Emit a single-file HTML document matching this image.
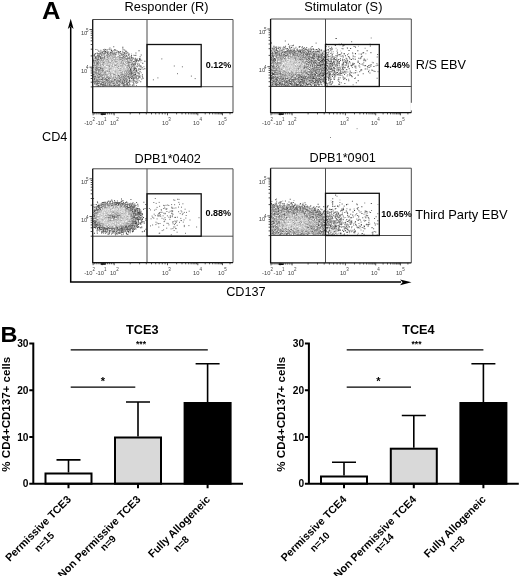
<!DOCTYPE html><html><head><meta charset="utf-8"><title>Figure</title><style>html,body{margin:0;padding:0;background:#fff}svg{display:block}text{font-family:"Liberation Sans",Arial,sans-serif;fill:#000}.b{font-weight:bold}.t{font-size:5.8px;fill:#444}.s{font-size:4.5px;fill:#444}</style></head><body>
<svg width="520" height="576" viewBox="0 0 520 576">
<rect width="520" height="576" fill="#fff"/>
<defs><filter id="bl" x="-5%" y="-5%" width="110%" height="110%"><feGaussianBlur stdDeviation="0.5"/></filter></defs>
<text class="b" font-size="23.2" transform="translate(42 19) scale(1.1 1)">A</text>
<path d="M70.7 27V282H401" stroke="#000" stroke-width="1.5" fill="none"/>
<path d="M70.7 18.8L73.6 29L70.7 26.6L67.8 29Z" fill="#000"/>
<path d="M411.5 282.3L400 279.4L402.6 282.3L400 285.2Z" fill="#000"/>
<text font-size="12.7" x="42" y="141.3">CD4</text>
<text font-size="12.7" x="226.2" y="296.3">CD137</text>
<text font-size="12.8" x="124.6" y="11.3">Responder (R)</text>
<text font-size="12.8" x="304.2" y="11.3">Stimulator (S)</text>
<text font-size="12.7" x="134.5" y="162.5">DPB1*0402</text>
<text font-size="12.7" x="309.5" y="162">DPB1*0901</text>
<text font-size="12.7" x="415.8" y="68.8">R/S EBV</text>
<text font-size="12.9" x="415.2" y="219">Third Party EBV</text>
<g filter="url(#bl)">
<path d="M122.3 47.3h1.05M108.6 49.3h1.05M104.8 49.5h1.05M110.9 50.4h1.05M114.3 49.6h1.05M105.0 51.5h1.05M111.4 51.0h1.05M119.8 51.4h1.05M125.3 51.1h1.05M138.5 50.8h1.05M103.5 51.6h1.05M105.5 52.3h1.05M110.2 52.5h1.05M116.2 52.2h1.05M118.6 52.3h1.05M99.5 53.4h1.05M110.1 53.1h1.05M111.1 52.9h1.05M113.8 53.3h1.05M123.9 52.6h1.05M93.9 54.4h1.05M95.0 53.8h1.05M108.1 54.3h1.05M120.4 53.6h1.05M123.9 53.7h1.05M126.2 53.8h1.05M94.0 54.8h1.05M97.2 55.3h1.05M99.0 54.9h1.05M111.3 55.0h1.05M113.6 55.2h1.05M121.2 55.1h1.05M93.5 55.8h1.05M97.7 56.3h1.05M100.0 56.4h1.05M134.5 55.5h1.05M99.7 57.2h1.05M103.9 56.9h1.05M117.6 56.7h1.05M130.7 56.8h1.05M95.1 57.6h1.05M100.3 57.5h1.05M102.3 58.2h1.05M103.9 57.6h1.05M124.2 57.8h1.05M128.5 58.1h1.05M130.7 57.9h1.05M131.5 57.8h1.05M95.5 58.8h1.05M96.7 58.9h1.05M97.6 59.5h1.05M106.4 59.2h1.05M126.3 58.7h1.05M127.3 58.7h1.05M136.6 58.9h1.05M134.5 59.9h1.05M135.8 60.1h1.05M139.1 59.6h1.05M95.3 60.6h1.05M133.0 61.4h1.05M136.0 61.3h1.05M137.8 61.0h1.05M138.4 60.8h1.05M144.3 61.2h1.05M134.2 61.7h1.05M96.5 63.1h1.05M128.2 62.6h1.05M142.2 63.3h1.05M133.9 63.8h1.05M115.6 64.8h1.05M133.5 65.7h1.05M140.3 65.9h1.05M131.4 66.8h1.05M136.6 66.8h1.05M95.2 67.7h1.05M96.2 68.1h1.05M133.8 68.5h1.05M96.9 69.0h1.05M100.0 68.8h1.05M129.7 68.6h1.05M130.5 69.3h1.05M133.8 69.4h1.05M144.3 68.8h1.05M96.1 70.3h1.05M129.8 69.6h1.05M130.2 70.4h1.05M136.1 70.2h1.05M97.7 70.8h1.05M101.7 70.6h1.05M130.5 70.6h1.05M132.8 70.7h1.05M135.8 71.3h1.05M136.3 71.3h1.05M105.2 72.3h1.05M126.2 72.3h1.05M129.5 71.5h1.05M130.6 72.2h1.05M137.4 72.4h1.05M131.0 73.1h1.05M98.7 74.3h1.05M129.6 74.1h1.05M135.1 74.4h1.05M93.0 74.8h1.05M133.3 75.1h1.05M134.3 74.8h1.05M96.8 75.7h1.05M131.1 76.2h1.05M131.9 76.1h1.05M133.3 75.9h1.05M137.3 75.7h1.05M94.1 76.6h1.05M99.1 76.9h1.05M129.5 77.2h1.05M94.4 78.2h1.05M118.7 78.5h1.05M124.1 78.0h1.05M131.0 78.5h1.05M133.4 78.2h1.05M134.6 77.9h1.05M138.0 78.0h1.05M142.5 78.3h1.05M93.8 79.5h1.05M93.9 78.9h1.05M128.6 78.7h1.05M133.2 79.3h1.05M97.2 80.1h1.05M101.6 79.8h1.05M126.6 80.1h1.05M128.9 80.3h1.05M133.4 80.5h1.05M94.5 81.4h1.05M97.4 81.4h1.05M107.8 80.8h1.05M111.4 81.2h1.05M115.9 81.1h1.05M120.4 80.7h1.05M128.8 81.2h1.05M135.3 81.2h1.05M93.2 82.0h1.05M97.8 81.8h1.05M98.8 81.9h1.05M120.2 82.1h1.05M123.8 81.8h1.05M125.5 81.9h1.05M126.1 81.7h1.05M128.1 82.4h1.05M130.4 81.8h1.05M132.6 82.3h1.05M136.3 82.0h1.05M96.3 83.2h1.05M100.6 83.4h1.05M101.6 82.5h1.05M102.7 82.7h1.05M105.1 83.1h1.05M112.5 83.1h1.05M121.0 83.3h1.05M126.8 82.9h1.05M97.2 83.8h1.05M97.9 83.5h1.05M102.2 84.5h1.05M102.9 84.2h1.05M110.2 83.7h1.05M112.8 83.7h1.05M126.3 83.6h1.05M127.0 84.4h1.05M98.0 85.4h1.05M105.1 85.2h1.05M109.4 85.0h1.05M113.9 85.4h1.05M131.8 85.3h1.05M97.1 86.3h1.05M102.4 86.4h1.05M107.4 85.7h1.05M109.4 85.6h1.05M123.1 85.9h1.05" stroke="#404040" stroke-width="1.05" stroke-opacity="1" fill="none"/>
<path d="M113.2 46.7h1.05M109.4 47.9h1.05M95.4 49.5h1.05M102.9 49.7h1.05M115.2 50.3h1.05M124.1 49.9h1.05M98.2 51.1h1.05M104.0 50.7h1.05M117.9 51.4h1.05M99.5 51.9h1.05M102.4 51.8h1.05M106.8 51.5h1.05M107.2 51.7h1.05M109.9 52.3h1.05M111.6 51.9h1.05M117.4 51.8h1.05M125.5 51.7h1.05M126.2 52.0h1.05M96.6 53.1h1.05M97.7 53.4h1.05M100.6 52.7h1.05M101.6 53.3h1.05M101.9 52.6h1.05M103.5 53.4h1.05M104.8 53.1h1.05M107.1 52.6h1.05M109.8 53.0h1.05M112.5 53.1h1.05M115.4 53.0h1.05M118.4 52.6h1.05M127.3 52.7h1.05M135.4 53.0h1.05M97.6 54.2h1.05M99.6 53.7h1.05M102.8 54.2h1.05M104.0 54.0h1.05M106.8 53.9h1.05M107.2 53.8h1.05M114.4 54.3h1.05M115.4 54.2h1.05M121.5 54.3h1.05M122.5 53.9h1.05M128.5 54.5h1.05M98.4 55.4h1.05M101.0 55.3h1.05M102.6 54.9h1.05M105.8 55.2h1.05M109.6 55.1h1.05M112.6 54.6h1.05M115.4 54.6h1.05M119.1 55.2h1.05M123.2 54.5h1.05M124.3 55.5h1.05M126.1 55.4h1.05M127.9 55.1h1.05M128.5 54.7h1.05M131.0 55.5h1.05M135.4 55.3h1.05M140.7 54.9h1.05M94.1 56.0h1.05M96.3 56.2h1.05M99.1 56.4h1.05M104.0 56.1h1.05M108.5 56.2h1.05M108.9 55.9h1.05M123.7 56.1h1.05M125.8 56.2h1.05M97.8 56.8h1.05M98.1 56.9h1.05M102.4 57.4h1.05M119.6 57.1h1.05M122.9 56.5h1.05M128.9 57.5h1.05M139.6 56.7h1.05M94.5 58.1h1.05M98.0 58.0h1.05M99.9 57.6h1.05M101.3 58.4h1.05M123.0 58.1h1.05M129.1 58.1h1.05M132.7 58.1h1.05M134.8 58.3h1.05M98.4 59.3h1.05M99.9 58.7h1.05M100.2 58.8h1.05M103.5 59.2h1.05M120.8 59.2h1.05M125.4 59.4h1.05M128.8 59.1h1.05M130.1 59.2h1.05M131.4 59.0h1.05M134.7 59.1h1.05M138.9 58.6h1.05M139.9 59.1h1.05M92.9 60.1h1.05M97.0 59.7h1.05M98.4 60.0h1.05M107.6 60.5h1.05M110.8 60.0h1.05M119.3 59.7h1.05M121.8 60.5h1.05M123.3 59.8h1.05M126.6 59.7h1.05M131.2 60.4h1.05M136.5 60.1h1.05M136.9 60.3h1.05M93.2 60.6h1.05M127.1 60.8h1.05M131.3 60.6h1.05M134.9 61.0h1.05M135.8 60.6h1.05M93.1 62.0h1.05M95.6 61.8h1.05M103.2 62.4h1.05M115.2 61.6h1.05M127.0 62.1h1.05M129.3 62.4h1.05M97.1 62.8h1.05M106.6 62.9h1.05M119.7 63.3h1.05M121.0 63.1h1.05M129.2 62.7h1.05M135.2 62.6h1.05M137.3 63.2h1.05M94.4 64.0h1.05M96.1 64.1h1.05M97.2 63.8h1.05M99.4 63.7h1.05M102.2 64.1h1.05M122.6 63.6h1.05M131.1 64.2h1.05M135.2 63.5h1.05M96.7 65.0h1.05M99.8 65.4h1.05M127.5 65.4h1.05M131.0 65.2h1.05M132.5 64.6h1.05M133.4 64.6h1.05M134.8 64.6h1.05M94.2 65.7h1.05M96.1 66.1h1.05M106.0 65.5h1.05M114.8 65.5h1.05M121.4 66.4h1.05M126.9 65.8h1.05M127.9 66.0h1.05M96.4 67.3h1.05M99.7 67.0h1.05M128.8 66.8h1.05M129.1 67.4h1.05M130.8 67.4h1.05M133.5 66.9h1.05M134.4 67.3h1.05M139.6 66.6h1.05M93.2 67.8h1.05M100.2 67.9h1.05M101.3 68.1h1.05M104.4 67.8h1.05M123.3 68.1h1.05M128.7 68.0h1.05M130.9 68.3h1.05M134.6 68.2h1.05M135.0 68.3h1.05M141.6 67.6h1.05M102.2 68.7h1.05M109.5 69.0h1.05M127.7 69.0h1.05M134.6 68.7h1.05M135.6 68.5h1.05M138.6 68.9h1.05M139.9 69.4h1.05M140.4 68.9h1.05M142.6 69.2h1.05M99.5 70.1h1.05M101.4 70.1h1.05M125.1 70.2h1.05M132.8 70.3h1.05M133.4 70.2h1.05M135.7 70.0h1.05M137.8 70.0h1.05M93.6 71.3h1.05M98.6 71.2h1.05M103.0 70.7h1.05M108.5 71.4h1.05M119.6 70.8h1.05M131.4 71.4h1.05M139.5 71.5h1.05M93.5 71.8h1.05M94.5 72.4h1.05M95.8 72.1h1.05M97.9 71.9h1.05M103.5 72.2h1.05M109.0 71.5h1.05M127.8 72.4h1.05M131.5 71.9h1.05M95.2 73.1h1.05M97.6 72.9h1.05M99.5 73.0h1.05M100.2 73.1h1.05M104.0 73.3h1.05M128.8 73.2h1.05M129.6 72.8h1.05M132.3 73.2h1.05M138.6 73.1h1.05M93.6 73.9h1.05M96.1 74.1h1.05M97.5 73.9h1.05M99.5 74.5h1.05M109.9 74.1h1.05M113.2 74.4h1.05M120.9 74.2h1.05M121.4 74.0h1.05M128.4 74.1h1.05M130.7 74.0h1.05M131.4 73.6h1.05M133.1 74.3h1.05M98.4 74.5h1.05M105.4 74.6h1.05M115.5 75.4h1.05M117.9 75.5h1.05M119.8 75.1h1.05M122.2 74.7h1.05M125.8 75.1h1.05M128.4 75.1h1.05M129.9 75.5h1.05M131.3 74.8h1.05M141.9 74.7h1.05M95.2 76.4h1.05M101.4 75.7h1.05M107.4 76.5h1.05M118.8 76.3h1.05M121.0 76.1h1.05M123.7 75.6h1.05M124.6 76.2h1.05M125.4 76.1h1.05M126.7 76.2h1.05M127.9 76.4h1.05M128.4 76.4h1.05M134.5 75.9h1.05M135.8 75.7h1.05M139.0 76.4h1.05M141.9 76.3h1.05M93.6 76.7h1.05M95.0 76.9h1.05M97.4 77.1h1.05M98.3 77.4h1.05M107.7 77.3h1.05M115.2 77.5h1.05M123.0 76.8h1.05M127.4 77.3h1.05M128.4 77.0h1.05M131.8 77.2h1.05M133.4 77.4h1.05M135.3 77.1h1.05M136.0 77.2h1.05M98.4 78.2h1.05M102.5 78.5h1.05M106.6 77.8h1.05M108.0 78.4h1.05M110.0 78.3h1.05M111.5 77.9h1.05M121.2 77.8h1.05M129.0 78.3h1.05M130.3 77.5h1.05M136.5 78.4h1.05M95.9 79.3h1.05M98.6 79.4h1.05M100.7 79.5h1.05M101.7 79.4h1.05M102.1 78.6h1.05M104.6 78.6h1.05M105.0 78.8h1.05M106.1 79.2h1.05M108.6 78.5h1.05M111.3 79.2h1.05M113.7 79.3h1.05M114.3 79.3h1.05M115.4 79.2h1.05M119.9 79.3h1.05M122.4 78.6h1.05M123.2 79.1h1.05M125.2 78.8h1.05M129.1 78.6h1.05M131.7 78.8h1.05M132.9 79.0h1.05M94.6 79.9h1.05M96.2 80.5h1.05M98.8 79.5h1.05M99.6 80.0h1.05M100.2 79.9h1.05M105.6 79.9h1.05M106.0 80.1h1.05M107.1 79.7h1.05M110.5 80.5h1.05M114.2 79.9h1.05M119.8 80.0h1.05M122.5 80.2h1.05M123.4 79.6h1.05M124.0 80.4h1.05M125.4 79.6h1.05M130.4 80.3h1.05M132.4 80.2h1.05M136.7 79.9h1.05M93.6 80.9h1.05M96.3 81.5h1.05M103.5 81.1h1.05M104.3 81.4h1.05M105.4 80.8h1.05M106.9 80.9h1.05M109.3 81.4h1.05M110.9 81.4h1.05M112.2 81.2h1.05M114.2 80.8h1.05M117.6 81.2h1.05M118.2 81.1h1.05M121.7 81.2h1.05M124.3 80.5h1.05M125.9 81.4h1.05M128.9 81.0h1.05M94.8 82.1h1.05M95.3 81.6h1.05M99.2 81.7h1.05M100.6 81.8h1.05M107.5 82.0h1.05M113.7 82.3h1.05M118.6 82.5h1.05M118.9 81.6h1.05M122.0 81.9h1.05M124.4 82.2h1.05M137.2 82.3h1.05M140.2 81.7h1.05M94.0 83.1h1.05M96.9 82.7h1.05M99.2 83.2h1.05M103.0 82.6h1.05M104.2 82.9h1.05M109.6 82.8h1.05M109.9 83.0h1.05M113.4 83.4h1.05M115.6 83.2h1.05M116.3 82.6h1.05M120.8 83.4h1.05M121.9 83.1h1.05M123.5 82.6h1.05M127.0 83.2h1.05M129.0 83.1h1.05M133.1 83.0h1.05M96.0 84.0h1.05M99.8 84.3h1.05M100.7 84.3h1.05M105.2 84.2h1.05M108.9 83.9h1.05M117.0 83.7h1.05M118.2 84.2h1.05M122.5 84.3h1.05M122.9 83.5h1.05M124.2 84.2h1.05M125.7 84.4h1.05M129.4 84.4h1.05M96.5 84.6h1.05M97.8 85.3h1.05M100.2 84.8h1.05M101.4 84.6h1.05M103.3 85.4h1.05M108.8 84.6h1.05M110.3 84.9h1.05M112.6 85.4h1.05M114.7 84.6h1.05M115.5 85.1h1.05M117.8 85.2h1.05M119.0 84.8h1.05M122.7 85.1h1.05M123.7 85.2h1.05M125.4 85.0h1.05M127.0 84.6h1.05M128.1 85.3h1.05M129.2 84.9h1.05M133.4 85.1h1.05M97.9 86.1h1.05M99.2 85.9h1.05M101.8 85.7h1.05M104.3 85.7h1.05M105.8 85.8h1.05M111.0 85.8h1.05M112.5 85.9h1.05M116.8 85.8h1.05M118.1 86.1h1.05M119.3 85.7h1.05M123.9 86.2h1.05M125.5 86.0h1.05M126.9 85.9h1.05M128.2 86.4h1.05" stroke="#626262" stroke-width="1.05" stroke-opacity="1" fill="none"/>
<path d="M104.2 49.3h1.05M106.6 49.5h1.05M110.8 49.2h1.05M122.3 48.8h1.05M97.1 49.9h1.05M100.3 50.3h1.05M105.6 50.3h1.05M109.5 49.8h1.05M122.6 49.5h1.05M100.6 51.2h1.05M102.6 51.3h1.05M107.0 51.1h1.05M113.2 50.7h1.05M114.2 50.7h1.05M116.5 50.5h1.05M122.4 50.9h1.05M104.2 52.2h1.05M108.1 52.3h1.05M112.0 51.5h1.05M114.3 52.4h1.05M119.5 52.4h1.05M121.8 51.9h1.05M122.7 52.4h1.05M124.3 52.4h1.05M98.9 53.4h1.05M105.1 53.2h1.05M106.2 52.5h1.05M114.5 52.7h1.05M117.8 53.3h1.05M119.3 52.9h1.05M124.4 53.4h1.05M128.4 53.4h1.05M100.3 54.3h1.05M101.2 54.3h1.05M103.8 54.1h1.05M111.6 53.5h1.05M112.1 53.7h1.05M113.2 53.8h1.05M125.0 54.0h1.05M100.6 54.9h1.05M106.5 55.0h1.05M107.0 54.9h1.05M109.9 54.5h1.05M114.9 55.0h1.05M120.1 55.4h1.05M133.3 55.2h1.05M98.5 56.4h1.05M102.4 55.8h1.05M106.7 56.0h1.05M107.1 56.4h1.05M110.5 55.9h1.05M112.3 56.2h1.05M119.1 55.6h1.05M122.3 55.6h1.05M129.1 56.2h1.05M94.9 56.5h1.05M96.3 57.0h1.05M101.2 57.3h1.05M104.3 56.7h1.05M106.4 57.2h1.05M108.6 56.8h1.05M113.9 57.1h1.05M118.8 57.2h1.05M120.3 57.4h1.05M121.7 57.5h1.05M122.3 57.2h1.05M124.8 56.9h1.05M125.0 56.5h1.05M126.8 56.7h1.05M127.4 57.2h1.05M96.2 57.8h1.05M97.7 57.6h1.05M104.1 57.6h1.05M106.9 57.6h1.05M107.9 58.3h1.05M110.0 57.8h1.05M112.2 58.0h1.05M113.0 57.8h1.05M115.7 57.7h1.05M116.2 57.7h1.05M118.8 58.1h1.05M120.6 57.6h1.05M121.8 58.5h1.05M122.0 57.9h1.05M125.3 58.4h1.05M126.7 58.3h1.05M94.4 58.9h1.05M104.3 58.6h1.05M107.3 59.4h1.05M109.6 58.6h1.05M111.4 58.9h1.05M114.7 59.4h1.05M119.8 59.4h1.05M124.1 59.1h1.05M129.2 58.7h1.05M133.1 58.7h1.05M94.0 60.4h1.05M96.2 59.8h1.05M99.5 60.0h1.05M100.9 60.1h1.05M101.0 59.6h1.05M103.0 60.1h1.05M105.2 59.9h1.05M116.7 59.6h1.05M120.1 59.8h1.05M122.6 59.7h1.05M132.0 59.8h1.05M141.2 60.2h1.05M96.8 60.5h1.05M97.3 61.0h1.05M98.0 61.4h1.05M99.6 61.0h1.05M101.7 60.8h1.05M102.4 61.0h1.05M105.5 61.2h1.05M111.3 60.6h1.05M112.2 60.5h1.05M116.1 61.2h1.05M118.5 60.7h1.05M121.3 61.3h1.05M123.4 61.1h1.05M128.8 60.9h1.05M129.8 60.6h1.05M130.6 61.0h1.05M140.1 60.8h1.05M94.4 62.0h1.05M96.7 62.2h1.05M97.8 61.8h1.05M98.1 62.4h1.05M100.3 62.3h1.05M102.1 62.2h1.05M104.1 62.1h1.05M107.9 61.6h1.05M110.2 62.4h1.05M121.2 62.0h1.05M125.0 62.1h1.05M128.2 61.6h1.05M131.5 61.9h1.05M133.2 61.8h1.05M93.8 63.2h1.05M94.0 62.8h1.05M95.8 62.8h1.05M102.8 63.0h1.05M105.4 63.2h1.05M122.9 62.7h1.05M126.5 63.1h1.05M130.2 62.6h1.05M131.7 63.4h1.05M132.2 63.2h1.05M93.7 63.8h1.05M97.9 63.8h1.05M100.0 63.6h1.05M107.3 64.1h1.05M109.3 64.2h1.05M116.7 63.8h1.05M117.5 63.9h1.05M123.6 63.9h1.05M124.1 64.3h1.05M127.8 63.8h1.05M128.5 64.2h1.05M130.4 64.4h1.05M132.7 63.8h1.05M138.8 64.0h1.05M94.7 64.6h1.05M98.1 64.7h1.05M100.1 65.0h1.05M101.3 64.7h1.05M102.7 64.8h1.05M108.9 65.5h1.05M125.4 65.5h1.05M128.2 64.7h1.05M137.0 64.5h1.05M138.7 65.1h1.05M93.0 65.8h1.05M95.1 65.5h1.05M97.4 66.3h1.05M102.9 65.7h1.05M107.7 65.9h1.05M110.6 65.7h1.05M112.2 66.4h1.05M116.3 65.6h1.05M118.1 66.1h1.05M122.1 65.7h1.05M128.7 65.6h1.05M132.7 65.6h1.05M136.7 66.3h1.05M137.6 65.8h1.05M139.6 65.8h1.05M93.0 67.5h1.05M94.5 67.0h1.05M98.3 67.5h1.05M109.0 66.6h1.05M117.0 67.3h1.05M118.0 66.7h1.05M126.1 67.1h1.05M127.0 67.2h1.05M132.1 66.5h1.05M140.2 66.6h1.05M143.4 66.7h1.05M97.5 67.6h1.05M98.4 67.8h1.05M99.2 67.7h1.05M102.6 68.2h1.05M108.6 68.1h1.05M118.2 68.4h1.05M132.8 68.0h1.05M138.4 68.4h1.05M94.6 68.7h1.05M95.3 68.8h1.05M96.2 69.3h1.05M98.1 69.2h1.05M99.1 69.4h1.05M101.7 69.0h1.05M110.5 68.6h1.05M120.0 68.6h1.05M132.6 68.9h1.05M136.0 69.2h1.05M94.6 69.6h1.05M95.0 69.6h1.05M97.5 69.9h1.05M98.3 69.9h1.05M102.1 70.0h1.05M106.6 70.4h1.05M108.8 69.7h1.05M109.1 70.0h1.05M118.7 70.3h1.05M120.6 70.1h1.05M126.4 70.2h1.05M127.5 69.8h1.05M131.0 70.2h1.05M134.7 70.5h1.05M139.3 69.7h1.05M95.0 71.1h1.05M99.5 70.7h1.05M102.0 71.1h1.05M104.6 71.2h1.05M115.4 70.8h1.05M120.8 70.5h1.05M122.0 71.4h1.05M123.7 71.1h1.05M125.5 71.5h1.05M126.8 71.0h1.05M127.7 71.3h1.05M128.7 70.5h1.05M129.7 71.1h1.05M134.3 71.0h1.05M95.9 71.8h1.05M101.9 71.6h1.05M104.5 72.2h1.05M106.9 71.5h1.05M108.3 71.7h1.05M114.6 72.0h1.05M115.5 72.0h1.05M116.8 72.2h1.05M120.3 72.2h1.05M121.3 72.3h1.05M125.4 71.7h1.05M128.4 72.1h1.05M132.4 72.2h1.05M133.9 72.4h1.05M134.8 72.1h1.05M96.6 73.1h1.05M98.2 73.1h1.05M110.1 72.8h1.05M119.4 73.3h1.05M121.7 72.9h1.05M123.9 72.8h1.05M124.2 73.3h1.05M126.7 73.2h1.05M129.9 73.4h1.05M133.2 72.9h1.05M134.8 73.4h1.05M135.4 72.8h1.05M137.6 73.4h1.05M140.6 72.7h1.05M94.2 74.3h1.05M95.5 73.9h1.05M101.3 74.3h1.05M102.8 74.5h1.05M104.6 74.1h1.05M111.3 73.8h1.05M114.1 74.5h1.05M122.5 74.5h1.05M125.1 73.7h1.05M126.2 74.0h1.05M127.0 73.9h1.05M137.6 73.8h1.05M138.6 73.6h1.05M94.6 75.4h1.05M99.6 75.2h1.05M100.7 74.9h1.05M101.9 75.2h1.05M102.7 74.9h1.05M103.7 74.5h1.05M106.2 75.1h1.05M107.1 74.9h1.05M110.3 75.4h1.05M113.0 74.9h1.05M114.7 74.8h1.05M117.0 75.0h1.05M121.0 74.6h1.05M123.7 74.7h1.05M124.4 74.9h1.05M126.1 75.3h1.05M127.7 74.6h1.05M130.4 75.3h1.05M132.9 75.1h1.05M93.0 76.3h1.05M94.1 76.2h1.05M97.3 75.9h1.05M98.3 76.2h1.05M99.1 76.2h1.05M100.2 76.2h1.05M102.3 75.8h1.05M110.4 76.1h1.05M117.3 76.4h1.05M118.9 76.3h1.05M130.4 76.1h1.05M136.4 76.1h1.05M138.8 76.0h1.05M140.2 76.0h1.05M100.4 76.8h1.05M101.3 76.7h1.05M102.3 77.4h1.05M103.9 77.0h1.05M105.9 77.1h1.05M105.9 77.5h1.05M109.3 76.9h1.05M112.9 77.4h1.05M114.6 76.6h1.05M117.0 76.6h1.05M118.5 77.3h1.05M119.2 76.8h1.05M120.9 76.8h1.05M121.8 76.7h1.05M122.0 76.9h1.05M124.0 77.5h1.05M125.6 77.4h1.05M130.4 76.9h1.05M132.4 77.4h1.05M138.1 76.6h1.05M139.1 77.5h1.05M142.0 77.1h1.05M93.2 77.8h1.05M95.5 78.1h1.05M96.2 77.8h1.05M97.2 78.0h1.05M101.5 77.8h1.05M103.5 77.5h1.05M107.5 77.8h1.05M109.1 77.5h1.05M113.0 77.9h1.05M114.6 77.6h1.05M117.3 77.7h1.05M119.7 77.5h1.05M120.3 77.9h1.05M123.2 77.5h1.05M125.2 78.3h1.05M126.0 78.5h1.05M128.0 77.9h1.05M139.7 77.7h1.05M97.3 79.5h1.05M99.1 79.4h1.05M103.5 79.4h1.05M107.4 79.5h1.05M108.9 79.4h1.05M112.2 78.9h1.05M116.1 78.5h1.05M120.7 78.7h1.05M124.5 79.3h1.05M126.4 79.3h1.05M126.9 79.4h1.05M135.5 78.8h1.05M136.2 79.0h1.05M138.0 78.7h1.05M141.2 79.1h1.05M95.9 79.6h1.05M102.3 79.9h1.05M103.9 79.5h1.05M104.8 79.5h1.05M116.8 79.8h1.05M117.9 80.4h1.05M95.2 80.9h1.05M98.4 80.6h1.05M100.0 81.2h1.05M101.5 81.4h1.05M102.3 80.6h1.05M108.7 80.9h1.05M112.9 81.3h1.05M116.9 80.6h1.05M119.1 80.5h1.05M122.3 81.0h1.05M126.0 80.5h1.05M127.3 81.1h1.05M132.7 81.4h1.05M134.1 81.1h1.05M138.6 80.6h1.05M96.3 81.8h1.05M102.8 81.9h1.05M103.1 81.9h1.05M105.5 82.0h1.05M106.1 82.1h1.05M108.5 82.4h1.05M109.3 82.4h1.05M110.7 81.9h1.05M111.0 81.9h1.05M112.3 81.8h1.05M114.1 82.4h1.05M115.7 81.6h1.05M115.9 82.1h1.05M117.4 82.1h1.05M95.2 82.8h1.05M107.3 82.8h1.05M108.3 83.0h1.05M111.2 82.5h1.05M116.9 83.0h1.05M119.1 83.2h1.05M124.1 83.0h1.05M135.0 82.7h1.05M136.2 83.5h1.05M94.3 84.1h1.05M95.5 83.6h1.05M101.4 83.9h1.05M104.2 84.0h1.05M106.8 83.6h1.05M107.4 83.9h1.05M111.6 83.9h1.05M113.2 83.9h1.05M114.1 83.6h1.05M119.5 84.4h1.05M133.3 83.6h1.05M95.6 84.9h1.05M99.9 85.0h1.05M102.8 85.5h1.05M104.0 84.9h1.05M106.6 85.3h1.05M107.2 85.0h1.05M111.0 85.4h1.05M118.0 85.2h1.05M132.6 84.8h1.05M135.9 85.5h1.05M96.5 86.2h1.05M99.9 86.4h1.05M103.0 86.4h1.05M108.7 85.9h1.05M110.8 86.1h1.05M113.0 85.9h1.05M114.7 86.3h1.05M115.8 85.7h1.05M130.0 86.2h1.05" stroke="#888888" stroke-width="1.05" stroke-opacity="1" fill="none"/>
<path d="M106.8 49.6h1.05M113.5 50.2h1.05M108.3 51.4h1.05M113.8 52.2h1.05M108.5 53.4h1.05M94.0 54.0h1.05M98.5 54.2h1.05M109.0 53.5h1.05M131.0 54.0h1.05M103.0 54.6h1.05M104.1 55.0h1.05M108.1 55.3h1.05M117.8 54.5h1.05M122.5 55.2h1.05M101.6 55.9h1.05M111.3 56.4h1.05M114.2 55.9h1.05M115.1 56.4h1.05M117.7 56.3h1.05M118.7 56.3h1.05M100.4 56.8h1.05M105.1 56.6h1.05M107.3 56.7h1.05M111.7 56.7h1.05M112.5 56.9h1.05M113.8 57.1h1.05M115.1 57.2h1.05M108.1 57.9h1.05M111.3 58.0h1.05M114.7 57.9h1.05M117.1 57.6h1.05M119.6 58.5h1.05M101.4 59.1h1.05M102.9 58.8h1.05M105.2 59.0h1.05M112.6 58.9h1.05M113.1 59.4h1.05M114.9 59.1h1.05M116.4 59.1h1.05M118.3 58.8h1.05M121.1 59.2h1.05M122.6 59.5h1.05M95.6 59.8h1.05M106.2 59.9h1.05M108.5 59.6h1.05M111.1 60.1h1.05M113.9 59.8h1.05M114.2 60.4h1.05M115.1 59.8h1.05M118.0 59.9h1.05M124.4 60.1h1.05M127.3 60.4h1.05M129.7 59.8h1.05M93.9 61.1h1.05M100.1 61.3h1.05M102.9 61.0h1.05M104.4 60.9h1.05M106.9 61.2h1.05M113.7 61.2h1.05M114.7 60.8h1.05M124.6 61.2h1.05M125.9 61.4h1.05M99.4 62.3h1.05M101.0 62.2h1.05M106.0 61.6h1.05M107.9 62.4h1.05M109.0 62.4h1.05M111.0 61.6h1.05M112.0 61.9h1.05M113.1 62.2h1.05M114.7 62.3h1.05M116.7 61.5h1.05M118.7 61.8h1.05M120.4 62.1h1.05M122.3 61.9h1.05M124.2 61.5h1.05M126.7 61.8h1.05M130.8 62.1h1.05M132.0 62.4h1.05M140.4 62.3h1.05M98.8 62.7h1.05M99.8 63.4h1.05M103.3 63.4h1.05M107.8 62.9h1.05M109.8 63.0h1.05M110.5 63.4h1.05M112.6 63.3h1.05M115.6 62.7h1.05M116.8 62.9h1.05M117.2 63.0h1.05M120.8 63.5h1.05M122.8 62.8h1.05M125.7 63.4h1.05M127.2 62.6h1.05M133.6 63.2h1.05M104.0 63.8h1.05M105.6 64.2h1.05M111.8 64.1h1.05M112.2 63.7h1.05M113.6 64.2h1.05M115.2 64.5h1.05M121.7 64.3h1.05M125.7 63.7h1.05M126.8 64.0h1.05M128.9 64.2h1.05M137.3 63.8h1.05M95.8 65.3h1.05M97.9 65.3h1.05M105.4 64.9h1.05M107.0 65.5h1.05M111.9 65.1h1.05M113.9 64.6h1.05M114.4 65.4h1.05M117.5 65.2h1.05M119.8 65.3h1.05M120.8 65.4h1.05M121.7 64.6h1.05M122.4 65.2h1.05M123.7 64.6h1.05M124.7 64.5h1.05M130.6 65.5h1.05M98.7 65.9h1.05M99.9 65.9h1.05M101.0 66.2h1.05M108.1 65.6h1.05M109.2 65.8h1.05M111.4 65.7h1.05M113.8 66.1h1.05M119.9 65.5h1.05M123.3 66.3h1.05M125.3 65.6h1.05M129.8 66.4h1.05M131.7 65.7h1.05M134.1 66.4h1.05M135.7 66.1h1.05M138.8 66.2h1.05M95.7 66.8h1.05M97.0 66.5h1.05M100.7 66.5h1.05M102.4 67.2h1.05M104.1 66.8h1.05M105.0 67.0h1.05M110.9 66.9h1.05M112.1 66.6h1.05M114.9 67.4h1.05M119.7 66.6h1.05M140.9 66.6h1.05M94.9 68.3h1.05M103.5 67.9h1.05M106.0 67.7h1.05M110.4 68.1h1.05M116.8 67.9h1.05M117.0 67.8h1.05M121.6 67.6h1.05M126.3 67.5h1.05M127.4 68.4h1.05M131.3 68.0h1.05M93.8 69.0h1.05M103.7 69.2h1.05M104.9 68.7h1.05M106.4 68.7h1.05M107.6 69.2h1.05M108.5 68.7h1.05M111.3 69.1h1.05M121.1 68.8h1.05M123.5 68.5h1.05M126.1 68.9h1.05M128.2 69.0h1.05M131.3 68.7h1.05M100.7 69.9h1.05M103.1 69.8h1.05M107.5 70.4h1.05M113.1 70.3h1.05M114.7 70.1h1.05M122.5 70.1h1.05M123.6 69.6h1.05M128.0 70.5h1.05M94.8 71.1h1.05M96.0 71.4h1.05M100.3 71.5h1.05M105.5 70.5h1.05M106.1 71.1h1.05M109.1 71.1h1.05M113.3 70.8h1.05M114.5 71.4h1.05M117.2 70.9h1.05M118.2 70.9h1.05M124.2 71.5h1.05M133.7 70.9h1.05M97.8 72.2h1.05M99.1 71.7h1.05M100.7 72.5h1.05M101.7 72.1h1.05M119.6 72.5h1.05M123.9 71.7h1.05M124.0 71.9h1.05M93.0 72.8h1.05M94.5 73.0h1.05M101.1 72.5h1.05M102.6 73.4h1.05M103.8 72.9h1.05M104.9 73.3h1.05M108.7 73.4h1.05M109.3 72.8h1.05M111.9 73.3h1.05M113.3 73.5h1.05M114.8 73.0h1.05M117.6 72.8h1.05M118.1 73.0h1.05M120.4 73.0h1.05M122.0 73.2h1.05M125.7 73.2h1.05M136.5 73.1h1.05M100.5 74.3h1.05M105.3 73.6h1.05M106.5 74.5h1.05M107.6 73.8h1.05M108.0 73.9h1.05M110.5 74.0h1.05M112.7 74.0h1.05M116.4 73.9h1.05M116.9 73.5h1.05M124.9 73.8h1.05M132.7 74.0h1.05M96.1 75.1h1.05M97.8 74.9h1.05M104.1 75.2h1.05M109.6 75.2h1.05M116.4 75.5h1.05M120.6 74.9h1.05M137.9 75.3h1.05M138.9 74.6h1.05M103.8 76.3h1.05M104.1 76.1h1.05M105.5 75.7h1.05M106.4 76.4h1.05M111.0 76.5h1.05M112.8 76.1h1.05M114.4 75.8h1.05M121.9 75.8h1.05M129.6 75.6h1.05M96.5 77.0h1.05M104.3 77.2h1.05M108.0 77.4h1.05M110.4 77.2h1.05M111.0 76.6h1.05M113.2 77.2h1.05M126.4 76.7h1.05M134.6 77.0h1.05M99.6 78.2h1.05M100.7 78.3h1.05M104.3 77.7h1.05M105.8 78.3h1.05M112.0 78.3h1.05M115.6 77.7h1.05M116.9 78.3h1.05M122.7 78.1h1.05M126.9 77.9h1.05M95.7 78.8h1.05M117.4 79.2h1.05M118.5 79.2h1.05M137.2 78.8h1.05M93.4 80.0h1.05M108.8 80.1h1.05M109.6 80.4h1.05M111.6 80.2h1.05M112.0 80.2h1.05M113.0 80.3h1.05M115.1 80.5h1.05M117.2 79.6h1.05M120.9 79.6h1.05M121.8 79.6h1.05M123.1 81.2h1.05M130.0 80.6h1.05M101.7 81.7h1.05M104.0 82.1h1.05M121.1 81.9h1.05M133.2 81.6h1.05M98.2 83.0h1.05M106.8 82.8h1.05M114.0 82.8h1.05M128.5 83.0h1.05M115.4 84.4h1.05M116.3 84.8h1.05M121.5 85.1h1.05M106.2 86.0h1.05" stroke="#acacac" stroke-width="1.05" stroke-opacity="1" fill="none"/>
<path d="M106.7 51.0h1.05M105.7 54.2h1.05M110.6 53.8h1.05M103.2 55.8h1.05M105.2 56.1h1.05M113.8 55.7h1.05M120.5 55.6h1.05M124.2 56.3h1.05M109.0 57.3h1.05M110.5 56.8h1.05M116.6 57.4h1.05M129.6 57.4h1.05M105.8 57.7h1.05M109.5 57.8h1.05M93.3 58.9h1.05M108.0 59.4h1.05M110.4 59.3h1.05M117.9 58.7h1.05M123.1 59.1h1.05M102.0 59.5h1.05M104.8 59.8h1.05M109.1 59.6h1.05M112.3 59.9h1.05M117.7 60.1h1.05M125.2 59.8h1.05M128.8 59.9h1.05M107.0 60.8h1.05M108.6 61.1h1.05M109.2 61.4h1.05M110.5 60.7h1.05M115.1 60.7h1.05M117.3 60.7h1.05M119.2 61.0h1.05M119.9 61.3h1.05M122.4 61.3h1.05M125.2 60.9h1.05M105.5 61.8h1.05M117.7 62.5h1.05M118.9 62.1h1.05M123.8 61.5h1.05M100.3 63.2h1.05M101.6 62.7h1.05M104.0 63.2h1.05M108.3 63.5h1.05M111.5 62.9h1.05M113.7 63.4h1.05M114.5 62.8h1.05M118.2 63.2h1.05M124.3 63.3h1.05M134.2 62.5h1.05M95.0 64.5h1.05M101.1 64.4h1.05M103.8 64.4h1.05M106.1 63.5h1.05M108.6 64.1h1.05M110.1 64.3h1.05M114.7 64.5h1.05M118.7 64.1h1.05M119.1 64.4h1.05M120.5 64.1h1.05M103.8 64.7h1.05M103.9 64.7h1.05M106.4 64.6h1.05M109.5 64.9h1.05M110.1 65.0h1.05M111.4 65.2h1.05M116.5 65.0h1.05M118.5 65.2h1.05M126.4 65.5h1.05M129.9 64.7h1.05M99.6 66.2h1.05M102.2 66.1h1.05M104.8 66.5h1.05M105.7 65.8h1.05M115.8 66.3h1.05M117.7 65.6h1.05M118.9 66.2h1.05M124.1 66.2h1.05M129.9 66.4h1.05M101.2 66.8h1.05M103.6 66.8h1.05M106.2 67.5h1.05M107.5 67.2h1.05M108.1 67.0h1.05M110.4 67.3h1.05M113.0 67.3h1.05M115.3 67.3h1.05M116.0 67.1h1.05M120.6 66.6h1.05M121.1 67.2h1.05M122.5 66.8h1.05M123.8 67.3h1.05M124.0 67.5h1.05M125.7 66.9h1.05M105.1 68.3h1.05M107.8 68.1h1.05M109.1 67.8h1.05M111.5 68.2h1.05M112.1 67.9h1.05M113.3 67.9h1.05M114.3 67.5h1.05M115.8 67.7h1.05M118.9 67.9h1.05M120.8 67.9h1.05M122.9 67.9h1.05M124.4 68.5h1.05M125.8 68.5h1.05M129.3 68.3h1.05M104.4 68.6h1.05M112.5 69.3h1.05M113.2 68.7h1.05M114.9 69.0h1.05M114.9 68.7h1.05M116.1 69.3h1.05M117.0 69.3h1.05M118.6 69.2h1.05M119.7 69.0h1.05M122.2 69.4h1.05M124.6 69.4h1.05M125.1 68.7h1.05M104.3 69.8h1.05M105.4 70.5h1.05M110.4 70.0h1.05M111.2 70.1h1.05M112.8 70.4h1.05M115.5 70.3h1.05M116.8 69.9h1.05M117.4 70.4h1.05M119.1 69.5h1.05M121.4 70.2h1.05M124.7 69.9h1.05M107.8 70.7h1.05M110.3 71.4h1.05M111.5 71.0h1.05M111.9 70.7h1.05M116.1 70.8h1.05M121.0 70.7h1.05M107.7 72.1h1.05M110.8 71.9h1.05M111.9 71.9h1.05M112.0 72.0h1.05M113.4 72.3h1.05M117.3 72.0h1.05M118.4 72.1h1.05M122.5 71.6h1.05M106.3 73.4h1.05M107.8 72.6h1.05M111.4 73.0h1.05M115.6 72.9h1.05M116.8 73.0h1.05M127.4 72.7h1.05M103.6 74.1h1.05M115.0 73.5h1.05M118.1 74.4h1.05M118.9 73.7h1.05M123.1 73.7h1.05M95.5 75.2h1.05M108.1 74.5h1.05M110.9 75.3h1.05M112.6 75.3h1.05M108.8 75.6h1.05M109.3 76.0h1.05M113.6 75.6h1.05M115.7 75.6h1.05M116.6 76.2h1.05M120.6 75.8h1.05M116.8 76.8h1.05M110.7 79.1h1.05M121.2 78.7h1.05M127.7 80.0h1.05M99.8 80.6h1.05M118.5 82.6h1.05M109.8 83.9h1.05M116.2 84.4h1.05M120.8 84.1h1.05M95.2 86.1h1.05" stroke="#cdcdcd" stroke-width="1.05" stroke-opacity="1" fill="none"/>
<path d="M157.4 77.9h1.0M190.9 76.1h1.0M177.0 73.7h1.0M152.9 79.8h1.0M161.3 58.9h1.0M181.9 66.8h1.0M194.7 78.6h1.0M173.8 66.0h1.0" stroke="#666" stroke-width="1.0" stroke-opacity="0.95" fill="none"/>
</g>
<path d="M92.7 19.5H233V112.7" stroke="#4a4a4a" stroke-width="1" fill="none"/>
<path d="M147 19.5V112.7M92.7 86.7H233" stroke="#4a4a4a" stroke-width="1" fill="none"/>
<path d="M92.7 19.5V112.7H233" stroke="#111" stroke-width="1.3" fill="none"/>
<rect x="147" y="44.5" width="54.19999999999999" height="42.2" stroke="#111" stroke-width="1.3" fill="none"/>
<path d="M90.7 55.9h2M90.7 49.2h2M90.7 44.5h2M90.7 40.8h2M90.7 37.9h2M90.7 35.3h2M90.7 33.2h2M90.7 31.2h2M90.7 86.9h2M90.7 82.2h2M90.7 78.5h2M90.7 75.6h2M90.7 73.0h2M90.7 70.9h2M90.7 68.9h2M89.5 29.5h3.2M89.5 67.2h3.2" stroke="#222" stroke-width="0.8" fill="none"/>
<text class="t" x="80.9" y="34.9">10</text><text class="s" x="86.1" y="31.6">5</text>
<text class="t" x="80.9" y="72.6">10</text><text class="s" x="86.1" y="69.3">4</text>
<path d="M93.1 112.7v2.6M102.2 112.7v2.6M114.2 112.7v2.6M167.5 112.7v2.6M197.8 112.7v2.6M222.5 112.7v2.6M130.2 112.7v1.7M139.6 112.7v1.7M146.3 112.7v1.7M151.5 112.7v1.7M155.7 112.7v1.7M159.2 112.7v1.7M162.3 112.7v1.7M165.1 112.7v1.7M176.6 112.7v1.7M182.0 112.7v1.7M185.7 112.7v1.7M188.7 112.7v1.7M191.1 112.7v1.7M193.1 112.7v1.7M194.9 112.7v1.7M196.4 112.7v1.7M205.2 112.7v1.7M209.6 112.7v1.7M212.7 112.7v1.7M215.1 112.7v1.7M217.0 112.7v1.7M218.7 112.7v1.7M220.1 112.7v1.7M221.4 112.7v1.7M230.0 112.7v1.7" stroke="#222" stroke-width="0.8" fill="none"/>
<path d="M93.7 113.8h20" stroke="#333" stroke-width="1" stroke-dasharray="1.2 0.7"/>
<path d="M100.7 114.10000000000001h5" stroke="#111" stroke-width="1.6"/>
<text class="t" x="84.2" y="124.7">-10</text><text class="s" x="92.5" y="121.1">2</text>
<text class="t" x="95.7" y="124.7">-10</text><text class="s" x="104.0" y="121.1">1</text>
<text class="t" x="109.9" y="124.7">10</text><text class="s" x="116.2" y="121.1">2</text>
<text class="t" x="162.0" y="124.7">10</text><text class="s" x="168.3" y="121.1">3</text>
<text class="t" x="193.1" y="124.7">10</text><text class="s" x="199.4" y="121.1">4</text>
<text class="t" x="218.0" y="124.7">10</text><text class="s" x="224.3" y="121.1">5</text>
<text class="b" font-size="9" x="205.7" y="67.5">0.12%</text>
<g filter="url(#bl)">
<path d="M271.0 42.9h1.05M287.9 44.2h1.05M369.5 44.3h1.05M292.9 45.3h1.05M334.8 45.5h1.05M339.5 44.7h1.05M273.4 46.3h1.05M291.6 45.7h1.05M299.4 46.4h1.05M311.6 46.4h1.05M342.4 45.9h1.05M369.8 46.0h1.05M284.2 47.2h1.05M288.8 46.8h1.05M291.1 47.5h1.05M298.7 47.1h1.05M286.8 48.4h1.05M306.1 47.7h1.05M279.9 48.7h1.05M302.8 48.5h1.05M309.7 49.0h1.05M312.8 49.0h1.05M315.9 49.4h1.05M318.2 48.7h1.05M330.5 48.7h1.05M342.4 48.8h1.05M350.1 48.5h1.05M272.6 50.1h1.05M276.0 49.8h1.05M278.7 50.0h1.05M286.7 50.2h1.05M310.9 49.8h1.05M327.5 50.0h1.05M328.1 50.0h1.05M274.2 51.1h1.05M275.7 50.6h1.05M286.7 51.3h1.05M289.3 50.8h1.05M290.4 50.7h1.05M300.2 51.1h1.05M318.7 50.9h1.05M348.5 50.5h1.05M357.3 50.8h1.05M366.6 50.8h1.05M272.2 52.4h1.05M275.5 52.4h1.05M286.2 51.7h1.05M289.1 51.9h1.05M291.7 51.7h1.05M294.1 52.1h1.05M295.3 51.7h1.05M298.2 51.7h1.05M299.3 51.7h1.05M300.0 52.2h1.05M307.8 51.7h1.05M309.9 51.6h1.05M311.5 52.3h1.05M316.4 51.6h1.05M317.4 51.7h1.05M318.0 51.8h1.05M274.7 52.7h1.05M276.7 53.0h1.05M281.0 53.0h1.05M282.2 52.6h1.05M287.3 53.3h1.05M289.6 53.1h1.05M293.6 53.1h1.05M297.6 53.0h1.05M319.4 52.9h1.05M325.6 53.2h1.05M341.1 52.9h1.05M271.6 53.6h1.05M275.1 54.0h1.05M278.7 54.2h1.05M283.6 54.2h1.05M284.0 54.3h1.05M287.2 54.4h1.05M296.2 53.7h1.05M301.2 53.7h1.05M302.8 54.5h1.05M302.9 53.9h1.05M304.5 53.8h1.05M305.3 54.2h1.05M306.9 53.5h1.05M311.2 54.0h1.05M313.9 54.1h1.05M314.8 53.9h1.05M321.2 54.3h1.05M323.4 54.1h1.05M343.9 53.7h1.05M354.9 53.6h1.05M360.7 54.1h1.05M273.7 55.3h1.05M276.8 54.9h1.05M280.2 55.3h1.05M305.5 55.0h1.05M306.6 55.1h1.05M320.8 55.3h1.05M324.7 55.5h1.05M326.7 54.6h1.05M337.1 55.2h1.05M272.1 55.7h1.05M285.2 55.5h1.05M296.6 55.5h1.05M308.8 56.1h1.05M309.4 56.2h1.05M312.8 55.6h1.05M318.3 56.1h1.05M319.4 56.1h1.05M344.9 55.8h1.05M272.4 56.8h1.05M275.3 56.7h1.05M276.3 57.1h1.05M300.1 57.4h1.05M302.6 56.9h1.05M311.4 57.2h1.05M312.1 57.3h1.05M313.6 56.7h1.05M313.9 56.8h1.05M317.7 56.8h1.05M321.0 56.9h1.05M323.7 57.2h1.05M327.7 56.5h1.05M342.7 57.0h1.05M360.9 56.8h1.05M271.4 58.1h1.05M273.9 58.4h1.05M304.3 57.8h1.05M311.1 58.0h1.05M312.8 58.3h1.05M320.7 58.3h1.05M323.0 58.1h1.05M324.4 57.5h1.05M330.8 58.0h1.05M333.6 57.8h1.05M360.2 58.1h1.05M273.3 58.8h1.05M273.9 59.2h1.05M306.7 59.4h1.05M308.6 58.8h1.05M312.3 58.8h1.05M316.7 59.0h1.05M317.3 59.1h1.05M322.3 59.3h1.05M324.5 59.3h1.05M325.6 59.2h1.05M326.7 59.4h1.05M329.6 58.9h1.05M333.4 58.6h1.05M336.3 59.1h1.05M338.2 59.4h1.05M342.1 59.3h1.05M354.7 59.2h1.05M271.0 59.8h1.05M272.2 60.1h1.05M310.6 60.4h1.05M310.9 60.3h1.05M317.7 59.9h1.05M319.5 59.8h1.05M320.8 60.3h1.05M321.1 60.3h1.05M322.1 60.2h1.05M323.0 59.5h1.05M327.8 60.1h1.05M351.0 59.5h1.05M272.8 60.8h1.05M273.9 61.0h1.05M308.2 60.6h1.05M312.3 60.9h1.05M313.7 61.1h1.05M314.9 60.7h1.05M316.9 61.4h1.05M318.5 60.6h1.05M320.0 61.5h1.05M321.4 61.2h1.05M322.2 61.3h1.05M322.9 61.1h1.05M324.6 61.0h1.05M327.6 60.6h1.05M329.2 61.3h1.05M332.9 61.3h1.05M365.1 60.7h1.05M310.6 61.8h1.05M313.7 62.3h1.05M314.9 62.4h1.05M320.7 62.3h1.05M324.5 61.7h1.05M325.1 62.1h1.05M329.6 61.7h1.05M332.5 62.4h1.05M337.2 61.6h1.05M346.3 62.3h1.05M357.5 62.1h1.05M309.2 62.9h1.05M310.6 62.8h1.05M312.8 62.6h1.05M313.5 63.5h1.05M320.5 62.8h1.05M326.1 63.1h1.05M328.5 63.2h1.05M332.1 63.4h1.05M333.9 63.1h1.05M336.4 62.9h1.05M338.8 63.3h1.05M342.7 63.2h1.05M344.7 62.5h1.05M346.0 63.3h1.05M352.3 63.2h1.05M372.6 62.7h1.05M311.5 64.2h1.05M316.5 64.5h1.05M321.3 64.4h1.05M321.9 64.5h1.05M323.1 63.8h1.05M329.9 63.6h1.05M341.7 64.2h1.05M353.6 63.7h1.05M362.3 64.0h1.05M273.3 65.5h1.05M306.0 64.9h1.05M309.7 64.8h1.05M312.1 65.1h1.05M316.7 65.1h1.05M323.4 64.6h1.05M325.1 65.3h1.05M333.4 64.7h1.05M342.4 65.0h1.05M345.8 64.9h1.05M350.5 65.3h1.05M351.3 65.4h1.05M352.4 64.6h1.05M370.6 64.7h1.05M377.3 65.2h1.05M275.8 66.4h1.05M309.7 66.3h1.05M314.0 65.8h1.05M314.9 65.7h1.05M317.2 65.7h1.05M318.3 65.6h1.05M319.6 66.0h1.05M320.0 65.5h1.05M324.4 65.5h1.05M324.8 65.8h1.05M326.1 65.8h1.05M327.0 66.3h1.05M330.1 66.3h1.05M334.7 66.0h1.05M335.1 66.0h1.05M364.5 65.6h1.05M368.3 65.6h1.05M373.4 66.5h1.05M271.7 67.0h1.05M272.8 66.6h1.05M311.9 66.5h1.05M316.1 66.6h1.05M318.2 67.4h1.05M323.7 67.4h1.05M324.0 66.9h1.05M328.2 67.1h1.05M328.9 66.9h1.05M330.7 66.8h1.05M336.6 67.3h1.05M344.3 67.5h1.05M354.6 66.9h1.05M317.2 67.7h1.05M321.8 67.7h1.05M323.5 67.7h1.05M324.6 68.4h1.05M333.2 67.6h1.05M275.5 68.6h1.05M309.0 69.5h1.05M314.3 68.7h1.05M315.6 69.2h1.05M317.8 69.0h1.05M321.0 68.9h1.05M333.7 68.8h1.05M348.7 68.8h1.05M316.1 70.0h1.05M317.2 69.8h1.05M319.1 69.6h1.05M322.2 70.1h1.05M324.5 69.6h1.05M328.5 69.7h1.05M330.7 69.6h1.05M333.5 70.2h1.05M336.3 69.9h1.05M338.4 69.6h1.05M342.7 69.6h1.05M271.7 70.5h1.05M279.4 70.8h1.05M312.4 71.3h1.05M314.4 70.8h1.05M321.6 70.6h1.05M324.1 70.8h1.05M328.3 71.2h1.05M333.3 70.7h1.05M334.1 71.1h1.05M339.7 70.7h1.05M275.3 72.3h1.05M307.3 71.5h1.05M311.1 72.0h1.05M315.2 71.9h1.05M317.6 72.0h1.05M320.4 72.3h1.05M323.6 72.4h1.05M328.5 71.9h1.05M336.9 72.4h1.05M340.1 72.0h1.05M272.8 73.5h1.05M305.5 73.0h1.05M306.6 73.2h1.05M310.5 72.9h1.05M312.1 72.8h1.05M317.2 73.4h1.05M319.6 73.4h1.05M322.0 73.1h1.05M322.8 73.5h1.05M324.4 73.3h1.05M335.7 72.8h1.05M340.9 73.4h1.05M351.2 72.8h1.05M271.7 73.5h1.05M272.8 74.4h1.05M273.4 74.1h1.05M277.1 74.1h1.05M289.1 73.5h1.05M294.8 74.4h1.05M308.2 74.2h1.05M309.7 74.2h1.05M314.9 74.4h1.05M319.3 74.4h1.05M320.6 73.7h1.05M327.1 73.7h1.05M271.0 75.4h1.05M272.1 74.6h1.05M276.5 74.6h1.05M299.1 75.2h1.05M307.8 74.8h1.05M310.6 75.1h1.05M311.9 74.8h1.05M318.8 74.8h1.05M321.9 75.2h1.05M323.4 74.6h1.05M328.9 74.6h1.05M329.8 74.7h1.05M334.1 74.6h1.05M350.0 74.9h1.05M357.6 75.1h1.05M282.7 76.0h1.05M303.8 75.9h1.05M309.5 76.1h1.05M314.8 75.9h1.05M317.2 76.1h1.05M317.9 76.0h1.05M319.1 75.9h1.05M320.8 75.7h1.05M322.2 75.6h1.05M323.1 75.6h1.05M329.2 76.0h1.05M331.9 76.4h1.05M351.0 75.7h1.05M270.8 77.2h1.05M271.9 77.3h1.05M274.2 77.3h1.05M276.4 77.3h1.05M281.4 77.1h1.05M285.2 77.0h1.05M290.9 76.8h1.05M302.9 76.9h1.05M305.7 76.7h1.05M310.3 76.9h1.05M312.5 76.5h1.05M313.4 76.9h1.05M319.4 76.5h1.05M329.3 76.8h1.05M342.6 76.9h1.05M276.4 78.1h1.05M277.6 77.5h1.05M279.9 78.3h1.05M284.7 78.4h1.05M297.9 77.7h1.05M302.5 78.0h1.05M304.3 78.3h1.05M312.2 77.7h1.05M313.0 77.9h1.05M313.9 78.5h1.05M315.7 78.1h1.05M317.9 77.9h1.05M323.5 77.9h1.05M325.0 78.4h1.05M327.8 77.6h1.05M344.5 78.3h1.05M275.7 79.1h1.05M276.7 79.0h1.05M278.4 78.6h1.05M280.6 79.1h1.05M282.9 78.6h1.05M285.1 79.0h1.05M289.4 79.2h1.05M289.9 78.6h1.05M294.1 79.1h1.05M301.6 79.3h1.05M302.8 78.7h1.05M306.4 78.5h1.05M309.3 78.7h1.05M311.8 78.8h1.05M312.8 78.7h1.05M315.2 79.0h1.05M317.1 78.9h1.05M318.9 78.6h1.05M321.6 79.1h1.05M323.3 79.1h1.05M324.8 79.0h1.05M333.4 78.9h1.05M334.0 79.2h1.05M272.3 80.2h1.05M274.5 79.8h1.05M275.8 80.3h1.05M276.9 80.1h1.05M282.3 79.7h1.05M292.3 80.2h1.05M298.6 80.3h1.05M301.0 79.6h1.05M302.4 80.0h1.05M309.0 80.4h1.05M316.3 80.1h1.05M318.4 80.1h1.05M318.8 79.9h1.05M320.0 79.7h1.05M323.2 80.1h1.05M338.2 79.6h1.05M273.4 81.2h1.05M273.8 81.0h1.05M280.2 81.0h1.05M284.6 81.1h1.05M287.1 81.2h1.05M288.7 80.5h1.05M297.6 81.5h1.05M298.4 80.8h1.05M299.7 81.4h1.05M301.7 81.3h1.05M302.4 80.9h1.05M304.2 81.3h1.05M315.4 80.7h1.05M316.4 80.6h1.05M316.9 80.8h1.05M318.7 80.6h1.05M357.7 80.8h1.05M271.5 82.4h1.05M273.0 81.8h1.05M280.3 82.4h1.05M281.9 81.8h1.05M286.2 82.5h1.05M291.0 82.0h1.05M294.2 82.4h1.05M298.6 82.5h1.05M300.6 82.0h1.05M314.0 82.4h1.05M315.2 81.5h1.05M318.0 81.8h1.05M320.6 82.3h1.05M324.3 81.8h1.05M332.1 82.2h1.05M272.4 83.2h1.05M278.7 82.8h1.05M279.0 83.5h1.05M280.4 83.4h1.05M283.9 82.9h1.05M287.0 83.2h1.05M288.9 83.0h1.05M289.9 83.5h1.05M293.9 83.2h1.05M295.4 83.3h1.05M295.8 83.2h1.05M298.6 82.9h1.05M299.5 82.8h1.05M302.9 83.1h1.05M306.0 83.3h1.05M311.1 82.7h1.05M315.4 82.6h1.05M317.1 83.0h1.05M318.1 83.0h1.05M323.8 82.7h1.05M326.2 83.4h1.05M328.7 82.7h1.05M274.4 84.2h1.05M275.6 83.8h1.05M279.4 84.3h1.05M284.0 84.3h1.05M286.7 84.2h1.05M289.7 83.7h1.05M290.6 84.0h1.05M292.2 83.9h1.05M296.0 84.4h1.05M297.2 84.4h1.05M299.2 83.7h1.05M300.7 83.9h1.05M303.6 83.9h1.05M305.6 83.7h1.05M306.1 84.2h1.05M307.4 84.5h1.05M308.4 84.1h1.05M309.2 83.8h1.05M310.1 84.4h1.05M312.4 83.6h1.05M313.3 83.5h1.05M339.1 84.2h1.05M274.7 84.8h1.05M275.7 85.1h1.05M277.3 84.5h1.05M278.5 85.3h1.05M281.3 84.5h1.05M283.4 84.7h1.05M288.0 84.8h1.05M290.6 84.6h1.05M294.2 85.4h1.05M296.2 85.0h1.05M298.0 84.7h1.05M299.7 85.0h1.05M303.6 84.6h1.05M306.8 84.8h1.05M313.9 84.7h1.05M315.9 85.2h1.05M318.8 84.7h1.05M321.2 84.7h1.05M275.6 86.3h1.05M276.8 86.0h1.05M279.3 86.0h1.05M281.1 85.7h1.05M287.3 85.6h1.05M291.0 86.3h1.05M296.1 86.1h1.05M300.0 85.5h1.05M301.3 85.7h1.05M310.5 85.8h1.05M311.0 85.9h1.05M313.3 86.2h1.05M314.2 85.7h1.05M314.9 86.0h1.05M336.2 86.4h1.05" stroke="#404040" stroke-width="1.05" stroke-opacity="1" fill="none"/>
<path d="M335.4 38.4h1.05M335.9 38.5h1.05M284.8 40.9h1.05M351.1 41.8h1.05M338.6 44.3h1.05M341.0 44.1h1.05M361.3 44.4h1.05M344.0 45.0h1.05M285.0 46.3h1.05M342.8 45.5h1.05M353.6 46.4h1.05M273.6 47.2h1.05M275.0 47.3h1.05M276.1 47.1h1.05M279.3 47.4h1.05M283.0 47.0h1.05M301.9 46.8h1.05M328.3 46.8h1.05M331.1 47.3h1.05M355.0 47.1h1.05M271.7 48.3h1.05M278.1 48.1h1.05M284.5 48.0h1.05M285.6 48.4h1.05M289.3 47.6h1.05M301.4 47.8h1.05M310.5 47.9h1.05M329.5 48.4h1.05M346.9 48.2h1.05M272.1 48.7h1.05M276.0 48.6h1.05M277.7 48.5h1.05M283.1 49.3h1.05M287.1 48.8h1.05M296.4 49.2h1.05M302.3 49.5h1.05M306.1 49.4h1.05M312.5 49.1h1.05M319.0 49.4h1.05M327.7 49.4h1.05M331.8 48.9h1.05M272.9 49.7h1.05M275.6 49.8h1.05M280.6 50.2h1.05M290.0 49.9h1.05M292.6 50.4h1.05M293.6 50.2h1.05M294.0 50.0h1.05M296.9 50.0h1.05M299.4 50.1h1.05M300.3 50.2h1.05M301.0 49.9h1.05M304.9 49.5h1.05M306.4 49.6h1.05M313.0 49.6h1.05M315.6 49.8h1.05M317.0 49.9h1.05M320.6 49.9h1.05M321.1 50.1h1.05M325.6 50.2h1.05M330.2 50.1h1.05M273.8 51.5h1.05M276.7 50.5h1.05M277.6 51.5h1.05M278.9 51.0h1.05M280.4 51.0h1.05M281.5 50.5h1.05M282.2 51.3h1.05M285.1 51.5h1.05M288.2 50.8h1.05M290.9 50.8h1.05M292.5 51.4h1.05M294.2 50.8h1.05M295.7 51.0h1.05M297.2 50.5h1.05M298.1 51.0h1.05M302.0 51.2h1.05M303.0 50.7h1.05M304.5 51.0h1.05M305.0 51.4h1.05M306.7 50.7h1.05M307.2 50.8h1.05M308.1 51.0h1.05M309.2 51.3h1.05M310.0 51.1h1.05M313.0 51.4h1.05M314.6 51.4h1.05M320.6 50.9h1.05M324.4 51.3h1.05M276.7 52.2h1.05M277.1 51.7h1.05M281.3 52.3h1.05M284.0 52.5h1.05M284.9 52.2h1.05M287.4 52.0h1.05M288.2 51.9h1.05M290.3 51.7h1.05M297.7 51.6h1.05M302.8 52.5h1.05M303.3 52.0h1.05M306.2 52.5h1.05M307.9 52.0h1.05M318.9 51.9h1.05M323.2 52.0h1.05M337.0 52.3h1.05M271.5 53.2h1.05M272.0 53.0h1.05M274.8 52.7h1.05M280.7 53.3h1.05M285.8 53.0h1.05M290.6 52.5h1.05M291.7 53.2h1.05M295.0 53.2h1.05M301.1 52.6h1.05M302.4 53.0h1.05M304.2 52.6h1.05M307.8 53.1h1.05M309.3 53.1h1.05M313.2 53.0h1.05M313.9 52.9h1.05M315.4 52.6h1.05M321.6 53.0h1.05M327.9 52.7h1.05M330.3 53.4h1.05M362.3 53.0h1.05M363.1 52.6h1.05M370.4 52.6h1.05M272.3 54.5h1.05M274.6 53.8h1.05M275.9 53.7h1.05M277.6 53.8h1.05M278.9 54.1h1.05M281.0 53.9h1.05M282.7 54.4h1.05M285.4 53.5h1.05M289.3 53.5h1.05M291.5 53.7h1.05M292.4 54.3h1.05M293.2 54.5h1.05M306.6 54.4h1.05M309.2 53.7h1.05M309.9 53.9h1.05M312.7 53.9h1.05M313.5 54.2h1.05M316.1 53.9h1.05M317.2 54.0h1.05M322.1 53.6h1.05M336.8 53.7h1.05M339.4 54.4h1.05M343.5 53.7h1.05M377.1 54.5h1.05M271.6 55.2h1.05M272.1 55.5h1.05M276.4 55.1h1.05M278.8 55.2h1.05M281.2 55.2h1.05M284.6 55.1h1.05M285.1 55.4h1.05M286.3 55.5h1.05M292.7 55.2h1.05M294.8 55.0h1.05M296.7 55.0h1.05M299.5 55.2h1.05M301.4 55.4h1.05M307.1 54.6h1.05M308.5 54.8h1.05M308.9 54.8h1.05M312.7 55.0h1.05M314.2 55.2h1.05M315.8 54.9h1.05M318.0 54.8h1.05M319.6 54.6h1.05M322.0 55.3h1.05M331.8 54.6h1.05M338.4 54.6h1.05M347.0 54.8h1.05M271.5 55.6h1.05M273.2 56.0h1.05M276.2 55.6h1.05M279.1 55.7h1.05M281.7 56.2h1.05M285.9 55.9h1.05M287.8 56.1h1.05M292.4 55.5h1.05M297.9 56.4h1.05M301.3 56.3h1.05M306.1 56.0h1.05M307.4 56.2h1.05M311.8 56.3h1.05M313.9 56.3h1.05M317.1 56.2h1.05M320.9 56.3h1.05M322.3 56.3h1.05M323.4 56.5h1.05M326.1 55.9h1.05M335.5 55.5h1.05M342.3 55.7h1.05M361.5 56.2h1.05M271.0 57.3h1.05M273.0 57.1h1.05M278.6 56.9h1.05M280.1 57.1h1.05M284.9 57.0h1.05M297.9 56.6h1.05M304.5 57.2h1.05M305.1 56.8h1.05M308.1 56.9h1.05M315.6 57.0h1.05M318.0 57.4h1.05M319.6 57.2h1.05M324.4 56.8h1.05M326.0 57.4h1.05M328.3 56.6h1.05M335.3 57.3h1.05M336.6 56.8h1.05M347.9 56.6h1.05M349.0 57.2h1.05M354.5 56.8h1.05M376.7 57.0h1.05M278.2 57.7h1.05M281.9 57.9h1.05M293.5 58.0h1.05M294.1 57.9h1.05M295.1 57.8h1.05M307.6 58.2h1.05M308.5 58.5h1.05M309.3 57.7h1.05M312.9 58.1h1.05M316.4 58.2h1.05M318.3 58.0h1.05M319.4 57.5h1.05M321.8 57.9h1.05M322.4 57.8h1.05M325.0 58.3h1.05M345.6 58.3h1.05M352.4 58.3h1.05M358.2 58.3h1.05M274.9 59.4h1.05M277.8 59.2h1.05M281.0 59.3h1.05M283.8 58.6h1.05M295.1 58.9h1.05M299.1 59.2h1.05M299.9 59.1h1.05M307.8 58.8h1.05M308.9 59.5h1.05M310.5 59.2h1.05M313.0 59.2h1.05M314.1 58.5h1.05M318.2 58.9h1.05M321.2 58.6h1.05M323.2 58.7h1.05M333.9 58.5h1.05M346.4 59.1h1.05M349.2 58.8h1.05M363.7 59.1h1.05M272.9 59.5h1.05M274.5 60.3h1.05M274.8 60.4h1.05M277.4 60.3h1.05M299.6 60.0h1.05M301.6 59.6h1.05M302.8 59.9h1.05M303.4 59.5h1.05M305.9 59.6h1.05M314.3 60.0h1.05M315.1 60.3h1.05M318.0 60.4h1.05M324.0 60.5h1.05M324.9 60.3h1.05M330.6 59.8h1.05M333.2 59.7h1.05M334.0 59.7h1.05M334.9 59.6h1.05M337.3 60.4h1.05M340.0 60.4h1.05M345.3 60.5h1.05M347.1 60.4h1.05M363.5 60.1h1.05M272.8 60.9h1.05M275.1 60.8h1.05M277.1 60.5h1.05M280.9 61.1h1.05M305.7 61.4h1.05M309.2 61.4h1.05M310.5 60.9h1.05M311.8 60.8h1.05M316.2 61.3h1.05M319.0 60.7h1.05M325.9 61.3h1.05M328.0 60.7h1.05M330.3 61.0h1.05M335.9 60.7h1.05M342.0 60.8h1.05M343.6 61.2h1.05M348.9 61.4h1.05M357.6 60.9h1.05M271.7 62.1h1.05M272.4 61.9h1.05M274.1 61.8h1.05M276.9 62.2h1.05M279.6 62.5h1.05M301.7 61.6h1.05M304.0 62.3h1.05M306.2 61.5h1.05M306.8 61.8h1.05M307.8 62.5h1.05M319.0 62.4h1.05M322.6 62.2h1.05M326.1 62.3h1.05M327.3 61.9h1.05M330.6 62.2h1.05M330.9 61.6h1.05M333.1 62.2h1.05M338.4 62.2h1.05M339.0 61.6h1.05M349.1 61.9h1.05M272.8 63.0h1.05M294.8 63.2h1.05M306.1 63.4h1.05M308.6 62.6h1.05M310.8 63.4h1.05M315.3 62.9h1.05M316.5 62.9h1.05M317.7 63.0h1.05M318.5 63.2h1.05M318.9 63.4h1.05M322.2 62.7h1.05M322.8 62.6h1.05M324.8 63.2h1.05M337.3 63.2h1.05M342.9 62.6h1.05M359.0 63.5h1.05M273.2 64.3h1.05M275.9 63.8h1.05M305.8 64.2h1.05M315.7 63.6h1.05M320.4 64.0h1.05M323.9 64.3h1.05M325.1 64.0h1.05M328.9 64.3h1.05M331.4 63.9h1.05M335.5 64.4h1.05M338.6 63.9h1.05M343.1 64.2h1.05M347.6 63.8h1.05M352.4 64.4h1.05M376.4 63.8h1.05M271.3 65.4h1.05M275.5 64.7h1.05M307.3 64.6h1.05M308.0 64.6h1.05M309.9 65.4h1.05M315.2 65.4h1.05M317.4 65.4h1.05M318.5 64.7h1.05M319.1 65.2h1.05M320.0 64.6h1.05M321.4 65.4h1.05M322.6 65.3h1.05M325.9 65.0h1.05M327.1 65.4h1.05M330.0 65.2h1.05M331.2 64.9h1.05M332.2 65.5h1.05M335.7 65.0h1.05M336.9 65.4h1.05M347.8 65.3h1.05M272.0 66.4h1.05M273.9 66.0h1.05M307.2 66.4h1.05M311.9 66.3h1.05M321.2 66.3h1.05M328.8 65.8h1.05M332.0 66.0h1.05M341.5 66.0h1.05M351.1 65.9h1.05M355.3 66.3h1.05M365.0 65.5h1.05M370.3 66.2h1.05M273.6 67.3h1.05M278.2 67.3h1.05M305.2 67.3h1.05M305.9 67.2h1.05M309.1 67.4h1.05M311.7 66.8h1.05M313.7 66.7h1.05M313.8 67.3h1.05M315.7 67.4h1.05M319.8 66.5h1.05M325.3 67.1h1.05M333.3 67.3h1.05M338.4 67.5h1.05M341.8 67.4h1.05M347.3 67.1h1.05M347.9 66.6h1.05M359.2 67.0h1.05M366.9 66.6h1.05M272.6 68.1h1.05M278.4 68.1h1.05M304.0 67.6h1.05M306.5 68.3h1.05M312.6 67.9h1.05M314.5 67.7h1.05M315.8 67.5h1.05M321.7 67.8h1.05M325.0 68.2h1.05M326.0 67.6h1.05M327.6 68.0h1.05M328.4 68.4h1.05M329.8 68.0h1.05M331.0 68.5h1.05M333.8 68.1h1.05M341.9 68.2h1.05M355.4 68.0h1.05M272.5 69.4h1.05M276.1 69.3h1.05M279.1 68.7h1.05M280.6 69.1h1.05M289.2 68.9h1.05M308.0 68.6h1.05M311.3 69.2h1.05M312.1 68.6h1.05M313.3 69.1h1.05M318.8 69.5h1.05M319.7 68.8h1.05M323.1 68.6h1.05M325.9 68.6h1.05M328.6 68.7h1.05M330.0 69.5h1.05M332.2 69.1h1.05M334.5 68.7h1.05M338.2 69.0h1.05M342.3 68.9h1.05M345.9 69.5h1.05M364.7 69.0h1.05M366.7 69.0h1.05M272.3 70.4h1.05M274.0 70.3h1.05M280.8 69.6h1.05M304.8 70.1h1.05M312.8 70.0h1.05M320.4 69.8h1.05M332.1 70.4h1.05M337.6 69.9h1.05M355.3 70.5h1.05M360.6 69.5h1.05M361.2 69.9h1.05M371.4 70.1h1.05M273.2 70.6h1.05M275.2 70.6h1.05M302.5 71.0h1.05M304.9 71.3h1.05M308.7 71.2h1.05M313.6 70.7h1.05M315.2 70.6h1.05M318.7 70.9h1.05M320.8 70.6h1.05M322.6 70.8h1.05M326.8 70.5h1.05M330.5 71.4h1.05M337.7 70.9h1.05M344.2 71.3h1.05M349.6 71.0h1.05M360.2 70.7h1.05M373.3 71.0h1.05M374.5 71.5h1.05M271.5 72.1h1.05M271.9 72.2h1.05M274.5 71.9h1.05M304.5 72.2h1.05M306.1 72.2h1.05M310.7 72.0h1.05M313.3 71.8h1.05M314.7 72.0h1.05M316.2 72.2h1.05M321.0 72.0h1.05M322.7 71.9h1.05M325.1 71.8h1.05M327.4 72.4h1.05M329.3 72.0h1.05M333.4 72.3h1.05M334.2 72.2h1.05M341.5 71.9h1.05M342.6 72.1h1.05M344.3 71.8h1.05M368.0 71.6h1.05M271.5 72.9h1.05M273.6 73.2h1.05M273.9 72.8h1.05M275.6 72.7h1.05M280.0 73.1h1.05M314.9 72.7h1.05M316.0 72.9h1.05M320.1 73.0h1.05M326.7 72.8h1.05M329.3 73.1h1.05M333.3 73.5h1.05M338.6 73.3h1.05M339.6 72.8h1.05M342.7 73.0h1.05M349.2 73.3h1.05M354.8 72.6h1.05M369.4 73.0h1.05M278.4 73.6h1.05M279.5 74.0h1.05M280.2 74.3h1.05M281.5 74.0h1.05M282.3 74.4h1.05M302.5 74.0h1.05M305.5 73.8h1.05M307.3 74.4h1.05M311.0 73.8h1.05M312.2 74.2h1.05M313.8 74.4h1.05M314.1 73.6h1.05M316.0 73.5h1.05M318.5 74.1h1.05M322.6 74.1h1.05M323.4 73.9h1.05M323.9 74.2h1.05M325.9 73.6h1.05M328.2 74.0h1.05M329.5 73.8h1.05M329.9 73.7h1.05M332.4 74.3h1.05M340.0 73.7h1.05M344.0 74.4h1.05M362.7 73.8h1.05M273.7 74.6h1.05M274.1 74.8h1.05M285.2 75.1h1.05M291.0 74.6h1.05M302.2 75.3h1.05M311.5 74.8h1.05M313.5 74.8h1.05M315.1 75.2h1.05M316.8 75.3h1.05M318.1 74.9h1.05M320.3 75.3h1.05M321.7 75.4h1.05M325.2 74.5h1.05M328.5 75.1h1.05M331.3 74.9h1.05M332.5 74.8h1.05M335.2 75.0h1.05M336.7 74.6h1.05M337.6 74.8h1.05M338.6 74.9h1.05M339.8 75.2h1.05M349.1 75.1h1.05M271.0 75.7h1.05M271.8 75.9h1.05M272.8 76.4h1.05M274.5 75.9h1.05M275.1 76.5h1.05M279.8 76.3h1.05M292.8 75.9h1.05M295.8 76.3h1.05M296.8 76.0h1.05M299.4 76.2h1.05M300.9 76.3h1.05M304.5 76.5h1.05M305.7 76.4h1.05M308.4 76.2h1.05M310.3 76.3h1.05M312.1 75.9h1.05M314.1 75.6h1.05M316.6 75.7h1.05M326.4 76.1h1.05M334.1 76.1h1.05M273.2 77.2h1.05M277.1 77.2h1.05M279.2 76.8h1.05M280.1 76.9h1.05M290.7 77.4h1.05M292.0 76.6h1.05M294.8 77.4h1.05M297.8 76.9h1.05M298.7 77.2h1.05M299.9 76.8h1.05M301.0 77.0h1.05M301.8 77.0h1.05M304.8 77.4h1.05M307.7 77.1h1.05M308.3 77.5h1.05M309.6 77.5h1.05M315.9 77.1h1.05M318.1 76.7h1.05M321.6 76.5h1.05M322.8 76.9h1.05M323.6 77.3h1.05M324.6 77.0h1.05M326.4 77.2h1.05M351.6 76.6h1.05M271.7 77.9h1.05M273.0 77.9h1.05M274.7 78.3h1.05M281.6 78.3h1.05M286.3 78.4h1.05M286.9 78.1h1.05M297.7 78.1h1.05M299.0 77.9h1.05M300.4 78.0h1.05M301.5 77.7h1.05M303.3 77.8h1.05M305.0 78.3h1.05M307.1 77.6h1.05M319.5 77.9h1.05M320.0 77.6h1.05M321.0 78.0h1.05M324.1 77.9h1.05M328.2 77.7h1.05M329.2 78.2h1.05M329.9 77.8h1.05M333.6 77.5h1.05M339.6 77.7h1.05M343.7 78.2h1.05M355.0 78.0h1.05M376.6 78.2h1.05M271.0 78.5h1.05M272.1 78.6h1.05M273.0 78.9h1.05M282.3 78.7h1.05M284.7 78.9h1.05M286.2 78.8h1.05M287.1 78.7h1.05M288.8 79.0h1.05M291.9 79.4h1.05M293.7 78.6h1.05M295.1 78.6h1.05M295.8 79.3h1.05M296.9 78.8h1.05M298.1 79.4h1.05M304.0 78.6h1.05M305.7 79.5h1.05M310.1 78.8h1.05M320.6 79.4h1.05M326.0 79.3h1.05M328.2 78.7h1.05M330.8 79.2h1.05M343.2 79.4h1.05M271.0 79.8h1.05M278.5 80.4h1.05M281.6 79.6h1.05M283.9 80.3h1.05M287.6 80.2h1.05M288.6 80.2h1.05M288.8 79.9h1.05M291.0 79.7h1.05M293.1 79.6h1.05M295.1 79.8h1.05M300.2 79.8h1.05M303.7 80.4h1.05M304.2 80.1h1.05M307.5 79.8h1.05M310.6 79.9h1.05M311.3 80.1h1.05M312.3 80.2h1.05M314.8 79.5h1.05M315.4 80.5h1.05M320.8 79.9h1.05M323.8 80.0h1.05M328.0 80.1h1.05M329.8 79.5h1.05M345.9 79.6h1.05M275.4 81.2h1.05M276.1 81.5h1.05M276.9 80.8h1.05M282.1 81.4h1.05M283.4 81.1h1.05M286.0 81.4h1.05M289.0 81.2h1.05M290.8 81.0h1.05M291.7 81.3h1.05M293.0 81.0h1.05M294.0 80.9h1.05M303.4 80.8h1.05M306.1 80.8h1.05M308.7 80.7h1.05M309.6 81.2h1.05M309.9 80.8h1.05M311.5 81.2h1.05M312.7 81.1h1.05M313.1 81.4h1.05M320.1 81.4h1.05M322.3 80.7h1.05M322.8 81.5h1.05M325.9 81.2h1.05M331.7 81.4h1.05M348.2 80.8h1.05M271.9 81.9h1.05M274.4 82.0h1.05M275.6 82.0h1.05M277.4 82.4h1.05M279.0 82.5h1.05M283.7 81.8h1.05M285.3 82.0h1.05M287.5 82.3h1.05M288.3 82.0h1.05M289.6 81.5h1.05M290.4 81.7h1.05M293.2 82.1h1.05M296.0 81.8h1.05M299.1 82.3h1.05M301.1 81.8h1.05M302.7 82.3h1.05M303.4 81.8h1.05M309.6 81.8h1.05M311.4 82.3h1.05M312.7 81.9h1.05M313.1 81.8h1.05M316.9 81.7h1.05M319.6 81.7h1.05M323.7 82.0h1.05M325.3 82.1h1.05M329.9 82.1h1.05M339.1 82.3h1.05M274.4 83.1h1.05M275.5 83.3h1.05M276.3 83.4h1.05M281.9 83.3h1.05M284.9 83.0h1.05M286.1 82.6h1.05M288.5 83.5h1.05M290.8 82.8h1.05M291.8 82.9h1.05M299.9 82.7h1.05M301.8 82.7h1.05M304.3 82.6h1.05M305.7 83.5h1.05M307.7 83.2h1.05M309.6 83.1h1.05M310.7 82.5h1.05M314.8 82.6h1.05M316.8 82.6h1.05M319.8 82.7h1.05M319.9 83.0h1.05M325.7 82.7h1.05M344.3 83.4h1.05M355.8 82.7h1.05M271.6 84.5h1.05M272.4 83.9h1.05M275.9 83.9h1.05M277.3 84.2h1.05M278.2 84.2h1.05M281.4 84.1h1.05M282.0 84.4h1.05M288.0 84.3h1.05M290.8 84.1h1.05M294.4 84.3h1.05M295.3 84.0h1.05M314.2 84.3h1.05M316.4 84.0h1.05M317.9 84.4h1.05M320.9 84.3h1.05M330.9 84.1h1.05M338.2 84.3h1.05M271.9 84.8h1.05M276.2 84.7h1.05M280.2 84.6h1.05M284.4 85.0h1.05M291.3 84.6h1.05M293.8 84.7h1.05M296.9 85.2h1.05M300.4 84.7h1.05M301.8 85.5h1.05M302.7 84.9h1.05M304.7 85.0h1.05M310.5 85.0h1.05M311.4 84.9h1.05M317.6 84.6h1.05M326.7 85.1h1.05M271.8 86.0h1.05M276.1 86.1h1.05M282.2 86.0h1.05M284.4 85.6h1.05M285.4 85.6h1.05M286.7 85.6h1.05M288.7 85.6h1.05M295.4 86.4h1.05M297.2 85.9h1.05M298.1 86.0h1.05M304.8 86.4h1.05M304.8 85.5h1.05M312.2 86.5h1.05M318.4 85.7h1.05M322.2 86.2h1.05" stroke="#626262" stroke-width="1.05" stroke-opacity="1" fill="none"/>
<path d="M370.7 38.0h1.05M315.6 43.1h1.05M325.9 43.9h1.05M289.4 45.8h1.05M325.7 46.4h1.05M278.3 47.0h1.05M280.2 47.3h1.05M295.5 47.3h1.05M272.6 48.3h1.05M273.1 48.3h1.05M274.2 48.4h1.05M276.5 48.3h1.05M282.6 47.8h1.05M294.6 48.3h1.05M303.7 47.8h1.05M303.9 47.6h1.05M364.6 48.3h1.05M273.8 48.6h1.05M281.7 49.2h1.05M282.5 48.9h1.05M285.9 49.0h1.05M290.2 48.8h1.05M292.8 48.9h1.05M294.0 49.0h1.05M296.9 48.9h1.05M304.3 49.1h1.05M305.1 48.8h1.05M308.1 49.1h1.05M341.5 48.5h1.05M274.3 49.8h1.05M280.9 50.4h1.05M288.0 49.6h1.05M291.5 49.8h1.05M298.7 50.0h1.05M302.4 50.4h1.05M303.5 50.4h1.05M304.1 50.2h1.05M308.3 50.2h1.05M314.3 49.9h1.05M318.5 50.4h1.05M331.3 49.6h1.05M336.8 50.0h1.05M271.0 50.7h1.05M278.3 51.4h1.05M283.5 51.0h1.05M283.8 51.4h1.05M287.8 50.9h1.05M293.2 51.0h1.05M298.9 50.5h1.05M301.8 51.1h1.05M311.1 51.0h1.05M314.9 51.4h1.05M323.4 51.0h1.05M271.7 51.7h1.05M273.7 51.8h1.05M274.6 51.8h1.05M278.8 52.1h1.05M279.4 51.9h1.05M282.8 52.0h1.05M292.2 52.2h1.05M293.0 52.1h1.05M296.4 51.7h1.05M301.6 52.4h1.05M304.6 52.0h1.05M312.0 52.1h1.05M321.9 52.3h1.05M326.2 52.4h1.05M328.6 51.7h1.05M273.1 53.5h1.05M277.7 52.9h1.05M279.1 53.4h1.05M284.5 53.2h1.05M286.6 53.3h1.05M288.4 53.3h1.05M292.8 53.4h1.05M294.8 52.9h1.05M296.1 53.3h1.05M300.4 53.1h1.05M303.3 53.1h1.05M305.6 53.4h1.05M306.0 53.0h1.05M307.5 53.4h1.05M310.0 53.0h1.05M311.4 52.9h1.05M312.2 52.8h1.05M327.6 52.6h1.05M332.5 53.3h1.05M352.1 52.8h1.05M280.5 53.9h1.05M289.9 53.9h1.05M294.4 53.5h1.05M297.2 53.6h1.05M298.8 53.9h1.05M299.6 54.2h1.05M300.2 54.3h1.05M308.0 54.3h1.05M318.1 54.3h1.05M320.5 54.3h1.05M340.2 54.3h1.05M352.3 53.8h1.05M278.3 54.7h1.05M282.5 55.2h1.05M283.3 55.2h1.05M288.3 55.1h1.05M290.1 54.6h1.05M293.5 55.0h1.05M294.6 54.8h1.05M297.1 54.7h1.05M298.4 54.9h1.05M300.3 54.6h1.05M302.6 55.1h1.05M303.0 54.9h1.05M303.9 55.3h1.05M310.7 54.6h1.05M311.0 54.8h1.05M313.3 54.7h1.05M315.8 54.9h1.05M317.7 55.4h1.05M274.8 56.0h1.05M275.1 55.9h1.05M278.7 55.7h1.05M280.2 56.0h1.05M282.8 55.6h1.05M283.5 55.7h1.05M284.1 56.2h1.05M287.0 55.5h1.05M290.1 56.3h1.05M291.7 56.4h1.05M294.1 55.8h1.05M295.4 55.8h1.05M297.4 56.2h1.05M298.8 56.1h1.05M302.2 55.5h1.05M303.4 55.6h1.05M304.8 56.3h1.05M312.1 55.6h1.05M315.6 56.4h1.05M316.2 55.8h1.05M320.3 56.0h1.05M324.3 56.5h1.05M325.4 56.4h1.05M327.2 55.8h1.05M329.4 56.5h1.05M331.9 56.1h1.05M336.8 55.6h1.05M341.2 56.3h1.05M352.4 56.0h1.05M353.0 56.1h1.05M278.9 57.4h1.05M280.9 57.0h1.05M282.9 57.0h1.05M284.3 56.5h1.05M287.8 57.1h1.05M288.4 57.0h1.05M289.6 56.5h1.05M291.3 57.1h1.05M294.5 56.9h1.05M295.9 57.1h1.05M297.5 57.2h1.05M301.6 57.2h1.05M303.0 56.8h1.05M306.5 57.5h1.05M307.6 56.9h1.05M309.6 56.6h1.05M310.1 56.9h1.05M316.5 56.6h1.05M320.0 57.4h1.05M330.6 56.9h1.05M332.0 57.2h1.05M333.4 56.5h1.05M272.8 57.6h1.05M272.8 58.0h1.05M275.2 58.5h1.05M276.7 58.1h1.05M277.0 58.2h1.05M279.9 58.2h1.05M281.6 58.3h1.05M283.0 57.8h1.05M284.6 58.2h1.05M284.9 58.1h1.05M288.0 58.4h1.05M298.9 58.2h1.05M301.6 58.2h1.05M302.7 57.6h1.05M302.9 57.8h1.05M305.2 57.7h1.05M305.9 58.4h1.05M309.9 57.7h1.05M314.5 57.8h1.05M317.2 58.1h1.05M327.3 58.0h1.05M339.9 58.4h1.05M271.5 58.9h1.05M271.8 58.7h1.05M279.4 58.8h1.05M280.4 58.8h1.05M284.8 58.7h1.05M292.8 59.3h1.05M294.6 58.9h1.05M296.2 58.7h1.05M297.5 58.7h1.05M301.1 58.7h1.05M302.7 59.3h1.05M304.4 58.6h1.05M305.6 59.3h1.05M311.5 58.5h1.05M319.2 59.4h1.05M320.6 58.8h1.05M327.9 58.9h1.05M331.1 59.3h1.05M332.2 59.2h1.05M352.9 59.0h1.05M359.6 58.6h1.05M280.1 60.0h1.05M284.5 59.8h1.05M294.9 59.9h1.05M297.4 59.8h1.05M297.9 60.5h1.05M300.7 60.1h1.05M305.7 60.3h1.05M307.9 60.3h1.05M309.6 59.8h1.05M313.4 60.3h1.05M316.2 60.4h1.05M331.0 60.2h1.05M342.6 59.9h1.05M344.1 59.6h1.05M364.7 60.1h1.05M271.3 60.6h1.05M279.2 60.7h1.05M282.7 60.9h1.05M284.8 60.6h1.05M289.7 61.4h1.05M303.1 61.1h1.05M305.8 61.5h1.05M307.3 61.1h1.05M314.6 61.3h1.05M334.0 61.4h1.05M346.7 61.4h1.05M363.4 60.8h1.05M273.4 62.0h1.05M275.0 62.4h1.05M276.8 62.0h1.05M278.4 62.5h1.05M302.1 62.0h1.05M303.2 62.5h1.05M305.1 61.6h1.05M309.2 62.2h1.05M311.5 61.5h1.05M312.6 62.1h1.05M314.1 61.8h1.05M316.7 62.1h1.05M318.2 62.5h1.05M321.6 62.2h1.05M323.0 61.9h1.05M334.3 61.8h1.05M345.2 61.6h1.05M357.9 62.2h1.05M271.1 63.2h1.05M272.0 63.1h1.05M274.1 63.3h1.05M275.6 63.2h1.05M276.8 63.2h1.05M277.5 62.9h1.05M278.6 63.0h1.05M280.8 63.2h1.05M298.1 62.5h1.05M298.9 62.6h1.05M300.8 63.4h1.05M304.3 62.7h1.05M305.2 62.9h1.05M314.5 63.1h1.05M321.6 63.2h1.05M326.9 63.4h1.05M331.0 63.5h1.05M349.7 62.9h1.05M353.9 63.4h1.05M363.2 62.7h1.05M271.1 63.8h1.05M277.4 64.0h1.05M279.4 63.6h1.05M279.9 63.8h1.05M293.0 63.7h1.05M303.7 63.6h1.05M309.5 64.0h1.05M312.3 64.0h1.05M313.6 64.2h1.05M313.9 64.1h1.05M318.3 64.3h1.05M319.6 64.3h1.05M326.1 63.7h1.05M327.8 63.9h1.05M332.0 64.4h1.05M334.0 64.5h1.05M335.8 64.0h1.05M336.9 64.3h1.05M360.6 64.3h1.05M272.7 65.0h1.05M283.0 65.4h1.05M300.2 65.1h1.05M300.8 64.6h1.05M303.7 65.3h1.05M304.2 65.3h1.05M311.6 65.0h1.05M313.6 65.3h1.05M324.4 64.8h1.05M344.8 64.9h1.05M358.7 65.2h1.05M362.7 65.2h1.05M369.6 65.1h1.05M271.5 65.8h1.05M277.0 65.5h1.05M278.0 65.7h1.05M282.7 66.4h1.05M296.4 66.5h1.05M297.2 66.0h1.05M298.9 66.4h1.05M300.3 66.3h1.05M303.5 66.1h1.05M304.3 66.4h1.05M306.3 66.4h1.05M308.0 65.8h1.05M310.6 66.1h1.05M316.0 66.1h1.05M322.6 66.5h1.05M329.8 66.2h1.05M336.4 66.3h1.05M338.7 65.6h1.05M342.6 66.0h1.05M344.6 65.8h1.05M354.4 66.1h1.05M375.6 65.6h1.05M274.6 67.3h1.05M277.8 66.7h1.05M282.3 67.3h1.05M284.1 66.6h1.05M304.7 66.5h1.05M307.6 66.8h1.05M317.6 67.4h1.05M318.9 67.4h1.05M331.2 67.3h1.05M339.3 67.3h1.05M342.9 67.1h1.05M369.1 67.4h1.05M271.7 67.9h1.05M273.1 68.4h1.05M274.5 67.6h1.05M276.0 68.5h1.05M292.6 67.9h1.05M303.0 68.3h1.05M305.7 68.4h1.05M307.2 68.0h1.05M310.1 67.9h1.05M313.6 68.0h1.05M316.6 68.2h1.05M318.6 67.6h1.05M319.7 68.0h1.05M320.5 67.7h1.05M329.8 68.5h1.05M336.5 68.3h1.05M343.5 67.9h1.05M344.7 67.7h1.05M351.9 67.5h1.05M367.6 67.5h1.05M270.8 69.3h1.05M273.8 68.5h1.05M276.8 68.8h1.05M278.7 69.3h1.05M297.4 68.6h1.05M298.2 68.5h1.05M303.1 68.8h1.05M303.9 68.5h1.05M310.4 68.6h1.05M315.9 69.1h1.05M320.2 68.5h1.05M322.1 68.7h1.05M324.4 69.4h1.05M328.8 68.7h1.05M337.3 69.0h1.05M339.7 68.6h1.05M341.4 69.5h1.05M271.0 70.1h1.05M272.8 70.2h1.05M275.5 69.6h1.05M276.0 70.5h1.05M277.1 70.2h1.05M286.5 70.0h1.05M287.5 69.8h1.05M292.3 69.6h1.05M295.7 70.3h1.05M298.0 69.8h1.05M301.1 70.0h1.05M303.4 70.0h1.05M306.8 70.0h1.05M309.7 70.0h1.05M310.0 70.4h1.05M310.9 69.7h1.05M312.3 70.2h1.05M314.3 69.8h1.05M315.6 70.0h1.05M318.7 70.1h1.05M321.5 70.5h1.05M323.4 69.5h1.05M325.5 69.5h1.05M326.7 69.6h1.05M327.1 69.5h1.05M331.4 69.8h1.05M341.6 69.8h1.05M346.5 69.8h1.05M368.6 70.3h1.05M371.9 70.5h1.05M272.5 70.6h1.05M274.6 70.9h1.05M276.4 71.0h1.05M283.6 71.4h1.05M300.9 71.0h1.05M303.8 71.4h1.05M304.5 71.0h1.05M309.2 71.4h1.05M310.3 71.3h1.05M311.3 70.9h1.05M316.4 71.1h1.05M317.2 71.0h1.05M318.9 71.0h1.05M323.2 70.6h1.05M326.2 70.9h1.05M340.0 70.6h1.05M345.5 71.2h1.05M273.6 71.6h1.05M276.4 72.5h1.05M277.7 72.3h1.05M278.4 71.6h1.05M279.5 71.5h1.05M280.2 72.1h1.05M282.4 71.9h1.05M284.4 71.6h1.05M286.3 72.1h1.05M287.9 72.1h1.05M290.8 71.6h1.05M290.9 71.7h1.05M296.8 72.5h1.05M298.0 72.0h1.05M300.6 71.7h1.05M301.1 72.4h1.05M302.6 72.5h1.05M303.1 72.1h1.05M308.0 71.7h1.05M309.6 71.9h1.05M318.0 71.9h1.05M319.2 71.6h1.05M323.9 72.1h1.05M330.7 72.0h1.05M331.6 71.6h1.05M335.3 72.0h1.05M345.3 72.2h1.05M347.3 72.0h1.05M349.9 72.1h1.05M359.1 71.6h1.05M377.5 71.6h1.05M276.7 73.1h1.05M278.8 73.2h1.05M279.6 72.7h1.05M284.4 73.1h1.05M285.4 72.7h1.05M287.2 73.4h1.05M288.2 72.8h1.05M289.0 73.4h1.05M291.3 72.7h1.05M292.1 72.6h1.05M292.9 72.9h1.05M295.7 72.6h1.05M298.7 72.7h1.05M300.3 72.7h1.05M301.6 73.3h1.05M302.5 73.3h1.05M304.4 72.7h1.05M307.0 72.9h1.05M308.6 72.6h1.05M309.5 72.6h1.05M311.2 73.1h1.05M312.9 73.3h1.05M318.6 72.7h1.05M321.6 73.4h1.05M325.0 73.1h1.05M327.6 72.8h1.05M335.9 72.9h1.05M343.8 72.7h1.05M345.4 73.3h1.05M354.7 72.7h1.05M274.6 74.0h1.05M275.3 74.0h1.05M276.1 74.1h1.05M282.9 74.4h1.05M285.2 74.3h1.05M290.3 73.7h1.05M292.1 73.9h1.05M294.7 73.8h1.05M297.4 74.4h1.05M298.0 74.4h1.05M299.0 74.4h1.05M300.7 74.2h1.05M306.7 73.7h1.05M310.3 73.9h1.05M321.6 74.4h1.05M325.5 74.4h1.05M335.1 73.6h1.05M337.8 73.8h1.05M338.7 74.0h1.05M349.5 74.3h1.05M275.0 74.8h1.05M278.0 75.0h1.05M279.5 74.9h1.05M280.5 75.3h1.05M281.3 75.0h1.05M281.9 75.1h1.05M284.6 74.6h1.05M286.2 75.3h1.05M288.7 75.5h1.05M289.0 74.7h1.05M292.8 75.5h1.05M292.9 74.5h1.05M295.3 74.6h1.05M296.6 75.0h1.05M297.3 74.8h1.05M298.5 74.9h1.05M300.2 75.1h1.05M300.9 74.7h1.05M304.2 75.5h1.05M308.6 75.4h1.05M309.5 74.8h1.05M314.5 75.4h1.05M317.3 74.7h1.05M333.1 74.9h1.05M341.5 75.4h1.05M347.2 74.7h1.05M276.7 76.1h1.05M278.2 76.4h1.05M281.0 76.4h1.05M283.7 75.6h1.05M284.7 75.6h1.05M286.5 76.0h1.05M286.9 76.2h1.05M289.7 75.7h1.05M290.6 76.2h1.05M291.9 75.8h1.05M295.9 75.8h1.05M298.0 75.7h1.05M299.9 75.6h1.05M301.9 76.2h1.05M306.1 75.9h1.05M311.2 76.2h1.05M313.6 75.6h1.05M325.1 76.0h1.05M327.8 76.2h1.05M328.1 75.7h1.05M335.1 76.0h1.05M346.6 76.0h1.05M274.9 77.0h1.05M283.8 76.9h1.05M288.3 77.1h1.05M289.4 77.2h1.05M294.0 77.2h1.05M296.0 76.8h1.05M299.1 76.7h1.05M311.1 77.4h1.05M313.8 76.8h1.05M314.9 77.3h1.05M320.0 77.1h1.05M324.9 77.2h1.05M272.6 78.2h1.05M275.4 78.2h1.05M277.9 77.7h1.05M279.5 78.5h1.05M282.5 78.1h1.05M283.1 77.5h1.05M285.0 77.9h1.05M288.3 78.1h1.05M292.3 77.7h1.05M293.7 78.0h1.05M296.4 78.4h1.05M306.7 78.5h1.05M308.1 78.1h1.05M309.4 78.2h1.05M309.8 77.9h1.05M311.1 78.2h1.05M316.2 78.4h1.05M322.6 78.3h1.05M342.7 78.0h1.05M354.0 78.4h1.05M274.4 79.0h1.05M279.1 78.8h1.05M281.5 78.9h1.05M290.9 78.5h1.05M299.8 78.8h1.05M299.9 79.0h1.05M303.2 78.8h1.05M307.1 79.1h1.05M311.6 79.0h1.05M314.7 78.8h1.05M316.0 78.8h1.05M318.0 79.2h1.05M322.1 79.4h1.05M329.8 79.3h1.05M338.0 79.0h1.05M348.1 79.3h1.05M273.3 80.5h1.05M276.3 80.1h1.05M279.1 79.8h1.05M280.6 80.3h1.05M283.0 80.0h1.05M284.8 79.5h1.05M286.2 80.4h1.05M290.4 79.8h1.05M294.7 80.2h1.05M296.8 80.2h1.05M297.2 79.8h1.05M299.4 79.5h1.05M305.5 79.9h1.05M306.1 79.9h1.05M308.3 79.8h1.05M313.5 80.3h1.05M317.5 80.1h1.05M322.0 79.6h1.05M329.7 80.5h1.05M337.4 79.9h1.05M271.8 80.5h1.05M272.2 80.7h1.05M278.0 81.5h1.05M279.3 81.0h1.05M281.1 80.9h1.05M285.7 80.7h1.05M291.8 81.4h1.05M300.7 81.0h1.05M307.6 81.0h1.05M319.4 80.7h1.05M329.7 81.5h1.05M338.2 81.4h1.05M276.2 81.9h1.05M278.5 82.0h1.05M281.3 81.6h1.05M284.3 82.3h1.05M295.1 82.2h1.05M297.5 82.0h1.05M304.6 82.4h1.05M305.8 82.1h1.05M306.7 81.7h1.05M306.9 82.0h1.05M308.6 81.8h1.05M316.7 82.0h1.05M321.9 81.5h1.05M272.8 83.3h1.05M297.3 82.6h1.05M301.5 82.5h1.05M321.2 82.6h1.05M323.5 83.3h1.05M331.9 83.2h1.05M340.8 82.8h1.05M280.6 83.9h1.05M282.8 84.4h1.05M285.2 83.7h1.05M287.0 83.6h1.05M293.4 84.4h1.05M298.7 83.7h1.05M301.0 84.4h1.05M302.2 83.5h1.05M314.8 84.3h1.05M324.2 84.2h1.05M326.8 83.9h1.05M327.5 83.8h1.05M328.9 84.0h1.05M330.2 84.1h1.05M271.2 85.4h1.05M273.1 85.0h1.05M282.7 84.7h1.05M285.6 84.6h1.05M286.0 85.2h1.05M289.1 85.2h1.05M291.9 85.1h1.05M295.1 85.1h1.05M305.7 84.9h1.05M306.8 85.4h1.05M308.1 85.0h1.05M315.2 84.8h1.05M320.6 84.5h1.05M330.5 84.6h1.05M352.6 84.8h1.05M272.1 86.2h1.05M273.5 85.8h1.05M274.6 86.5h1.05M278.2 86.2h1.05M280.7 86.3h1.05M283.2 85.8h1.05M289.9 86.4h1.05M292.5 85.6h1.05M293.4 85.7h1.05M294.3 86.1h1.05M299.1 85.8h1.05M302.4 86.4h1.05M303.1 86.0h1.05M315.8 86.5h1.05M324.4 85.5h1.05" stroke="#888888" stroke-width="1.05" stroke-opacity="1" fill="none"/>
<path d="M357.9 46.2h1.05M346.8 47.4h1.05M279.8 47.9h1.05M331.9 48.5h1.05M335.6 48.3h1.05M273.2 49.1h1.05M284.1 49.4h1.05M285.4 48.6h1.05M289.0 48.6h1.05M279.1 50.4h1.05M309.4 49.8h1.05M319.3 50.6h1.05M332.7 51.5h1.05M336.3 51.3h1.05M280.7 52.4h1.05M282.1 51.8h1.05M305.4 51.5h1.05M330.8 51.8h1.05M278.0 53.3h1.05M283.0 53.1h1.05M298.3 52.9h1.05M298.9 52.6h1.05M317.7 52.8h1.05M330.8 53.1h1.05M273.6 53.6h1.05M286.1 54.1h1.05M288.2 53.9h1.05M295.7 54.1h1.05M319.7 54.0h1.05M328.4 54.2h1.05M348.1 53.6h1.05M358.5 54.0h1.05M365.3 53.8h1.05M274.2 55.3h1.05M275.2 55.0h1.05M287.7 55.1h1.05M289.7 55.2h1.05M291.7 54.9h1.05M327.7 55.0h1.05M331.1 55.2h1.05M277.7 55.7h1.05M289.4 55.8h1.05M293.7 56.4h1.05M299.9 56.4h1.05M339.5 55.7h1.05M339.8 56.2h1.05M277.3 57.5h1.05M282.6 56.8h1.05M286.7 56.9h1.05M290.0 57.3h1.05M292.3 56.9h1.05M293.5 56.7h1.05M295.3 57.4h1.05M299.4 57.1h1.05M322.7 57.4h1.05M287.8 57.5h1.05M288.9 58.4h1.05M290.3 57.6h1.05M291.1 57.8h1.05M292.4 57.7h1.05M298.4 58.3h1.05M300.1 57.9h1.05M315.0 57.6h1.05M276.7 59.1h1.05M277.3 59.0h1.05M282.1 58.8h1.05M285.1 58.8h1.05M288.1 58.8h1.05M289.7 59.1h1.05M290.6 58.9h1.05M292.0 59.0h1.05M298.6 58.7h1.05M339.6 59.5h1.05M350.1 59.2h1.05M366.8 59.3h1.05M276.8 60.1h1.05M277.9 59.7h1.05M278.8 59.6h1.05M281.3 60.0h1.05M282.2 59.6h1.05M285.3 60.2h1.05M294.5 60.4h1.05M296.1 59.9h1.05M304.3 59.7h1.05M307.5 59.9h1.05M312.8 60.1h1.05M276.7 61.3h1.05M280.4 61.4h1.05M282.9 61.2h1.05M285.3 61.5h1.05M286.7 60.6h1.05M286.8 60.6h1.05M288.1 60.6h1.05M294.9 60.6h1.05M296.0 60.9h1.05M301.4 61.1h1.05M302.6 60.8h1.05M335.6 60.8h1.05M280.6 61.8h1.05M281.1 61.6h1.05M281.9 61.8h1.05M283.5 61.5h1.05M285.8 62.0h1.05M286.6 62.2h1.05M292.9 61.9h1.05M294.2 61.6h1.05M296.5 61.6h1.05M299.3 61.8h1.05M300.6 62.1h1.05M335.6 62.3h1.05M371.7 62.2h1.05M279.2 62.9h1.05M280.7 62.6h1.05M288.5 62.9h1.05M290.3 62.6h1.05M293.6 62.9h1.05M294.5 62.6h1.05M296.0 62.6h1.05M297.4 63.2h1.05M300.7 63.3h1.05M302.7 62.8h1.05M306.9 62.8h1.05M324.4 63.4h1.05M347.6 62.8h1.05M272.0 63.8h1.05M274.3 63.7h1.05M275.3 63.6h1.05M278.3 64.4h1.05M280.9 64.1h1.05M284.6 64.3h1.05M285.4 63.7h1.05M286.2 64.1h1.05M288.1 64.2h1.05M290.3 64.1h1.05M291.4 64.4h1.05M297.5 63.7h1.05M300.9 64.2h1.05M304.4 63.6h1.05M305.6 63.9h1.05M307.1 63.6h1.05M308.2 63.9h1.05M317.8 63.8h1.05M333.4 64.1h1.05M346.1 64.2h1.05M275.8 64.9h1.05M277.0 64.6h1.05M280.1 64.9h1.05M285.2 65.2h1.05M292.8 64.8h1.05M294.8 65.5h1.05M297.0 65.4h1.05M298.9 65.3h1.05M302.0 64.7h1.05M314.7 65.3h1.05M329.8 64.6h1.05M273.7 66.2h1.05M275.8 65.6h1.05M279.1 66.2h1.05M279.9 65.8h1.05M283.6 66.1h1.05M291.4 66.0h1.05M294.2 65.8h1.05M302.0 66.2h1.05M305.2 65.8h1.05M312.9 65.9h1.05M322.9 66.0h1.05M330.9 66.0h1.05M358.1 66.0h1.05M275.3 67.5h1.05M276.6 67.3h1.05M278.8 66.9h1.05M285.8 66.6h1.05M285.8 67.3h1.05M288.1 66.8h1.05M293.0 66.8h1.05M295.1 66.6h1.05M297.8 66.8h1.05M297.9 67.3h1.05M299.5 66.9h1.05M300.0 66.6h1.05M302.5 67.5h1.05M303.1 66.9h1.05M307.8 67.3h1.05M310.2 66.7h1.05M321.1 67.1h1.05M322.1 66.6h1.05M326.3 67.4h1.05M327.6 66.8h1.05M340.0 67.2h1.05M275.4 68.2h1.05M277.1 67.6h1.05M279.2 68.3h1.05M281.8 68.4h1.05M283.0 67.9h1.05M284.7 67.7h1.05M286.8 67.7h1.05M288.7 68.1h1.05M293.7 68.4h1.05M296.3 67.7h1.05M298.6 67.8h1.05M299.6 68.5h1.05M300.1 67.7h1.05M301.4 68.3h1.05M302.7 67.9h1.05M309.6 67.5h1.05M311.1 68.2h1.05M281.5 68.8h1.05M285.4 68.8h1.05M293.7 69.0h1.05M295.7 69.1h1.05M296.0 68.6h1.05M301.2 69.4h1.05M306.0 68.8h1.05M307.7 69.1h1.05M327.5 69.0h1.05M340.0 69.3h1.05M365.0 68.8h1.05M278.1 70.1h1.05M278.8 69.9h1.05M281.9 69.8h1.05M283.1 70.4h1.05M284.3 70.4h1.05M288.9 70.3h1.05M290.5 70.5h1.05M296.7 70.4h1.05M297.6 69.8h1.05M299.8 69.7h1.05M301.9 69.7h1.05M304.5 70.4h1.05M306.1 69.9h1.05M308.2 69.5h1.05M277.3 71.5h1.05M277.9 71.3h1.05M280.8 71.3h1.05M282.4 70.7h1.05M284.5 71.3h1.05M284.9 71.4h1.05M286.2 70.8h1.05M292.6 71.2h1.05M293.5 70.6h1.05M295.4 70.8h1.05M296.2 71.1h1.05M300.7 71.2h1.05M306.5 71.0h1.05M306.9 71.4h1.05M325.5 71.1h1.05M281.3 71.5h1.05M283.2 71.9h1.05M285.0 72.3h1.05M287.4 72.1h1.05M289.6 72.2h1.05M291.8 72.0h1.05M294.6 71.9h1.05M295.3 72.2h1.05M297.0 72.4h1.05M299.4 71.9h1.05M304.8 71.7h1.05M312.3 71.5h1.05M326.7 72.3h1.05M356.4 72.2h1.05M277.5 73.3h1.05M280.9 73.4h1.05M282.0 72.6h1.05M283.0 73.1h1.05M285.8 72.9h1.05M290.6 73.0h1.05M294.6 72.6h1.05M296.0 73.1h1.05M297.7 73.1h1.05M299.0 73.0h1.05M303.5 72.8h1.05M314.6 73.4h1.05M332.4 72.7h1.05M353.2 73.1h1.05M284.4 74.0h1.05M286.7 74.2h1.05M288.0 74.1h1.05M291.3 74.0h1.05M293.6 73.9h1.05M295.9 73.6h1.05M301.7 73.9h1.05M303.3 73.6h1.05M304.3 74.5h1.05M317.3 73.8h1.05M341.6 73.8h1.05M277.5 74.6h1.05M283.5 74.7h1.05M287.5 74.9h1.05M290.3 74.7h1.05M293.9 75.0h1.05M303.3 75.5h1.05M305.6 74.9h1.05M306.3 74.9h1.05M326.1 75.0h1.05M327.8 74.6h1.05M279.8 76.2h1.05M285.4 76.0h1.05M288.3 75.6h1.05M291.3 76.0h1.05M294.1 75.8h1.05M307.5 75.7h1.05M319.8 76.4h1.05M278.3 77.1h1.05M282.1 77.0h1.05M283.4 77.3h1.05M286.7 76.8h1.05M287.0 76.8h1.05M293.1 77.4h1.05M306.6 77.0h1.05M330.3 77.5h1.05M337.9 77.4h1.05M290.4 78.4h1.05M291.0 78.4h1.05M293.8 78.4h1.05M295.8 77.9h1.05M317.7 77.5h1.05M334.4 77.7h1.05M277.1 78.6h1.05M308.3 79.1h1.05M295.2 80.8h1.05M296.4 81.2h1.05M305.2 80.9h1.05M313.9 80.8h1.05M310.2 81.8h1.05M331.7 82.3h1.05M271.1 82.9h1.05M276.8 83.3h1.05M281.1 82.8h1.05M283.5 83.5h1.05M293.4 82.7h1.05M308.7 83.0h1.05M312.3 83.1h1.05M313.4 83.2h1.05M273.5 84.5h1.05M279.5 85.0h1.05M287.3 84.7h1.05M289.2 86.0h1.05M333.6 85.9h1.05" stroke="#acacac" stroke-width="1.05" stroke-opacity="1" fill="none"/>
<path d="M292.9 47.3h1.05M272.7 50.7h1.05M340.1 51.0h1.05M304.4 55.8h1.05M310.0 55.7h1.05M329.9 55.7h1.05M274.4 56.7h1.05M279.3 57.8h1.05M286.3 58.4h1.05M296.1 58.0h1.05M297.5 58.0h1.05M326.2 57.7h1.05M285.9 59.0h1.05M287.0 58.7h1.05M291.2 58.8h1.05M303.0 59.0h1.05M315.2 58.7h1.05M283.6 59.8h1.05M285.9 59.6h1.05M287.8 59.9h1.05M288.1 60.1h1.05M289.7 60.5h1.05M290.4 59.9h1.05M291.4 59.6h1.05M292.7 59.8h1.05M293.0 59.7h1.05M278.7 60.7h1.05M290.7 60.7h1.05M291.6 61.5h1.05M292.2 60.9h1.05M293.4 60.8h1.05M294.0 60.9h1.05M297.6 60.7h1.05M298.6 60.8h1.05M299.0 61.1h1.05M300.7 61.4h1.05M304.3 60.9h1.05M284.7 61.6h1.05M286.9 62.5h1.05M288.7 62.3h1.05M288.8 62.2h1.05M290.6 62.0h1.05M290.9 61.8h1.05M292.3 62.1h1.05M295.8 61.8h1.05M297.5 62.0h1.05M298.1 62.3h1.05M316.9 61.6h1.05M282.4 62.7h1.05M283.6 62.5h1.05M284.0 63.1h1.05M285.0 63.4h1.05M286.7 62.9h1.05M287.4 62.8h1.05M289.0 63.0h1.05M291.2 63.2h1.05M292.0 63.2h1.05M303.6 62.8h1.05M281.8 63.5h1.05M283.2 64.4h1.05M287.2 64.4h1.05M289.2 64.4h1.05M292.7 64.3h1.05M294.0 63.8h1.05M294.9 63.5h1.05M296.0 64.0h1.05M298.2 64.2h1.05M299.2 63.6h1.05M300.6 64.4h1.05M302.3 63.5h1.05M310.0 63.8h1.05M274.0 65.3h1.05M278.4 65.2h1.05M279.2 64.6h1.05M281.7 65.4h1.05M282.6 64.8h1.05M284.8 64.8h1.05M286.0 64.6h1.05M287.5 64.8h1.05M288.5 64.5h1.05M289.0 64.9h1.05M290.6 65.5h1.05M291.7 65.2h1.05M292.9 65.1h1.05M294.0 64.8h1.05M296.4 64.6h1.05M298.4 64.7h1.05M305.7 65.4h1.05M281.0 65.8h1.05M284.0 65.8h1.05M284.8 66.0h1.05M286.6 65.7h1.05M287.2 66.2h1.05M288.2 65.8h1.05M289.6 66.5h1.05M289.9 66.0h1.05M292.5 65.9h1.05M293.6 66.3h1.05M295.7 66.0h1.05M297.8 65.7h1.05M300.9 66.4h1.05M311.0 66.2h1.05M280.0 66.6h1.05M281.6 67.2h1.05M283.0 67.5h1.05M287.4 66.8h1.05M289.7 66.9h1.05M290.1 66.9h1.05M291.7 67.3h1.05M292.5 66.9h1.05M294.0 67.4h1.05M296.7 66.5h1.05M300.9 67.5h1.05M280.5 67.5h1.05M282.3 68.3h1.05M285.7 67.7h1.05M286.8 68.3h1.05M289.6 67.6h1.05M290.7 67.9h1.05M290.9 68.1h1.05M294.7 67.9h1.05M295.6 68.5h1.05M297.2 67.5h1.05M308.0 67.7h1.05M273.4 69.4h1.05M281.9 68.7h1.05M283.3 68.7h1.05M284.8 69.5h1.05M285.9 69.4h1.05M287.3 69.3h1.05M287.9 68.9h1.05M290.0 68.6h1.05M291.1 69.0h1.05M291.9 69.2h1.05M294.8 68.6h1.05M299.6 68.5h1.05M300.6 69.5h1.05M302.2 69.3h1.05M305.4 68.9h1.05M281.4 70.0h1.05M285.5 70.3h1.05M288.8 70.4h1.05M291.5 69.5h1.05M293.5 70.3h1.05M294.0 69.9h1.05M300.0 70.1h1.05M281.4 71.4h1.05M287.3 71.1h1.05M288.7 70.8h1.05M289.3 70.6h1.05M290.5 70.8h1.05M291.6 70.8h1.05M293.8 70.7h1.05M296.9 70.8h1.05M298.2 70.6h1.05M299.3 70.6h1.05M342.3 70.9h1.05M292.8 71.9h1.05M286.9 74.2h1.05M277.5 75.8h1.05M348.8 76.0h1.05M317.6 77.0h1.05M289.0 78.1h1.05M291.8 82.3h1.05M325.9 81.5h1.05M304.3 84.4h1.05M311.3 84.1h1.05M309.4 85.5h1.05" stroke="#cdcdcd" stroke-width="1.05" stroke-opacity="1" fill="none"/>
</g>
<path d="M270.6 19H411.3V112.7" stroke="#4a4a4a" stroke-width="1" fill="none"/>
<path d="M325.5 19V112.7M270.6 86.5H411.3" stroke="#4a4a4a" stroke-width="1" fill="none"/>
<path d="M270.6 19V112.7H411.3" stroke="#111" stroke-width="1.3" fill="none"/>
<rect x="325.5" y="44.5" width="53.80000000000001" height="42.0" stroke="#111" stroke-width="1.3" fill="none"/>
<path d="M268.6 55.4h2M268.6 48.7h2M268.6 44.0h2M268.6 40.3h2M268.6 37.4h2M268.6 34.8h2M268.6 32.7h2M268.6 30.7h2M268.6 86.4h2M268.6 81.7h2M268.6 78.0h2M268.6 75.1h2M268.6 72.5h2M268.6 70.4h2M268.6 68.4h2M267.4 29.0h3.2M267.4 66.7h3.2" stroke="#222" stroke-width="0.8" fill="none"/>
<text class="t" x="258.8" y="34.4">10</text><text class="s" x="264.0" y="31.1">5</text>
<text class="t" x="258.8" y="72.1">10</text><text class="s" x="264.0" y="68.8">4</text>
<path d="M271.0 112.7v2.6M280.1 112.7v2.6M292.1 112.7v2.6M345.4 112.7v2.6M375.7 112.7v2.6M400.4 112.7v2.6M308.1 112.7v1.7M317.5 112.7v1.7M324.2 112.7v1.7M329.4 112.7v1.7M333.6 112.7v1.7M337.1 112.7v1.7M340.2 112.7v1.7M343.0 112.7v1.7M354.5 112.7v1.7M359.9 112.7v1.7M363.6 112.7v1.7M366.6 112.7v1.7M369.0 112.7v1.7M371.0 112.7v1.7M372.8 112.7v1.7M374.3 112.7v1.7M383.1 112.7v1.7M387.5 112.7v1.7M390.6 112.7v1.7M393.0 112.7v1.7M394.9 112.7v1.7M396.6 112.7v1.7M398.0 112.7v1.7M399.3 112.7v1.7M407.9 112.7v1.7" stroke="#222" stroke-width="0.8" fill="none"/>
<path d="M271.6 113.8h20" stroke="#333" stroke-width="1" stroke-dasharray="1.2 0.7"/>
<path d="M278.6 114.10000000000001h5" stroke="#111" stroke-width="1.6"/>
<text class="t" x="262.1" y="124.7">-10</text><text class="s" x="270.4" y="121.1">2</text>
<text class="t" x="273.6" y="124.7">-10</text><text class="s" x="281.9" y="121.1">1</text>
<text class="t" x="287.8" y="124.7">10</text><text class="s" x="294.1" y="121.1">2</text>
<text class="t" x="339.9" y="124.7">10</text><text class="s" x="346.2" y="121.1">3</text>
<text class="t" x="371.0" y="124.7">10</text><text class="s" x="377.3" y="121.1">4</text>
<text class="t" x="395.9" y="124.7">10</text><text class="s" x="402.2" y="121.1">5</text>
<text class="b" font-size="9" x="384.2" y="67.5">4.46%</text>
<path d="M411.3 102.8V110.4" stroke="#fff" stroke-width="2"/>
<path d="M356.6 128.7h1M330 137.5h1" stroke="#888" stroke-width="1"/>
<g filter="url(#bl)">
<path d="M121.0 199.0h1.05M108.1 201.2h1.05M109.7 201.3h1.05M111.8 201.3h1.05M114.0 200.7h1.05M122.5 200.8h1.05M96.9 201.9h1.05M102.1 202.5h1.05M114.7 202.2h1.05M121.1 201.6h1.05M125.4 202.5h1.05M126.1 202.0h1.05M103.2 202.6h1.05M106.6 202.9h1.05M107.0 202.7h1.05M112.3 202.7h1.05M118.9 203.5h1.05M119.2 202.6h1.05M120.2 203.0h1.05M121.6 203.4h1.05M131.6 203.4h1.05M95.7 204.4h1.05M102.2 204.4h1.05M114.4 204.0h1.05M115.0 204.3h1.05M120.2 204.3h1.05M129.3 203.7h1.05M137.2 204.2h1.05M97.6 205.4h1.05M98.6 205.5h1.05M102.4 204.6h1.05M118.0 204.6h1.05M123.8 205.2h1.05M126.2 204.6h1.05M127.2 204.6h1.05M129.2 204.8h1.05M96.5 206.2h1.05M98.8 206.1h1.05M127.1 206.3h1.05M129.1 205.7h1.05M131.1 205.9h1.05M134.3 206.4h1.05M137.5 205.9h1.05M98.0 206.8h1.05M127.8 207.4h1.05M128.7 207.4h1.05M130.0 206.7h1.05M132.6 206.7h1.05M96.2 207.8h1.05M98.2 207.5h1.05M130.5 208.2h1.05M131.6 207.7h1.05M133.3 207.6h1.05M95.8 209.1h1.05M99.6 208.8h1.05M128.3 209.3h1.05M130.2 209.2h1.05M133.4 208.9h1.05M137.0 208.6h1.05M138.4 208.8h1.05M143.0 209.3h1.05M93.8 210.3h1.05M96.6 210.1h1.05M131.3 209.9h1.05M133.8 210.0h1.05M134.8 210.4h1.05M135.1 210.1h1.05M137.1 210.3h1.05M138.6 210.0h1.05M94.9 210.6h1.05M132.5 211.2h1.05M134.6 211.3h1.05M140.5 211.2h1.05M94.0 211.6h1.05M131.4 212.2h1.05M132.1 211.6h1.05M136.6 211.9h1.05M137.5 212.4h1.05M138.5 212.4h1.05M139.3 212.0h1.05M133.3 212.9h1.05M135.3 213.2h1.05M138.9 213.3h1.05M140.2 212.9h1.05M141.6 213.5h1.05M132.7 213.8h1.05M135.2 214.3h1.05M137.8 213.6h1.05M138.4 214.5h1.05M139.3 214.1h1.05M136.6 215.0h1.05M111.8 216.0h1.05M113.9 215.7h1.05M133.4 215.8h1.05M134.1 216.2h1.05M139.9 215.6h1.05M141.2 215.8h1.05M93.6 216.5h1.05M111.8 217.1h1.05M114.0 216.9h1.05M134.1 217.4h1.05M136.9 217.4h1.05M138.6 216.7h1.05M140.5 217.5h1.05M142.9 217.5h1.05M114.3 217.6h1.05M134.5 217.7h1.05M136.7 217.8h1.05M137.2 217.6h1.05M139.3 217.8h1.05M133.4 219.1h1.05M135.5 218.5h1.05M136.8 219.1h1.05M137.6 218.9h1.05M140.4 218.8h1.05M141.9 219.5h1.05M145.5 218.5h1.05M136.3 219.7h1.05M137.8 219.5h1.05M138.8 219.5h1.05M140.6 220.0h1.05M145.4 220.1h1.05M133.6 221.4h1.05M135.0 221.3h1.05M138.0 220.7h1.05M131.7 221.8h1.05M135.1 221.6h1.05M135.9 222.3h1.05M141.0 222.0h1.05M142.4 221.6h1.05M132.2 223.0h1.05M134.6 222.6h1.05M136.2 223.1h1.05M138.2 222.8h1.05M139.6 223.5h1.05M94.3 224.0h1.05M96.1 224.5h1.05M132.6 223.8h1.05M134.6 223.7h1.05M135.6 223.6h1.05M138.1 224.4h1.05M140.3 224.1h1.05M95.0 225.1h1.05M96.8 225.0h1.05M97.2 224.8h1.05M131.8 224.9h1.05M96.1 226.1h1.05M98.3 225.9h1.05M99.5 226.0h1.05M120.6 226.1h1.05M125.3 225.9h1.05M129.3 226.2h1.05M130.6 225.6h1.05M132.1 226.0h1.05M133.5 225.8h1.05M93.5 227.4h1.05M94.3 227.5h1.05M97.6 227.4h1.05M98.8 227.5h1.05M99.2 227.3h1.05M101.9 227.0h1.05M103.7 227.2h1.05M124.8 226.8h1.05M126.3 226.6h1.05M132.2 227.3h1.05M134.3 226.7h1.05M138.3 227.1h1.05M141.2 226.9h1.05M94.7 227.5h1.05M95.1 227.9h1.05M97.1 228.3h1.05M98.9 228.5h1.05M99.0 227.9h1.05M102.5 228.3h1.05M104.3 228.4h1.05M106.8 228.1h1.05M107.7 228.0h1.05M113.3 228.2h1.05M119.1 228.0h1.05M122.6 227.8h1.05M129.4 228.4h1.05M130.9 228.1h1.05M134.3 228.3h1.05M136.9 227.5h1.05M140.1 227.8h1.05M96.8 229.1h1.05M103.9 228.9h1.05M104.8 229.1h1.05M105.6 228.8h1.05M106.3 228.7h1.05M110.8 228.7h1.05M112.1 228.8h1.05M113.8 228.9h1.05M118.4 229.5h1.05M119.6 229.3h1.05M120.7 228.6h1.05M121.3 228.6h1.05M122.1 229.0h1.05M123.6 228.7h1.05M126.3 228.9h1.05M127.0 228.8h1.05M128.2 229.4h1.05M129.5 229.4h1.05M130.0 228.9h1.05M131.7 229.0h1.05M135.4 229.0h1.05M145.4 229.3h1.05M98.3 230.0h1.05M103.0 229.8h1.05M106.9 229.7h1.05M107.2 229.8h1.05M117.9 229.9h1.05M119.3 230.4h1.05M121.6 230.1h1.05M125.4 229.8h1.05M126.7 229.6h1.05M132.4 229.9h1.05M133.7 229.5h1.05M102.8 230.8h1.05M106.7 231.2h1.05M108.8 230.6h1.05M109.2 231.2h1.05M113.9 231.3h1.05M117.1 230.8h1.05M119.6 230.9h1.05M125.2 231.3h1.05M127.3 231.0h1.05M128.0 231.4h1.05M130.2 231.0h1.05M132.6 230.5h1.05M101.6 232.0h1.05M102.7 231.9h1.05M103.7 231.8h1.05M109.2 232.3h1.05M111.7 231.8h1.05M112.8 231.9h1.05M113.3 231.7h1.05M117.6 232.4h1.05M119.0 232.2h1.05M121.7 232.5h1.05M123.4 231.8h1.05M132.0 231.6h1.05M141.8 231.7h1.05M93.9 233.2h1.05M101.1 232.9h1.05M117.8 232.9h1.05M118.9 233.1h1.05M119.9 233.0h1.05M107.6 234.1h1.05M108.8 233.7h1.05M116.0 233.7h1.05M125.9 233.6h1.05M121.3 234.7h1.05" stroke="#404040" stroke-width="1.05" stroke-opacity="1" fill="none"/>
<path d="M93.0 198.4h1.05M111.2 200.1h1.05M130.4 199.5h1.05M116.9 200.9h1.05M121.5 200.8h1.05M103.7 202.2h1.05M104.9 202.3h1.05M106.8 202.0h1.05M109.2 202.3h1.05M110.0 201.6h1.05M115.3 202.5h1.05M116.3 202.4h1.05M116.9 202.4h1.05M120.7 201.5h1.05M123.0 202.4h1.05M136.0 202.5h1.05M143.3 202.2h1.05M97.1 202.8h1.05M102.6 202.9h1.05M104.4 203.2h1.05M111.7 203.5h1.05M113.6 202.7h1.05M114.2 202.8h1.05M115.6 203.3h1.05M116.7 202.8h1.05M117.8 202.5h1.05M122.6 203.3h1.05M123.0 203.1h1.05M125.2 202.6h1.05M127.4 203.2h1.05M132.5 202.7h1.05M98.5 204.2h1.05M100.4 204.1h1.05M101.4 203.9h1.05M103.4 204.4h1.05M104.9 204.2h1.05M107.6 204.1h1.05M109.2 203.7h1.05M110.7 203.9h1.05M111.9 203.9h1.05M112.7 204.2h1.05M116.3 203.5h1.05M117.3 203.5h1.05M118.3 203.6h1.05M121.5 203.6h1.05M124.1 203.7h1.05M124.9 204.4h1.05M131.7 204.3h1.05M134.3 203.9h1.05M145.2 204.4h1.05M100.7 205.3h1.05M103.5 205.1h1.05M104.8 205.1h1.05M106.8 204.8h1.05M107.8 205.4h1.05M111.9 205.4h1.05M114.0 204.9h1.05M115.0 204.8h1.05M116.0 204.6h1.05M117.3 205.2h1.05M119.4 204.7h1.05M120.5 205.2h1.05M122.0 204.5h1.05M124.8 204.6h1.05M128.5 204.6h1.05M130.5 205.0h1.05M131.3 205.2h1.05M134.2 205.3h1.05M97.6 206.2h1.05M100.5 205.8h1.05M101.5 206.3h1.05M101.9 206.4h1.05M103.2 206.2h1.05M111.0 205.6h1.05M120.1 206.3h1.05M121.1 206.2h1.05M124.6 205.8h1.05M125.8 206.4h1.05M126.9 206.1h1.05M130.7 205.6h1.05M132.6 206.3h1.05M133.3 205.8h1.05M135.4 205.5h1.05M95.3 207.0h1.05M96.7 206.8h1.05M97.2 206.8h1.05M99.3 207.5h1.05M100.9 207.4h1.05M101.9 206.6h1.05M103.7 207.0h1.05M104.8 207.1h1.05M123.6 206.6h1.05M125.4 206.9h1.05M126.9 207.5h1.05M129.5 206.8h1.05M131.4 206.6h1.05M134.1 207.3h1.05M93.8 207.6h1.05M95.8 208.5h1.05M99.1 208.5h1.05M125.2 207.7h1.05M126.2 208.4h1.05M127.0 207.9h1.05M128.3 207.8h1.05M129.7 207.7h1.05M132.4 207.6h1.05M135.6 208.5h1.05M136.2 208.0h1.05M138.5 208.4h1.05M144.5 208.4h1.05M95.9 208.6h1.05M97.9 209.2h1.05M98.7 208.8h1.05M100.1 209.4h1.05M127.3 209.2h1.05M129.5 209.0h1.05M131.7 208.7h1.05M134.6 209.4h1.05M135.9 209.2h1.05M139.4 209.5h1.05M93.9 210.0h1.05M95.3 210.0h1.05M97.0 209.8h1.05M98.3 210.3h1.05M99.8 209.6h1.05M129.7 210.4h1.05M132.0 209.6h1.05M136.6 210.0h1.05M93.6 211.1h1.05M95.0 210.5h1.05M96.6 210.6h1.05M130.9 210.6h1.05M131.3 210.8h1.05M133.8 211.1h1.05M135.0 210.9h1.05M136.3 211.0h1.05M137.2 211.2h1.05M138.7 211.4h1.05M139.3 210.6h1.05M98.5 212.1h1.05M134.3 212.2h1.05M135.0 211.6h1.05M140.3 212.4h1.05M93.2 212.8h1.05M94.7 213.2h1.05M117.0 212.9h1.05M134.0 213.3h1.05M136.6 213.2h1.05M137.8 213.4h1.05M139.4 213.2h1.05M94.1 213.8h1.05M115.3 213.7h1.05M133.3 213.8h1.05M134.8 214.2h1.05M136.5 214.2h1.05M140.5 213.7h1.05M142.0 214.4h1.05M93.3 214.9h1.05M94.4 215.3h1.05M109.5 214.9h1.05M110.6 215.3h1.05M111.9 215.2h1.05M117.1 215.2h1.05M119.1 215.3h1.05M129.8 214.6h1.05M132.7 214.6h1.05M135.6 214.9h1.05M137.4 214.8h1.05M139.8 215.1h1.05M93.7 216.3h1.05M94.0 216.1h1.05M108.5 215.9h1.05M110.2 216.2h1.05M113.0 216.4h1.05M117.2 215.9h1.05M118.1 215.8h1.05M119.8 215.9h1.05M131.3 215.9h1.05M135.1 215.5h1.05M137.4 216.3h1.05M138.4 216.1h1.05M109.4 217.5h1.05M113.3 216.9h1.05M115.8 216.8h1.05M117.3 216.5h1.05M132.5 216.7h1.05M133.5 216.8h1.05M135.4 217.3h1.05M136.8 217.4h1.05M93.6 218.3h1.05M108.0 217.6h1.05M110.5 218.0h1.05M112.8 218.3h1.05M115.7 217.5h1.05M133.0 217.8h1.05M135.8 217.9h1.05M138.7 217.8h1.05M142.1 218.3h1.05M93.3 218.7h1.05M131.2 218.6h1.05M132.1 218.8h1.05M134.8 218.7h1.05M139.7 219.1h1.05M94.2 220.4h1.05M97.3 220.0h1.05M133.2 220.1h1.05M134.9 220.1h1.05M141.1 220.3h1.05M93.4 220.9h1.05M94.6 221.3h1.05M96.0 220.9h1.05M112.5 220.6h1.05M132.0 220.8h1.05M134.0 221.3h1.05M137.6 220.7h1.05M93.1 221.6h1.05M94.3 222.3h1.05M95.4 221.6h1.05M98.6 221.9h1.05M129.4 221.7h1.05M132.6 221.5h1.05M133.2 221.9h1.05M137.8 221.6h1.05M138.2 222.5h1.05M93.5 223.5h1.05M94.0 222.6h1.05M95.0 222.7h1.05M96.4 223.2h1.05M128.2 223.4h1.05M131.5 223.3h1.05M133.3 222.8h1.05M135.9 223.0h1.05M141.3 222.6h1.05M143.7 223.1h1.05M95.0 224.1h1.05M98.5 223.7h1.05M130.5 223.9h1.05M131.4 223.6h1.05M133.5 223.5h1.05M136.4 224.5h1.05M137.7 223.7h1.05M93.6 224.7h1.05M94.0 225.0h1.05M98.5 225.0h1.05M99.1 224.8h1.05M129.1 225.3h1.05M130.1 225.0h1.05M132.6 225.2h1.05M133.0 224.9h1.05M134.4 225.0h1.05M135.5 225.3h1.05M136.4 224.5h1.05M136.9 225.1h1.05M94.2 226.3h1.05M95.6 226.1h1.05M97.1 225.7h1.05M100.0 225.6h1.05M101.4 226.0h1.05M119.3 226.2h1.05M127.7 226.3h1.05M128.7 225.8h1.05M134.0 226.2h1.05M135.9 226.4h1.05M137.1 226.2h1.05M137.9 226.4h1.05M95.2 226.9h1.05M96.0 226.6h1.05M100.2 227.2h1.05M102.8 227.1h1.05M104.4 227.4h1.05M108.2 227.4h1.05M116.1 227.5h1.05M117.1 227.1h1.05M120.9 226.9h1.05M121.8 227.2h1.05M123.4 227.0h1.05M125.5 227.1h1.05M127.4 227.4h1.05M128.1 226.7h1.05M129.4 227.5h1.05M129.9 226.8h1.05M130.9 227.0h1.05M133.7 227.0h1.05M136.8 227.5h1.05M96.8 227.5h1.05M100.5 227.6h1.05M101.2 227.6h1.05M103.7 228.1h1.05M105.8 228.3h1.05M108.5 228.5h1.05M109.1 228.3h1.05M110.4 228.4h1.05M111.6 228.0h1.05M112.6 228.0h1.05M114.5 227.9h1.05M116.9 228.0h1.05M117.4 228.2h1.05M120.1 228.2h1.05M121.3 227.9h1.05M124.5 227.5h1.05M125.8 227.8h1.05M126.3 227.8h1.05M127.3 228.5h1.05M130.9 228.2h1.05M132.7 228.2h1.05M99.3 229.5h1.05M100.1 229.1h1.05M101.5 229.2h1.05M102.5 228.7h1.05M107.6 228.5h1.05M109.2 228.8h1.05M111.4 229.4h1.05M114.5 228.8h1.05M115.9 228.9h1.05M116.7 228.6h1.05M117.3 228.7h1.05M123.9 229.1h1.05M125.3 228.8h1.05M132.4 228.6h1.05M133.0 228.7h1.05M99.3 229.5h1.05M100.4 229.6h1.05M101.0 229.6h1.05M102.5 230.3h1.05M104.6 230.4h1.05M105.6 229.5h1.05M108.8 230.3h1.05M110.0 230.4h1.05M112.5 230.5h1.05M113.7 229.7h1.05M114.4 230.1h1.05M117.4 229.5h1.05M120.9 229.8h1.05M122.8 229.8h1.05M124.6 230.2h1.05M127.6 230.0h1.05M128.9 230.2h1.05M129.6 230.2h1.05M96.6 230.6h1.05M99.1 230.9h1.05M101.3 231.5h1.05M103.1 231.2h1.05M104.7 230.6h1.05M105.7 231.2h1.05M110.2 230.7h1.05M112.6 231.2h1.05M113.6 231.5h1.05M115.8 231.2h1.05M116.3 231.3h1.05M120.8 230.6h1.05M121.5 231.2h1.05M122.3 230.6h1.05M124.5 230.6h1.05M126.8 231.3h1.05M132.9 231.2h1.05M143.8 231.4h1.05M144.0 230.7h1.05M105.0 231.6h1.05M106.3 232.5h1.05M115.1 232.2h1.05M116.0 231.9h1.05M120.8 231.8h1.05M122.6 232.0h1.05M96.8 233.2h1.05M105.1 233.3h1.05M109.0 233.0h1.05M112.3 233.3h1.05M120.9 232.7h1.05M122.6 232.5h1.05M129.6 232.8h1.05M111.0 233.9h1.05M114.6 233.7h1.05M117.1 234.0h1.05M123.0 234.0h1.05M126.7 234.2h1.05M127.3 234.5h1.05" stroke="#626262" stroke-width="1.05" stroke-opacity="1" fill="none"/>
<path d="M107.7 201.2h1.05M101.3 203.1h1.05M105.8 203.5h1.05M109.7 203.4h1.05M110.0 203.0h1.05M124.8 203.2h1.05M126.5 202.7h1.05M130.1 203.3h1.05M104.6 204.2h1.05M106.9 203.6h1.05M108.8 204.0h1.05M113.7 203.6h1.05M122.9 204.4h1.05M123.3 203.6h1.05M126.6 204.4h1.05M128.5 204.4h1.05M130.5 204.4h1.05M133.1 204.3h1.05M101.4 205.0h1.05M105.5 204.5h1.05M108.0 205.2h1.05M109.3 205.2h1.05M110.1 204.7h1.05M113.3 205.3h1.05M121.5 204.8h1.05M125.3 204.9h1.05M99.9 205.7h1.05M104.9 206.2h1.05M106.6 205.5h1.05M107.7 206.3h1.05M108.5 205.8h1.05M109.0 205.9h1.05M112.7 205.7h1.05M114.6 205.8h1.05M115.6 206.2h1.05M116.4 205.9h1.05M117.7 205.5h1.05M118.3 205.8h1.05M122.2 205.7h1.05M123.7 206.3h1.05M128.9 205.9h1.05M93.4 206.5h1.05M94.6 207.3h1.05M105.6 207.3h1.05M106.7 207.2h1.05M107.0 207.2h1.05M113.0 206.7h1.05M115.4 207.4h1.05M119.9 206.9h1.05M120.9 206.7h1.05M124.3 206.8h1.05M99.9 207.5h1.05M101.7 208.2h1.05M102.1 208.3h1.05M103.8 207.9h1.05M104.5 207.9h1.05M113.0 207.6h1.05M119.5 207.6h1.05M124.7 208.3h1.05M134.3 207.7h1.05M101.9 209.0h1.05M112.1 208.5h1.05M125.4 209.4h1.05M126.3 209.0h1.05M132.3 208.5h1.05M135.4 209.1h1.05M109.8 209.7h1.05M110.2 209.9h1.05M121.4 209.7h1.05M125.4 209.9h1.05M130.8 210.1h1.05M98.9 210.9h1.05M100.6 211.0h1.05M108.2 210.9h1.05M124.6 210.7h1.05M128.9 210.7h1.05M95.1 212.3h1.05M96.3 212.3h1.05M97.3 211.7h1.05M112.8 212.4h1.05M116.3 211.8h1.05M122.3 211.8h1.05M126.5 211.8h1.05M128.6 212.2h1.05M129.6 211.6h1.05M132.9 212.3h1.05M95.7 213.2h1.05M96.5 212.9h1.05M97.4 212.8h1.05M111.6 212.8h1.05M113.9 213.1h1.05M115.1 213.0h1.05M118.5 213.3h1.05M124.3 213.2h1.05M129.7 213.4h1.05M132.0 213.0h1.05M93.4 214.4h1.05M95.3 213.7h1.05M96.5 213.8h1.05M102.9 213.9h1.05M111.0 214.0h1.05M113.4 214.5h1.05M116.1 214.3h1.05M118.4 213.6h1.05M128.5 213.7h1.05M131.0 213.8h1.05M95.4 215.0h1.05M99.9 214.7h1.05M104.9 215.4h1.05M107.6 214.6h1.05M108.6 215.5h1.05M112.1 214.9h1.05M113.4 214.9h1.05M115.0 214.7h1.05M116.4 214.7h1.05M118.6 214.8h1.05M131.0 214.8h1.05M133.0 215.1h1.05M134.0 215.1h1.05M138.2 215.3h1.05M140.9 214.7h1.05M109.5 215.7h1.05M112.8 216.2h1.05M115.0 216.3h1.05M115.9 215.9h1.05M127.5 216.3h1.05M130.9 215.8h1.05M132.2 216.0h1.05M136.2 215.8h1.05M98.4 216.7h1.05M106.9 217.5h1.05M108.8 217.2h1.05M112.0 217.4h1.05M118.2 217.5h1.05M120.3 217.4h1.05M121.1 217.0h1.05M126.4 216.6h1.05M130.0 216.7h1.05M131.4 216.7h1.05M139.3 217.4h1.05M141.7 216.5h1.05M94.1 218.1h1.05M95.1 217.7h1.05M96.3 217.5h1.05M104.7 217.6h1.05M106.2 217.8h1.05M109.9 217.8h1.05M113.7 218.3h1.05M116.9 217.8h1.05M131.3 218.0h1.05M132.1 217.7h1.05M94.9 218.6h1.05M95.5 218.6h1.05M95.9 219.2h1.05M97.0 219.4h1.05M101.5 219.4h1.05M107.9 219.0h1.05M110.2 219.1h1.05M112.7 218.6h1.05M113.5 219.3h1.05M117.5 218.7h1.05M118.3 219.1h1.05M121.4 218.8h1.05M122.5 219.0h1.05M126.8 218.7h1.05M138.2 218.6h1.05M93.4 220.2h1.05M95.2 220.4h1.05M102.4 220.4h1.05M103.1 219.7h1.05M109.2 220.3h1.05M110.3 220.4h1.05M113.3 220.0h1.05M114.4 220.3h1.05M115.5 219.6h1.05M116.7 220.2h1.05M119.9 219.6h1.05M121.1 220.5h1.05M130.5 219.7h1.05M132.7 219.5h1.05M135.4 219.6h1.05M95.7 221.5h1.05M109.5 221.3h1.05M120.1 220.9h1.05M128.5 220.8h1.05M129.3 220.9h1.05M131.1 220.7h1.05M136.2 221.3h1.05M140.9 221.5h1.05M141.2 220.8h1.05M96.2 222.0h1.05M97.7 221.9h1.05M99.0 221.8h1.05M100.2 221.8h1.05M117.7 222.3h1.05M128.2 221.8h1.05M130.4 221.6h1.05M134.7 221.9h1.05M140.1 222.4h1.05M143.7 221.8h1.05M97.0 223.1h1.05M98.3 222.8h1.05M98.9 223.2h1.05M116.1 222.8h1.05M126.6 223.0h1.05M127.0 223.1h1.05M130.6 223.1h1.05M137.7 222.5h1.05M97.6 224.2h1.05M100.2 223.5h1.05M101.3 223.5h1.05M102.2 223.8h1.05M103.3 223.6h1.05M125.7 223.7h1.05M126.4 224.2h1.05M129.5 224.3h1.05M101.2 224.9h1.05M102.6 224.7h1.05M116.3 225.1h1.05M120.1 225.2h1.05M123.6 225.4h1.05M125.1 225.1h1.05M126.0 225.4h1.05M127.4 224.9h1.05M128.1 225.1h1.05M93.4 226.2h1.05M102.3 225.8h1.05M104.8 225.7h1.05M106.6 226.3h1.05M109.2 226.4h1.05M112.2 226.4h1.05M116.0 226.4h1.05M122.1 225.9h1.05M123.0 226.4h1.05M126.1 225.5h1.05M131.2 226.5h1.05M136.0 225.6h1.05M106.9 226.8h1.05M109.7 227.1h1.05M110.9 226.9h1.05M111.4 227.1h1.05M112.0 226.8h1.05M114.9 227.3h1.05M119.0 226.7h1.05M121.9 227.1h1.05M135.3 227.2h1.05M115.4 227.5h1.05M118.6 227.5h1.05M123.4 227.6h1.05M128.2 228.2h1.05M133.0 227.9h1.05M141.2 227.7h1.05M108.0 228.6h1.05M109.7 230.4h1.05M111.7 229.6h1.05M115.8 229.6h1.05M116.5 230.4h1.05M123.4 229.9h1.05M107.0 230.7h1.05M118.5 231.0h1.05M123.1 231.0h1.05M129.4 231.2h1.05M96.7 232.0h1.05M108.3 232.3h1.05M118.6 232.4h1.05M124.5 231.7h1.05M125.9 232.4h1.05M103.1 233.2h1.05M111.7 232.8h1.05M113.3 232.5h1.05M128.0 232.6h1.05M115.0 233.9h1.05M115.0 234.9h1.05" stroke="#888888" stroke-width="1.05" stroke-opacity="1" fill="none"/>
<path d="M119.7 203.6h1.05M93.4 204.6h1.05M112.6 204.7h1.05M104.3 206.4h1.05M110.4 206.2h1.05M119.4 206.3h1.05M102.1 206.9h1.05M108.8 207.1h1.05M109.0 206.9h1.05M110.4 206.7h1.05M111.8 207.2h1.05M112.8 206.6h1.05M114.7 206.7h1.05M116.8 207.2h1.05M117.2 207.5h1.05M119.7 206.7h1.05M122.2 207.2h1.05M97.2 208.1h1.05M105.8 208.5h1.05M107.3 207.7h1.05M108.6 207.9h1.05M109.3 208.5h1.05M115.0 207.7h1.05M116.8 207.6h1.05M117.2 207.9h1.05M120.0 208.1h1.05M121.6 207.8h1.05M123.5 207.5h1.05M102.2 208.8h1.05M104.4 209.0h1.05M115.5 208.9h1.05M117.9 208.6h1.05M118.2 209.2h1.05M121.5 208.6h1.05M124.8 209.2h1.05M100.8 210.4h1.05M102.1 209.6h1.05M105.8 210.2h1.05M107.2 210.0h1.05M113.6 210.2h1.05M116.5 210.2h1.05M117.8 210.1h1.05M120.1 210.4h1.05M124.4 209.6h1.05M126.2 210.3h1.05M127.6 210.4h1.05M128.0 210.0h1.05M97.7 211.3h1.05M99.4 210.6h1.05M101.2 210.6h1.05M105.1 211.5h1.05M109.6 211.3h1.05M110.5 211.5h1.05M112.9 211.4h1.05M114.4 211.3h1.05M116.7 210.7h1.05M119.9 210.5h1.05M125.8 211.1h1.05M127.9 211.3h1.05M128.0 210.5h1.05M99.9 212.1h1.05M101.3 211.9h1.05M102.7 212.3h1.05M105.1 212.1h1.05M106.3 212.0h1.05M111.7 211.5h1.05M113.4 212.0h1.05M117.1 212.5h1.05M118.0 211.9h1.05M120.0 212.2h1.05M124.8 212.1h1.05M125.4 211.7h1.05M127.7 211.7h1.05M130.0 212.1h1.05M98.1 212.7h1.05M99.8 213.0h1.05M103.3 213.4h1.05M106.6 213.1h1.05M107.0 212.6h1.05M109.0 212.5h1.05M110.3 212.8h1.05M112.1 212.7h1.05M114.4 212.9h1.05M116.2 212.6h1.05M120.0 212.5h1.05M121.6 213.2h1.05M121.9 213.4h1.05M123.0 212.9h1.05M125.6 213.1h1.05M127.8 212.6h1.05M128.6 213.4h1.05M131.3 213.2h1.05M97.3 213.7h1.05M105.3 213.8h1.05M106.2 213.7h1.05M107.1 214.5h1.05M108.5 213.7h1.05M110.0 214.4h1.05M112.9 214.2h1.05M117.8 213.7h1.05M120.4 213.6h1.05M121.0 213.9h1.05M122.7 214.3h1.05M124.6 214.0h1.05M127.8 214.3h1.05M129.3 214.3h1.05M130.2 214.1h1.05M96.3 214.9h1.05M97.3 214.7h1.05M99.1 214.7h1.05M101.4 215.4h1.05M102.6 215.0h1.05M105.1 215.3h1.05M114.2 215.1h1.05M119.9 214.8h1.05M125.3 214.9h1.05M127.7 214.7h1.05M128.2 214.8h1.05M129.9 215.3h1.05M95.9 215.6h1.05M96.1 215.9h1.05M97.0 216.5h1.05M98.3 216.4h1.05M99.0 216.3h1.05M100.4 216.1h1.05M102.8 216.3h1.05M103.8 216.4h1.05M105.7 215.8h1.05M106.6 215.6h1.05M107.3 216.1h1.05M120.4 215.6h1.05M121.8 215.6h1.05M122.6 215.8h1.05M123.9 216.4h1.05M125.6 215.7h1.05M129.6 215.9h1.05M94.6 217.3h1.05M95.2 216.8h1.05M96.1 216.9h1.05M97.7 217.1h1.05M105.8 216.9h1.05M110.2 216.8h1.05M116.8 216.7h1.05M119.5 216.7h1.05M123.9 217.3h1.05M128.0 216.5h1.05M99.0 218.3h1.05M100.5 218.4h1.05M102.3 217.9h1.05M103.6 218.2h1.05M105.8 217.9h1.05M107.3 217.8h1.05M111.1 218.4h1.05M117.3 218.5h1.05M119.9 217.6h1.05M121.8 218.0h1.05M122.5 217.6h1.05M123.4 218.5h1.05M125.8 217.6h1.05M128.3 218.0h1.05M130.1 217.8h1.05M98.4 219.2h1.05M100.4 219.3h1.05M102.1 219.5h1.05M104.5 218.8h1.05M107.9 219.1h1.05M109.0 218.8h1.05M111.1 218.5h1.05M114.8 219.5h1.05M115.9 219.2h1.05M116.5 218.9h1.05M119.6 218.7h1.05M127.6 219.2h1.05M129.6 219.0h1.05M130.0 219.1h1.05M96.4 219.9h1.05M98.3 219.9h1.05M101.4 220.1h1.05M107.6 220.5h1.05M108.7 220.2h1.05M111.0 220.4h1.05M112.7 220.5h1.05M117.7 219.8h1.05M118.6 220.5h1.05M123.4 220.2h1.05M125.5 219.7h1.05M126.5 219.5h1.05M129.0 219.8h1.05M131.2 220.1h1.05M97.4 221.3h1.05M105.5 221.0h1.05M106.9 220.9h1.05M107.8 221.4h1.05M108.9 220.8h1.05M110.8 221.1h1.05M115.7 221.1h1.05M116.0 221.1h1.05M118.9 220.9h1.05M123.7 221.3h1.05M127.5 221.5h1.05M130.1 221.3h1.05M101.9 221.9h1.05M103.5 221.9h1.05M104.5 221.8h1.05M106.5 222.3h1.05M108.5 222.3h1.05M113.9 221.9h1.05M116.6 222.2h1.05M119.4 222.4h1.05M123.9 222.1h1.05M125.2 222.5h1.05M126.3 222.2h1.05M127.4 221.7h1.05M100.1 223.1h1.05M105.2 223.2h1.05M106.9 223.2h1.05M109.8 222.7h1.05M113.1 223.5h1.05M114.5 222.8h1.05M118.3 223.4h1.05M121.3 223.1h1.05M123.4 223.3h1.05M129.5 222.9h1.05M99.9 224.4h1.05M105.7 223.7h1.05M108.2 224.4h1.05M109.0 224.4h1.05M110.7 224.1h1.05M111.4 224.0h1.05M112.3 223.6h1.05M114.0 224.0h1.05M115.8 224.5h1.05M116.0 223.7h1.05M117.8 223.8h1.05M120.6 224.4h1.05M122.4 223.8h1.05M123.1 223.6h1.05M124.7 223.6h1.05M127.6 224.1h1.05M128.6 223.7h1.05M100.1 224.7h1.05M103.7 224.7h1.05M105.6 224.9h1.05M107.6 225.2h1.05M113.8 225.0h1.05M114.9 225.2h1.05M118.4 225.5h1.05M121.0 225.5h1.05M122.7 225.0h1.05M124.2 224.7h1.05M103.5 225.5h1.05M105.9 225.6h1.05M107.6 225.5h1.05M108.4 225.6h1.05M110.2 225.8h1.05M111.8 226.0h1.05M114.7 225.7h1.05M115.7 225.8h1.05M118.2 226.5h1.05M121.8 225.9h1.05M124.1 225.6h1.05M105.9 226.6h1.05M106.5 226.7h1.05M115.0 227.1h1.05M118.7 226.9h1.05M111.0 230.6h1.05" stroke="#acacac" stroke-width="1.05" stroke-opacity="1" fill="none"/>
<path d="M113.5 205.7h1.05M118.8 207.2h1.05M106.8 207.9h1.05M110.0 208.1h1.05M111.2 208.4h1.05M112.4 207.7h1.05M114.0 207.9h1.05M118.5 208.1h1.05M122.1 208.0h1.05M103.4 209.2h1.05M105.0 208.7h1.05M106.5 208.7h1.05M107.8 208.8h1.05M108.5 208.6h1.05M109.1 208.6h1.05M110.8 208.7h1.05M111.0 208.9h1.05M113.7 208.9h1.05M114.8 208.6h1.05M116.3 209.1h1.05M119.8 208.7h1.05M120.5 209.2h1.05M122.8 209.3h1.05M123.5 208.9h1.05M101.5 209.8h1.05M103.1 209.5h1.05M104.0 210.2h1.05M106.2 209.8h1.05M108.7 210.3h1.05M111.3 209.7h1.05M112.0 210.3h1.05M114.7 210.1h1.05M115.0 209.9h1.05M118.4 210.0h1.05M119.6 210.1h1.05M122.8 210.2h1.05M123.6 210.0h1.05M102.8 211.0h1.05M103.6 210.8h1.05M104.8 211.0h1.05M106.1 210.9h1.05M107.5 211.4h1.05M111.7 211.0h1.05M112.3 210.5h1.05M115.3 211.3h1.05M117.6 210.9h1.05M118.1 211.3h1.05M118.9 211.2h1.05M121.3 210.7h1.05M122.1 211.0h1.05M123.3 211.5h1.05M126.4 210.7h1.05M100.6 212.4h1.05M103.1 212.0h1.05M104.2 211.7h1.05M107.3 212.5h1.05M108.4 211.7h1.05M109.0 212.4h1.05M110.5 212.1h1.05M114.6 212.3h1.05M114.9 211.5h1.05M119.7 211.9h1.05M121.2 211.9h1.05M123.3 212.3h1.05M100.2 212.5h1.05M101.4 213.0h1.05M102.4 213.4h1.05M104.5 213.4h1.05M105.0 212.6h1.05M108.7 212.8h1.05M119.1 212.8h1.05M126.5 213.0h1.05M130.3 212.7h1.05M98.6 214.4h1.05M99.8 213.9h1.05M100.2 214.3h1.05M101.3 213.9h1.05M102.6 214.2h1.05M104.6 214.3h1.05M109.3 214.4h1.05M114.5 214.2h1.05M119.2 213.9h1.05M123.0 214.1h1.05M125.1 213.8h1.05M126.0 213.9h1.05M98.8 214.7h1.05M103.3 215.3h1.05M106.4 214.9h1.05M121.9 215.5h1.05M122.2 214.7h1.05M123.9 215.2h1.05M124.4 214.6h1.05M126.6 215.5h1.05M101.9 215.7h1.05M104.2 216.0h1.05M122.9 216.1h1.05M126.0 216.0h1.05M128.5 216.4h1.05M99.4 217.1h1.05M100.3 217.0h1.05M101.9 217.3h1.05M102.8 217.1h1.05M103.5 217.0h1.05M103.9 217.2h1.05M106.7 217.0h1.05M122.5 217.4h1.05M124.5 217.1h1.05M125.5 216.9h1.05M127.8 217.0h1.05M129.6 217.4h1.05M97.6 218.3h1.05M98.9 217.9h1.05M101.9 218.0h1.05M118.7 218.2h1.05M120.9 218.3h1.05M124.6 217.7h1.05M125.9 218.2h1.05M127.4 217.7h1.05M129.9 217.7h1.05M99.8 219.0h1.05M103.2 219.5h1.05M105.6 219.3h1.05M106.5 218.5h1.05M120.0 219.2h1.05M123.2 219.1h1.05M124.8 218.8h1.05M125.1 219.3h1.05M128.1 219.2h1.05M99.2 220.3h1.05M100.9 219.9h1.05M104.4 219.6h1.05M105.0 220.4h1.05M106.5 219.6h1.05M119.3 220.1h1.05M122.0 220.2h1.05M124.0 219.9h1.05M127.5 220.0h1.05M128.5 219.8h1.05M98.7 221.0h1.05M99.8 221.2h1.05M100.1 221.0h1.05M101.9 221.4h1.05M102.2 220.9h1.05M102.9 220.5h1.05M104.8 221.2h1.05M111.7 221.1h1.05M113.6 221.3h1.05M114.8 221.1h1.05M117.9 221.2h1.05M118.3 221.4h1.05M121.2 220.9h1.05M122.8 220.7h1.05M124.8 220.5h1.05M125.2 220.8h1.05M126.9 220.8h1.05M101.1 222.1h1.05M105.9 221.7h1.05M107.4 222.5h1.05M109.4 221.7h1.05M110.6 222.0h1.05M110.9 221.8h1.05M112.6 221.9h1.05M114.4 221.9h1.05M115.2 221.5h1.05M118.2 221.9h1.05M119.9 221.7h1.05M121.5 221.6h1.05M122.5 222.4h1.05M124.2 221.8h1.05M101.2 222.8h1.05M102.7 223.3h1.05M103.9 223.1h1.05M104.7 222.8h1.05M107.8 222.8h1.05M108.6 223.2h1.05M110.6 223.4h1.05M111.7 222.6h1.05M112.4 223.2h1.05M115.8 223.3h1.05M117.1 223.1h1.05M119.3 222.9h1.05M120.8 222.8h1.05M122.3 223.1h1.05M124.8 222.8h1.05M125.1 222.9h1.05M104.7 224.4h1.05M106.2 223.7h1.05M107.6 223.6h1.05M113.5 224.2h1.05M118.9 223.5h1.05M118.9 224.5h1.05M121.3 224.0h1.05M104.3 225.5h1.05M106.0 225.0h1.05M108.5 224.8h1.05M109.5 224.9h1.05M110.7 225.2h1.05M111.1 225.2h1.05M112.5 225.3h1.05M115.4 224.8h1.05M117.0 224.9h1.05M119.8 224.8h1.05M113.1 225.8h1.05M117.0 226.0h1.05M113.1 226.8h1.05" stroke="#cdcdcd" stroke-width="1.05" stroke-opacity="1" fill="none"/>
<path d="M176.6 232.2h1.0M174.9 217.5h1.0M169.7 211.2h1.0M155.5 222.2h1.0M164.2 207.9h1.0M168.4 217.2h1.0M169.8 215.7h1.0M166.9 215.8h1.0M182.4 203.8h1.0M168.4 224.9h1.0M163.1 205.4h1.0M161.5 218.3h1.0M171.8 215.8h1.0M174.3 200.3h1.0M174.9 223.5h1.0M174.5 217.4h1.0M158.7 233.3h1.0M185.0 233.3h1.0M150.0 209.9h1.0M176.9 217.2h1.0M176.7 225.3h1.0M154.8 215.6h1.0M159.2 233.2h1.0M180.3 218.4h1.0M180.6 210.8h1.0M157.4 215.1h1.0M156.6 218.9h1.0M174.4 227.0h1.0M186.0 212.4h1.0M198.5 217.7h1.0M167.7 223.4h1.0M172.5 214.3h1.0M153.3 218.2h1.0M163.1 225.4h1.0M183.8 212.4h1.0M171.1 204.6h1.0M155.6 209.3h1.0M182.5 213.6h1.0M163.6 221.6h1.0M158.2 213.4h1.0M154.1 210.2h1.0M163.3 213.2h1.0M189.5 220.0h1.0M159.0 213.3h1.0M196.1 227.0h1.0M175.7 222.4h1.0M183.5 219.9h1.0M166.4 211.5h1.0M180.9 220.6h1.0M150.0 225.9h1.0M182.8 222.1h1.0M179.7 213.6h1.0M164.5 213.8h1.0M153.7 214.2h1.0M155.4 224.6h1.0M175.5 221.5h1.0M153.3 202.5h1.0M181.3 211.9h1.0M172.4 228.6h1.0M152.3 217.4h1.0M159.9 214.8h1.0M151.6 216.1h1.0M165.5 205.3h1.0M171.9 208.2h1.0M158.5 216.2h1.0M178.5 199.4h1.0M166.5 223.3h1.0M156.7 223.1h1.0M156.6 207.4h1.0M163.2 208.5h1.0M164.5 217.7h1.0M171.8 216.7h1.0M184.6 209.2h1.0M162.6 215.8h1.0M178.0 207.1h1.0M178.3 202.4h1.0M158.0 223.7h1.0M167.2 205.0h1.0M170.0 217.0h1.0M185.3 218.1h1.0M175.3 228.5h1.0M163.1 229.9h1.0M171.8 213.8h1.0M183.8 226.6h1.0M171.4 210.6h1.0M175.4 207.9h1.0M148.9 208.5h1.0M170.6 228.9h1.0M160.4 212.3h1.0M171.6 211.2h1.0M177.1 199.3h1.0M169.9 217.3h1.0M164.1 221.2h1.0M160.7 209.8h1.0M181.0 207.2h1.0M171.5 208.0h1.0M173.2 199.9h1.0M159.1 206.3h1.0M171.1 213.3h1.0M179.0 204.3h1.0M159.5 223.5h1.0M173.5 208.2h1.0M168.5 212.3h1.0M185.7 215.5h1.0M166.4 208.8h1.0M164.9 219.6h1.0M155.7 203.4h1.0M157.7 215.1h1.0M172.6 223.8h1.0M183.8 225.4h1.0M158.7 202.4h1.0M170.8 234.8h1.0M174.0 224.6h1.0M154.8 198.5h1.0M152.1 225.0h1.0M163.3 219.1h1.0M174.4 221.0h1.0M173.6 230.5h1.0M159.2 215.2h1.0M172.3 222.3h1.0M161.5 212.3h1.0M161.7 230.6h1.0M179.0 222.3h1.0M166.2 228.2h1.0M176.5 220.8h1.0M174.1 204.7h1.0M160.2 216.3h1.0M157.4 216.0h1.0M169.3 219.3h1.0M165.6 208.9h1.0M188.7 211.2h1.0M172.2 211.0h1.0M168.3 205.5h1.0M150.6 218.8h1.0M161.0 210.0h1.0M175.5 228.7h1.0M174.8 217.4h1.0M173.2 227.0h1.0M158.3 227.1h1.0M165.7 209.3h1.0M159.2 212.5h1.0M164.8 213.3h1.0M180.6 220.5h1.0M178.1 211.7h1.0M188.4 225.6h1.0M172.6 221.5h1.0M163.9 205.8h1.0M181.9 214.6h1.0M171.7 211.7h1.0M171.2 207.2h1.0" stroke="#6a6a6a" stroke-width="1.0" stroke-opacity="0.95" fill="none"/>
</g>
<path d="M92.7 168.8H233V262.6" stroke="#4a4a4a" stroke-width="1" fill="none"/>
<path d="M147 168.8V262.6M92.7 236.2H233" stroke="#4a4a4a" stroke-width="1" fill="none"/>
<path d="M92.7 168.8V262.6H233" stroke="#111" stroke-width="1.3" fill="none"/>
<rect x="147" y="193.8" width="54.19999999999999" height="42.39999999999998" stroke="#111" stroke-width="1.3" fill="none"/>
<path d="M90.7 205.2h2M90.7 198.5h2M90.7 193.8h2M90.7 190.1h2M90.7 187.2h2M90.7 184.6h2M90.7 182.5h2M90.7 180.5h2M90.7 236.2h2M90.7 231.5h2M90.7 227.8h2M90.7 224.9h2M90.7 222.3h2M90.7 220.2h2M90.7 218.2h2M89.5 178.8h3.2M89.5 216.5h3.2" stroke="#222" stroke-width="0.8" fill="none"/>
<text class="t" x="80.9" y="184.2">10</text><text class="s" x="86.1" y="180.9">5</text>
<text class="t" x="80.9" y="221.9">10</text><text class="s" x="86.1" y="218.6">4</text>
<path d="M93.1 262.6v2.6M102.2 262.6v2.6M114.2 262.6v2.6M167.5 262.6v2.6M197.8 262.6v2.6M222.5 262.6v2.6M130.2 262.6v1.7M139.6 262.6v1.7M146.3 262.6v1.7M151.5 262.6v1.7M155.7 262.6v1.7M159.2 262.6v1.7M162.3 262.6v1.7M165.1 262.6v1.7M176.6 262.6v1.7M182.0 262.6v1.7M185.7 262.6v1.7M188.7 262.6v1.7M191.1 262.6v1.7M193.1 262.6v1.7M194.9 262.6v1.7M196.4 262.6v1.7M205.2 262.6v1.7M209.6 262.6v1.7M212.7 262.6v1.7M215.1 262.6v1.7M217.0 262.6v1.7M218.7 262.6v1.7M220.1 262.6v1.7M221.4 262.6v1.7M230.0 262.6v1.7" stroke="#222" stroke-width="0.8" fill="none"/>
<path d="M93.7 263.70000000000005h20" stroke="#333" stroke-width="1" stroke-dasharray="1.2 0.7"/>
<path d="M100.7 264.0h5" stroke="#111" stroke-width="1.6"/>
<text class="t" x="84.2" y="274.6">-10</text><text class="s" x="92.5" y="271.0">2</text>
<text class="t" x="95.7" y="274.6">-10</text><text class="s" x="104.0" y="271.0">1</text>
<text class="t" x="109.9" y="274.6">10</text><text class="s" x="116.2" y="271.0">2</text>
<text class="t" x="162.0" y="274.6">10</text><text class="s" x="168.3" y="271.0">3</text>
<text class="t" x="193.1" y="274.6">10</text><text class="s" x="199.4" y="271.0">4</text>
<text class="t" x="218.0" y="274.6">10</text><text class="s" x="224.3" y="271.0">5</text>
<text class="b" font-size="9" x="205.5" y="216.3">0.88%</text>
<g filter="url(#bl)">
<path d="M279.3 202.3h1.05M292.7 202.4h1.05M332.2 201.6h1.05M275.7 203.1h1.05M280.2 203.0h1.05M291.0 203.1h1.05M370.8 203.4h1.05M272.8 204.4h1.05M317.6 204.2h1.05M276.5 205.3h1.05M289.2 204.9h1.05M305.3 204.7h1.05M346.0 204.6h1.05M282.3 206.5h1.05M290.5 206.4h1.05M292.6 206.3h1.05M293.8 205.5h1.05M296.5 206.0h1.05M299.2 206.3h1.05M301.7 206.1h1.05M303.6 205.7h1.05M327.5 205.8h1.05M332.1 206.2h1.05M271.5 206.9h1.05M278.1 207.0h1.05M285.7 207.4h1.05M289.2 206.6h1.05M292.6 206.9h1.05M293.2 206.8h1.05M296.4 207.1h1.05M304.0 206.7h1.05M305.5 206.7h1.05M306.8 206.7h1.05M313.4 206.9h1.05M318.3 207.1h1.05M326.9 206.8h1.05M361.3 206.7h1.05M271.5 207.6h1.05M273.0 207.8h1.05M275.2 208.4h1.05M277.9 208.4h1.05M282.0 208.0h1.05M287.1 208.3h1.05M290.1 207.7h1.05M292.8 208.0h1.05M294.5 208.2h1.05M295.5 207.6h1.05M300.2 207.9h1.05M312.6 207.8h1.05M342.8 208.2h1.05M271.7 209.2h1.05M274.5 209.5h1.05M287.0 209.0h1.05M289.9 208.6h1.05M291.8 208.6h1.05M295.7 208.7h1.05M297.1 208.8h1.05M299.5 208.8h1.05M301.6 209.2h1.05M303.1 208.8h1.05M306.2 209.4h1.05M329.1 209.3h1.05M330.9 209.5h1.05M271.5 210.2h1.05M285.2 209.7h1.05M296.6 210.1h1.05M297.5 210.0h1.05M301.8 210.4h1.05M306.5 210.4h1.05M314.3 210.1h1.05M321.4 209.7h1.05M330.5 209.6h1.05M341.1 210.3h1.05M343.0 209.5h1.05M354.0 210.4h1.05M277.3 211.2h1.05M278.3 210.9h1.05M282.9 211.3h1.05M284.1 211.5h1.05M286.7 210.9h1.05M309.2 211.1h1.05M311.4 210.6h1.05M318.9 211.2h1.05M340.1 211.0h1.05M345.8 210.9h1.05M277.8 211.9h1.05M287.7 212.1h1.05M292.4 211.9h1.05M298.7 212.2h1.05M316.0 212.2h1.05M317.3 211.7h1.05M320.3 212.3h1.05M322.9 211.9h1.05M334.2 212.4h1.05M335.3 211.9h1.05M336.7 212.0h1.05M352.5 212.0h1.05M276.3 213.0h1.05M284.1 213.3h1.05M293.2 213.0h1.05M294.2 213.4h1.05M312.1 212.9h1.05M325.0 213.1h1.05M329.2 212.8h1.05M330.9 212.9h1.05M338.1 212.9h1.05M361.4 213.4h1.05M274.1 213.6h1.05M283.8 214.5h1.05M317.5 214.4h1.05M320.1 213.8h1.05M321.3 214.5h1.05M333.2 213.8h1.05M336.2 213.7h1.05M337.7 214.1h1.05M276.6 214.7h1.05M296.2 214.6h1.05M308.8 215.3h1.05M318.8 214.9h1.05M320.8 214.6h1.05M331.4 214.8h1.05M335.5 214.5h1.05M278.5 216.4h1.05M309.6 216.3h1.05M319.7 215.6h1.05M323.4 216.2h1.05M327.2 216.0h1.05M329.2 216.0h1.05M334.9 216.1h1.05M365.8 215.8h1.05M367.1 215.7h1.05M279.5 216.7h1.05M281.2 216.8h1.05M318.2 217.3h1.05M321.7 217.1h1.05M328.2 216.6h1.05M330.3 217.0h1.05M331.8 217.1h1.05M337.7 217.1h1.05M347.7 216.9h1.05M272.9 217.6h1.05M275.7 218.0h1.05M316.2 217.8h1.05M322.1 218.1h1.05M323.1 217.7h1.05M325.6 218.3h1.05M327.8 218.2h1.05M330.6 218.5h1.05M335.1 217.8h1.05M365.3 217.7h1.05M274.0 219.1h1.05M327.0 219.5h1.05M332.2 218.7h1.05M319.2 219.7h1.05M321.2 220.2h1.05M340.5 219.5h1.05M349.2 219.9h1.05M276.0 220.9h1.05M319.4 221.0h1.05M334.4 221.1h1.05M337.6 220.8h1.05M339.7 221.1h1.05M347.1 221.4h1.05M351.2 220.9h1.05M357.6 220.5h1.05M377.3 220.7h1.05M319.0 221.8h1.05M324.7 222.4h1.05M327.1 221.6h1.05M329.8 222.1h1.05M330.7 221.8h1.05M333.6 222.1h1.05M338.6 222.0h1.05M350.7 222.1h1.05M316.4 222.8h1.05M320.4 222.7h1.05M323.8 222.5h1.05M328.2 223.2h1.05M335.8 223.3h1.05M337.2 222.6h1.05M339.3 222.9h1.05M341.3 223.0h1.05M344.7 222.6h1.05M318.0 224.0h1.05M320.7 223.9h1.05M326.1 224.4h1.05M330.7 224.2h1.05M333.6 223.9h1.05M350.1 224.3h1.05M360.8 224.4h1.05M368.5 224.4h1.05M377.3 223.9h1.05M317.9 225.0h1.05M329.8 225.4h1.05M355.7 225.3h1.05M367.7 224.9h1.05M310.5 226.1h1.05M310.8 226.2h1.05M318.1 225.5h1.05M323.9 225.7h1.05M328.4 225.8h1.05M330.2 226.4h1.05M334.2 225.9h1.05M335.0 225.9h1.05M336.0 226.2h1.05M338.1 225.7h1.05M348.6 226.4h1.05M363.6 225.9h1.05M363.9 226.5h1.05M271.2 227.2h1.05M319.6 227.5h1.05M322.1 226.9h1.05M324.9 226.9h1.05M326.5 227.5h1.05M327.5 227.2h1.05M335.1 226.6h1.05M356.5 226.9h1.05M272.9 227.7h1.05M310.6 228.0h1.05M325.2 227.6h1.05M329.0 227.8h1.05M338.2 228.2h1.05M277.4 228.8h1.05M318.7 228.8h1.05M330.8 228.7h1.05M334.3 228.8h1.05M344.0 228.6h1.05M345.8 228.8h1.05M364.3 228.7h1.05M318.5 229.9h1.05M324.1 230.4h1.05M328.8 230.3h1.05M342.1 230.3h1.05M272.2 230.7h1.05M272.9 231.4h1.05M285.9 231.5h1.05M302.3 231.1h1.05M311.8 231.5h1.05M322.7 231.1h1.05M328.8 230.6h1.05M330.4 230.9h1.05M343.1 231.5h1.05M348.8 231.1h1.05M353.8 231.3h1.05M354.9 231.1h1.05M296.2 232.1h1.05M317.4 231.9h1.05M319.5 231.7h1.05M322.5 232.1h1.05M327.7 232.4h1.05M334.2 231.6h1.05M347.0 232.3h1.05M272.9 233.0h1.05M276.0 233.0h1.05M277.5 233.2h1.05M278.0 232.6h1.05M279.7 233.2h1.05M280.9 233.2h1.05M292.4 232.6h1.05M312.4 233.2h1.05M318.6 232.8h1.05M328.1 233.1h1.05M340.5 233.2h1.05M274.2 234.2h1.05M275.5 233.8h1.05M285.4 233.8h1.05M285.9 234.4h1.05M300.1 234.5h1.05M300.9 233.7h1.05M303.5 234.1h1.05M317.4 233.5h1.05M319.3 233.7h1.05M331.5 234.5h1.05M333.6 234.2h1.05M340.0 233.6h1.05M290.9 235.1h1.05M294.5 235.2h1.05M302.2 235.5h1.05M303.3 234.7h1.05M309.4 235.4h1.05M329.4 235.1h1.05M347.0 235.2h1.05M363.4 234.9h1.05" stroke="#404040" stroke-width="1.05" stroke-opacity="1" fill="none"/>
<path d="M335.1 195.1h1.05M289.7 199.3h1.05M332.2 198.7h1.05M275.2 199.6h1.05M284.9 201.0h1.05M351.9 201.2h1.05M280.5 201.6h1.05M288.5 202.0h1.05M283.4 203.4h1.05M290.5 202.9h1.05M304.5 202.7h1.05M332.1 203.3h1.05M271.0 203.6h1.05M274.9 204.2h1.05M281.9 203.8h1.05M283.9 203.9h1.05M291.7 204.3h1.05M294.5 204.1h1.05M299.8 203.9h1.05M300.0 203.6h1.05M341.6 203.9h1.05M356.2 204.0h1.05M271.4 204.7h1.05M273.6 205.1h1.05M283.1 205.2h1.05M286.7 205.1h1.05M288.2 204.6h1.05M291.6 205.1h1.05M294.8 204.9h1.05M303.1 205.0h1.05M356.8 204.7h1.05M272.0 205.6h1.05M272.9 206.2h1.05M274.2 205.7h1.05M276.3 206.1h1.05M276.9 206.5h1.05M278.7 205.6h1.05M284.1 205.8h1.05M288.3 206.0h1.05M293.7 205.7h1.05M298.2 205.9h1.05M310.2 205.7h1.05M333.7 206.4h1.05M337.2 205.7h1.05M273.9 207.1h1.05M276.7 207.2h1.05M277.2 207.3h1.05M279.8 207.0h1.05M286.2 206.6h1.05M291.7 206.8h1.05M295.7 207.1h1.05M297.0 207.4h1.05M299.3 206.9h1.05M299.8 207.1h1.05M301.8 207.4h1.05M306.9 207.1h1.05M316.3 206.6h1.05M323.2 206.6h1.05M337.1 206.5h1.05M357.6 207.4h1.05M274.0 207.6h1.05M276.7 208.3h1.05M279.4 207.5h1.05M283.4 208.2h1.05M285.8 208.4h1.05M286.7 207.6h1.05M299.5 208.2h1.05M301.7 208.1h1.05M303.2 207.7h1.05M303.9 208.3h1.05M304.8 208.1h1.05M309.0 207.9h1.05M310.5 208.3h1.05M314.1 208.5h1.05M314.8 208.1h1.05M326.6 207.8h1.05M335.3 208.5h1.05M356.7 208.4h1.05M273.0 209.2h1.05M277.5 209.3h1.05M281.9 209.3h1.05M283.0 208.8h1.05M284.2 209.1h1.05M285.8 209.0h1.05M293.5 209.4h1.05M296.4 209.0h1.05M300.0 209.3h1.05M309.2 208.8h1.05M314.6 209.5h1.05M317.6 209.4h1.05M317.9 209.5h1.05M320.2 209.0h1.05M334.7 209.0h1.05M341.8 209.3h1.05M349.6 209.3h1.05M357.2 209.3h1.05M273.3 210.5h1.05M275.9 209.7h1.05M277.9 210.1h1.05M281.4 210.4h1.05M282.6 209.9h1.05M284.1 209.8h1.05M286.0 209.8h1.05M288.4 209.6h1.05M289.3 209.6h1.05M290.6 209.6h1.05M291.4 209.9h1.05M294.4 209.6h1.05M295.7 209.8h1.05M299.6 209.5h1.05M307.0 209.8h1.05M308.0 210.2h1.05M313.5 210.0h1.05M314.8 210.4h1.05M316.8 210.3h1.05M317.1 210.3h1.05M271.6 211.2h1.05M274.4 211.3h1.05M275.2 211.3h1.05M275.9 211.2h1.05M279.4 210.8h1.05M280.9 210.8h1.05M288.0 210.9h1.05M289.7 211.5h1.05M298.7 211.1h1.05M300.2 210.6h1.05M302.2 211.1h1.05M304.8 211.4h1.05M304.9 211.3h1.05M307.2 211.0h1.05M313.3 210.6h1.05M313.9 210.6h1.05M315.7 211.2h1.05M317.2 211.4h1.05M318.5 210.7h1.05M323.3 211.2h1.05M323.9 210.8h1.05M358.4 210.7h1.05M364.7 211.1h1.05M365.5 211.3h1.05M275.6 212.4h1.05M280.9 211.9h1.05M286.1 212.4h1.05M288.3 211.6h1.05M290.7 212.3h1.05M293.1 211.7h1.05M300.9 212.1h1.05M302.1 212.1h1.05M303.0 211.8h1.05M308.4 212.0h1.05M309.9 212.4h1.05M311.7 211.7h1.05M314.8 212.1h1.05M319.7 211.8h1.05M322.7 212.3h1.05M324.5 211.8h1.05M325.7 211.7h1.05M329.6 212.2h1.05M346.6 212.2h1.05M366.4 211.6h1.05M370.0 212.4h1.05M271.0 213.2h1.05M274.4 213.2h1.05M277.5 213.1h1.05M281.4 212.9h1.05M291.8 213.0h1.05M294.9 212.9h1.05M295.9 213.1h1.05M300.5 212.9h1.05M302.6 213.0h1.05M304.5 213.4h1.05M304.9 212.9h1.05M311.1 212.6h1.05M314.5 212.8h1.05M315.4 212.7h1.05M316.2 212.9h1.05M316.9 212.8h1.05M318.3 213.2h1.05M320.0 213.5h1.05M321.7 213.4h1.05M326.7 212.8h1.05M326.9 213.1h1.05M341.9 213.0h1.05M344.3 212.5h1.05M346.9 212.9h1.05M273.5 213.9h1.05M275.0 213.9h1.05M276.4 214.3h1.05M277.5 214.4h1.05M284.0 213.9h1.05M286.7 214.3h1.05M291.7 214.4h1.05M293.2 213.6h1.05M296.1 214.4h1.05M303.7 213.6h1.05M304.0 214.2h1.05M306.3 214.0h1.05M308.7 213.7h1.05M312.6 213.9h1.05M316.6 214.4h1.05M318.2 214.3h1.05M319.2 214.0h1.05M327.5 213.5h1.05M347.1 213.6h1.05M350.2 214.3h1.05M273.0 214.8h1.05M273.9 215.0h1.05M278.0 214.5h1.05M279.0 215.4h1.05M280.3 214.7h1.05M281.8 215.0h1.05M282.8 214.6h1.05M297.0 215.2h1.05M305.4 215.4h1.05M306.4 215.0h1.05M309.1 215.5h1.05M310.1 214.9h1.05M311.4 214.6h1.05M313.0 214.8h1.05M314.9 214.8h1.05M318.0 215.5h1.05M320.9 214.9h1.05M322.0 215.0h1.05M325.2 215.5h1.05M329.6 215.1h1.05M333.1 215.4h1.05M336.7 215.2h1.05M339.4 215.1h1.05M340.2 215.1h1.05M341.8 214.7h1.05M347.1 215.5h1.05M352.2 215.1h1.05M356.9 215.4h1.05M270.8 216.4h1.05M274.3 215.7h1.05M275.5 216.5h1.05M276.0 216.4h1.05M291.8 215.9h1.05M295.8 215.7h1.05M306.8 216.4h1.05M312.2 216.4h1.05M325.6 216.1h1.05M326.5 216.3h1.05M331.1 216.3h1.05M336.2 215.9h1.05M338.7 215.7h1.05M348.7 216.2h1.05M285.8 217.0h1.05M286.0 217.3h1.05M289.3 217.1h1.05M310.0 217.3h1.05M311.3 216.7h1.05M313.1 216.9h1.05M315.8 216.7h1.05M317.2 216.5h1.05M319.8 217.1h1.05M325.5 217.0h1.05M326.0 216.8h1.05M336.7 216.7h1.05M338.4 217.5h1.05M339.2 216.9h1.05M352.8 217.0h1.05M358.1 216.9h1.05M367.8 217.5h1.05M375.6 216.7h1.05M270.8 217.7h1.05M280.7 217.9h1.05M285.6 218.0h1.05M286.0 217.6h1.05M309.6 218.0h1.05M311.5 217.6h1.05M312.9 217.6h1.05M318.3 217.6h1.05M324.7 217.7h1.05M331.9 218.0h1.05M341.1 218.1h1.05M343.5 217.7h1.05M350.4 217.6h1.05M351.1 217.7h1.05M362.2 217.7h1.05M374.0 218.5h1.05M273.2 219.0h1.05M275.8 219.1h1.05M280.1 219.4h1.05M285.3 219.1h1.05M308.5 218.6h1.05M316.2 219.1h1.05M317.6 219.4h1.05M319.4 219.1h1.05M320.6 219.1h1.05M321.5 218.9h1.05M323.2 219.2h1.05M325.1 218.7h1.05M328.9 219.2h1.05M335.8 218.6h1.05M336.1 219.2h1.05M339.5 219.4h1.05M340.0 218.8h1.05M358.5 219.2h1.05M291.6 220.0h1.05M312.5 220.4h1.05M314.0 219.6h1.05M321.9 219.9h1.05M323.0 220.2h1.05M325.5 220.3h1.05M326.2 219.5h1.05M328.7 220.2h1.05M330.0 219.9h1.05M330.9 219.9h1.05M336.9 219.8h1.05M339.1 219.6h1.05M346.2 219.5h1.05M358.4 219.5h1.05M359.9 219.9h1.05M363.5 220.2h1.05M365.2 220.4h1.05M272.4 220.8h1.05M272.8 220.9h1.05M295.8 220.5h1.05M313.1 221.0h1.05M318.0 221.1h1.05M324.0 220.7h1.05M325.8 220.5h1.05M326.8 220.6h1.05M326.9 221.4h1.05M330.7 221.2h1.05M332.2 221.4h1.05M333.4 220.7h1.05M335.5 220.7h1.05M338.4 221.3h1.05M348.4 220.6h1.05M271.8 221.5h1.05M272.6 221.7h1.05M273.0 221.6h1.05M275.7 221.9h1.05M300.7 221.8h1.05M318.5 221.9h1.05M325.0 221.8h1.05M327.9 221.7h1.05M335.4 222.3h1.05M354.9 221.6h1.05M279.1 222.8h1.05M292.8 222.6h1.05M311.8 222.7h1.05M313.9 222.8h1.05M315.2 222.9h1.05M317.9 223.4h1.05M321.8 223.0h1.05M326.0 223.2h1.05M326.8 222.6h1.05M333.0 223.1h1.05M334.2 222.9h1.05M340.3 222.9h1.05M345.0 222.6h1.05M349.2 222.8h1.05M351.3 222.7h1.05M354.5 222.9h1.05M368.3 222.6h1.05M374.0 223.0h1.05M271.5 224.1h1.05M272.7 223.7h1.05M273.1 223.5h1.05M276.2 223.8h1.05M277.3 223.6h1.05M281.7 223.9h1.05M294.2 223.7h1.05M305.2 223.7h1.05M319.6 224.2h1.05M321.8 224.2h1.05M323.7 224.2h1.05M324.2 224.3h1.05M329.5 224.3h1.05M340.1 224.4h1.05M341.3 224.1h1.05M344.5 224.3h1.05M346.4 224.4h1.05M355.1 224.4h1.05M366.1 224.3h1.05M367.4 224.4h1.05M270.8 224.7h1.05M274.9 225.0h1.05M282.2 225.4h1.05M307.2 224.6h1.05M314.9 225.0h1.05M316.3 224.5h1.05M318.9 225.3h1.05M320.8 225.2h1.05M322.5 224.9h1.05M323.1 225.2h1.05M324.4 225.3h1.05M325.5 225.2h1.05M327.1 225.1h1.05M328.4 224.8h1.05M334.7 225.1h1.05M335.5 225.3h1.05M340.9 224.7h1.05M344.4 224.8h1.05M346.7 224.9h1.05M365.8 224.8h1.05M374.8 224.9h1.05M273.6 226.3h1.05M274.5 225.6h1.05M275.4 226.4h1.05M278.9 225.8h1.05M283.1 226.0h1.05M320.7 226.4h1.05M320.8 226.1h1.05M322.0 225.8h1.05M323.8 225.8h1.05M333.3 226.5h1.05M339.0 225.9h1.05M345.7 226.1h1.05M358.7 225.9h1.05M367.6 226.2h1.05M272.9 226.6h1.05M275.1 227.5h1.05M276.4 226.8h1.05M277.2 226.9h1.05M307.2 227.4h1.05M308.2 227.4h1.05M311.8 227.1h1.05M316.0 226.6h1.05M318.2 227.3h1.05M319.9 227.1h1.05M329.9 226.9h1.05M331.2 226.7h1.05M333.7 227.5h1.05M338.9 227.0h1.05M340.4 226.8h1.05M342.3 226.8h1.05M343.6 226.9h1.05M346.2 226.7h1.05M351.4 226.8h1.05M361.7 227.4h1.05M272.6 228.0h1.05M277.4 227.8h1.05M284.8 228.5h1.05M311.4 228.4h1.05M316.8 228.2h1.05M320.2 228.4h1.05M321.6 227.8h1.05M322.9 228.0h1.05M328.5 227.9h1.05M330.7 228.2h1.05M332.3 228.4h1.05M333.9 228.3h1.05M336.2 228.2h1.05M344.7 228.0h1.05M345.3 228.1h1.05M347.2 228.0h1.05M357.2 227.7h1.05M357.9 227.6h1.05M359.3 228.0h1.05M363.3 227.9h1.05M371.5 227.8h1.05M275.1 229.3h1.05M276.0 228.7h1.05M277.8 229.2h1.05M291.0 229.3h1.05M296.6 228.6h1.05M310.5 228.8h1.05M313.1 228.9h1.05M315.7 229.5h1.05M317.3 229.3h1.05M321.7 229.4h1.05M321.9 229.2h1.05M323.1 228.9h1.05M324.1 229.2h1.05M337.5 229.4h1.05M338.7 229.2h1.05M347.0 229.4h1.05M353.9 229.3h1.05M373.1 228.8h1.05M271.4 230.2h1.05M272.5 229.6h1.05M274.9 229.9h1.05M282.9 230.0h1.05M286.5 230.0h1.05M289.1 230.4h1.05M290.7 229.7h1.05M298.0 230.2h1.05M303.2 230.3h1.05M311.9 230.0h1.05M314.4 230.4h1.05M314.9 230.0h1.05M316.8 230.2h1.05M319.9 230.4h1.05M321.8 229.7h1.05M323.1 230.2h1.05M325.6 230.4h1.05M333.2 229.8h1.05M337.5 230.1h1.05M338.4 230.4h1.05M339.7 230.4h1.05M347.7 230.1h1.05M350.4 230.2h1.05M276.6 231.1h1.05M279.4 231.1h1.05M281.5 231.0h1.05M282.1 231.0h1.05M284.5 231.2h1.05M290.0 231.4h1.05M301.1 230.9h1.05M304.8 231.3h1.05M309.9 231.1h1.05M313.7 230.6h1.05M319.7 230.8h1.05M321.7 231.4h1.05M323.7 231.4h1.05M325.6 231.1h1.05M325.8 230.6h1.05M334.7 230.9h1.05M338.1 230.6h1.05M345.0 230.6h1.05M271.6 232.1h1.05M273.7 232.4h1.05M275.9 231.7h1.05M276.9 231.9h1.05M281.9 231.6h1.05M286.4 231.7h1.05M287.5 232.1h1.05M288.8 232.1h1.05M293.9 231.9h1.05M298.5 231.5h1.05M308.1 232.2h1.05M309.1 231.7h1.05M311.0 231.9h1.05M312.3 232.0h1.05M313.4 232.3h1.05M318.3 231.7h1.05M320.6 231.5h1.05M321.0 232.1h1.05M323.2 232.2h1.05M324.9 232.4h1.05M326.6 231.7h1.05M327.9 231.8h1.05M330.4 232.5h1.05M346.1 232.3h1.05M350.7 231.7h1.05M372.6 231.9h1.05M375.2 231.9h1.05M271.6 233.5h1.05M272.7 232.8h1.05M275.2 233.0h1.05M283.6 233.0h1.05M284.0 232.7h1.05M286.3 233.5h1.05M287.7 233.2h1.05M294.3 233.0h1.05M301.8 233.2h1.05M302.5 232.9h1.05M306.5 233.1h1.05M308.7 233.2h1.05M320.3 233.3h1.05M322.5 233.2h1.05M323.3 233.4h1.05M335.1 233.3h1.05M339.7 233.1h1.05M353.5 232.6h1.05M354.3 232.8h1.05M362.0 233.4h1.05M371.7 232.8h1.05M271.4 233.8h1.05M272.6 234.1h1.05M280.0 234.3h1.05M283.8 234.3h1.05M287.3 233.7h1.05M288.9 233.7h1.05M294.4 233.8h1.05M297.4 234.3h1.05M298.0 234.0h1.05M306.6 234.1h1.05M307.9 233.8h1.05M309.1 233.8h1.05M310.7 233.5h1.05M312.4 234.0h1.05M313.1 234.2h1.05M314.6 234.0h1.05M315.6 233.8h1.05M320.1 233.9h1.05M322.3 234.4h1.05M332.4 233.6h1.05M336.4 233.9h1.05M344.0 233.9h1.05M372.3 234.1h1.05M272.7 234.5h1.05M276.0 235.5h1.05M278.8 234.8h1.05M280.2 235.1h1.05M286.9 235.0h1.05M289.7 235.0h1.05M292.0 235.5h1.05M293.0 234.7h1.05M296.4 235.1h1.05M296.9 234.9h1.05M298.7 235.0h1.05M300.5 234.6h1.05M306.5 235.3h1.05M307.2 234.6h1.05M311.5 235.4h1.05M314.8 235.2h1.05M318.6 235.4h1.05M320.3 235.3h1.05M321.6 234.7h1.05M323.3 234.6h1.05M325.8 235.1h1.05M327.6 234.5h1.05M352.6 235.4h1.05M357.1 235.0h1.05M376.7 234.9h1.05" stroke="#626262" stroke-width="1.05" stroke-opacity="1" fill="none"/>
<path d="M336.5 196.2h1.05M276.0 199.0h1.05M276.1 201.3h1.05M271.3 201.5h1.05M331.7 202.4h1.05M339.4 202.4h1.05M277.9 203.1h1.05M279.3 203.0h1.05M302.5 203.3h1.05M364.2 203.0h1.05M275.8 204.1h1.05M286.8 203.9h1.05M290.3 203.7h1.05M302.0 204.4h1.05M347.3 204.2h1.05M272.5 205.0h1.05M275.3 205.2h1.05M279.6 204.7h1.05M296.5 205.1h1.05M301.8 204.9h1.05M332.1 204.6h1.05M339.1 205.0h1.05M271.7 205.6h1.05M279.3 205.8h1.05M280.5 205.7h1.05M281.8 205.9h1.05M285.3 205.9h1.05M291.5 206.0h1.05M300.5 206.5h1.05M306.9 205.9h1.05M334.7 206.2h1.05M343.7 206.1h1.05M272.5 206.7h1.05M273.6 207.5h1.05M275.3 206.7h1.05M279.8 207.0h1.05M281.1 207.2h1.05M282.8 207.4h1.05M283.5 206.8h1.05M283.9 206.7h1.05M287.0 206.9h1.05M287.8 207.2h1.05M290.6 207.3h1.05M298.1 207.1h1.05M301.3 206.7h1.05M303.7 207.4h1.05M307.9 207.1h1.05M309.8 206.5h1.05M319.1 206.8h1.05M338.2 206.7h1.05M272.5 207.5h1.05M276.9 208.0h1.05M281.5 208.3h1.05M284.3 208.1h1.05M288.3 207.7h1.05M289.6 207.9h1.05M291.4 208.0h1.05M297.1 207.6h1.05M298.7 207.8h1.05M302.1 207.7h1.05M305.9 207.9h1.05M311.8 208.5h1.05M272.0 208.7h1.05M275.0 208.6h1.05M278.7 209.0h1.05M280.6 209.2h1.05M281.7 209.2h1.05M285.7 208.8h1.05M291.0 209.2h1.05M294.3 208.8h1.05M302.2 208.6h1.05M303.9 209.0h1.05M305.0 208.8h1.05M307.0 209.1h1.05M325.5 209.2h1.05M332.1 209.2h1.05M341.2 208.9h1.05M346.4 208.8h1.05M353.6 209.0h1.05M274.8 209.7h1.05M277.5 210.0h1.05M279.3 210.0h1.05M279.9 210.4h1.05M283.7 209.9h1.05M287.2 210.3h1.05M292.5 210.2h1.05M292.9 210.4h1.05M298.2 210.2h1.05M299.8 209.8h1.05M301.8 210.4h1.05M303.3 209.6h1.05M305.0 209.8h1.05M310.5 209.6h1.05M311.3 210.3h1.05M342.5 210.3h1.05M349.5 209.9h1.05M371.0 210.4h1.05M272.7 211.1h1.05M273.6 211.0h1.05M280.8 210.9h1.05M285.8 211.3h1.05M287.4 211.2h1.05M290.8 210.7h1.05M291.7 210.7h1.05M292.6 211.4h1.05M293.6 210.7h1.05M294.6 210.7h1.05M294.9 210.7h1.05M296.2 211.2h1.05M297.0 211.1h1.05M299.0 211.0h1.05M301.6 211.0h1.05M303.2 210.7h1.05M306.1 210.7h1.05M307.9 211.0h1.05M309.9 211.4h1.05M312.8 211.0h1.05M327.0 210.9h1.05M330.9 211.4h1.05M332.7 211.0h1.05M342.1 210.6h1.05M272.4 211.9h1.05M273.2 211.5h1.05M274.2 212.1h1.05M276.0 212.4h1.05M279.4 212.3h1.05M280.7 212.4h1.05M282.1 211.7h1.05M285.4 211.8h1.05M289.5 212.1h1.05M293.9 212.1h1.05M295.2 212.2h1.05M296.6 212.0h1.05M297.1 212.3h1.05M300.3 212.3h1.05M304.5 212.2h1.05M306.5 211.5h1.05M309.4 212.5h1.05M312.0 212.4h1.05M313.2 212.0h1.05M318.0 212.1h1.05M327.1 211.5h1.05M328.3 211.8h1.05M331.4 211.8h1.05M333.7 212.2h1.05M359.5 212.1h1.05M368.9 211.9h1.05M272.0 213.0h1.05M278.2 212.5h1.05M279.7 213.2h1.05M287.1 213.2h1.05M288.9 212.7h1.05M290.7 213.3h1.05M292.1 213.2h1.05M297.5 212.8h1.05M298.6 213.5h1.05M303.4 212.6h1.05M307.5 213.3h1.05M308.2 213.4h1.05M309.0 212.8h1.05M313.0 213.1h1.05M319.2 212.6h1.05M324.0 213.2h1.05M328.3 212.9h1.05M333.5 212.6h1.05M334.3 212.8h1.05M364.5 212.6h1.05M366.6 213.1h1.05M271.4 214.5h1.05M272.2 214.2h1.05M277.8 213.6h1.05M278.9 213.7h1.05M282.3 214.4h1.05M285.5 213.8h1.05M288.5 213.8h1.05M298.5 214.4h1.05M309.4 214.2h1.05M310.5 213.7h1.05M313.1 213.8h1.05M314.2 214.1h1.05M322.5 213.6h1.05M323.6 214.0h1.05M326.2 214.3h1.05M329.0 214.3h1.05M341.2 214.5h1.05M355.4 214.4h1.05M356.2 213.5h1.05M363.5 214.3h1.05M377.3 213.6h1.05M271.2 215.4h1.05M275.4 214.8h1.05M277.5 215.0h1.05M281.3 215.1h1.05M284.0 215.5h1.05M285.1 215.1h1.05M286.8 214.9h1.05M291.5 214.9h1.05M293.8 214.7h1.05M293.9 214.8h1.05M295.7 215.3h1.05M303.8 215.0h1.05M304.2 215.3h1.05M307.8 214.7h1.05M311.9 214.7h1.05M314.7 215.0h1.05M316.3 214.7h1.05M323.8 214.8h1.05M271.9 216.1h1.05M277.5 216.5h1.05M280.6 215.7h1.05M284.3 215.5h1.05M287.8 215.7h1.05M297.0 215.7h1.05M298.3 216.2h1.05M300.4 216.3h1.05M300.8 215.9h1.05M302.2 216.2h1.05M305.3 216.2h1.05M307.1 215.7h1.05M310.9 216.2h1.05M313.3 216.1h1.05M314.7 215.7h1.05M315.1 215.5h1.05M315.9 215.9h1.05M317.3 215.5h1.05M318.8 216.3h1.05M320.8 216.4h1.05M321.4 216.1h1.05M327.9 216.3h1.05M336.9 215.8h1.05M342.8 216.1h1.05M358.2 216.1h1.05M271.0 216.9h1.05M272.3 217.5h1.05M273.0 217.3h1.05M277.7 217.2h1.05M278.6 217.0h1.05M280.7 216.6h1.05M281.8 216.7h1.05M284.0 216.7h1.05M292.3 216.8h1.05M294.0 216.8h1.05M295.8 217.4h1.05M297.6 217.1h1.05M299.3 217.4h1.05M301.8 216.6h1.05M305.6 216.9h1.05M306.0 216.6h1.05M307.8 217.2h1.05M309.0 217.0h1.05M312.1 217.4h1.05M315.4 216.6h1.05M322.7 216.6h1.05M323.1 217.5h1.05M324.0 217.0h1.05M327.1 217.3h1.05M364.6 216.7h1.05M272.3 218.3h1.05M274.6 218.4h1.05M276.3 217.9h1.05M277.7 217.8h1.05M278.9 217.9h1.05M282.8 218.3h1.05M283.9 217.8h1.05M289.2 217.7h1.05M293.6 217.8h1.05M295.0 218.1h1.05M302.0 217.8h1.05M303.9 217.8h1.05M305.6 217.9h1.05M308.6 218.2h1.05M312.0 218.1h1.05M315.1 218.1h1.05M320.4 217.8h1.05M325.9 217.9h1.05M328.3 218.2h1.05M329.6 218.0h1.05M334.6 217.6h1.05M337.6 217.7h1.05M349.6 217.8h1.05M368.2 218.3h1.05M271.8 218.8h1.05M272.4 218.7h1.05M278.5 219.3h1.05M279.8 218.9h1.05M281.7 219.5h1.05M284.2 219.4h1.05M290.4 219.4h1.05M297.9 218.8h1.05M300.0 219.0h1.05M304.3 219.2h1.05M307.5 219.1h1.05M310.9 219.4h1.05M315.8 218.6h1.05M318.5 219.4h1.05M322.6 219.2h1.05M328.2 219.3h1.05M330.5 218.9h1.05M338.5 218.9h1.05M342.9 219.5h1.05M356.3 219.1h1.05M368.5 219.0h1.05M273.7 220.1h1.05M275.2 219.9h1.05M276.5 219.5h1.05M277.2 219.6h1.05M278.6 220.0h1.05M280.9 219.8h1.05M282.0 219.9h1.05M283.6 220.1h1.05M288.2 219.8h1.05M289.4 220.3h1.05M297.4 220.1h1.05M299.1 219.9h1.05M303.3 219.9h1.05M309.0 219.5h1.05M311.7 219.7h1.05M313.8 220.2h1.05M315.7 220.4h1.05M318.8 220.0h1.05M320.4 220.2h1.05M324.7 219.9h1.05M329.5 219.6h1.05M332.4 220.4h1.05M336.4 220.3h1.05M342.4 219.7h1.05M342.9 219.7h1.05M348.5 220.2h1.05M271.1 221.2h1.05M274.5 221.1h1.05M277.3 220.9h1.05M278.4 221.4h1.05M278.9 221.2h1.05M282.7 220.7h1.05M282.9 221.0h1.05M292.5 220.5h1.05M293.9 221.2h1.05M300.0 220.8h1.05M306.4 221.2h1.05M308.1 220.6h1.05M311.3 221.2h1.05M314.6 221.4h1.05M317.8 221.0h1.05M322.0 221.5h1.05M323.0 221.4h1.05M328.5 221.2h1.05M329.7 221.3h1.05M340.6 220.6h1.05M345.6 221.0h1.05M350.1 221.2h1.05M364.2 221.3h1.05M368.5 220.8h1.05M274.2 222.2h1.05M275.9 221.7h1.05M277.6 221.9h1.05M278.3 222.1h1.05M279.6 222.3h1.05M280.9 222.3h1.05M287.5 222.5h1.05M288.0 222.1h1.05M299.5 221.8h1.05M303.5 222.4h1.05M304.3 221.8h1.05M308.8 221.6h1.05M310.5 222.3h1.05M311.3 221.5h1.05M313.7 222.2h1.05M314.0 222.4h1.05M315.9 222.2h1.05M321.0 222.4h1.05M321.8 221.7h1.05M323.1 221.5h1.05M326.6 222.1h1.05M331.3 222.2h1.05M332.4 221.6h1.05M334.1 222.3h1.05M337.4 222.4h1.05M341.6 222.0h1.05M348.2 221.7h1.05M360.6 222.1h1.05M272.2 223.0h1.05M273.3 222.5h1.05M273.8 222.8h1.05M276.5 223.3h1.05M277.4 222.7h1.05M278.5 223.1h1.05M283.6 223.1h1.05M284.1 222.6h1.05M294.6 222.7h1.05M298.8 222.5h1.05M301.0 222.5h1.05M308.5 222.6h1.05M309.7 222.9h1.05M317.6 222.5h1.05M322.8 222.6h1.05M323.2 222.7h1.05M325.1 223.2h1.05M328.9 222.7h1.05M331.0 223.3h1.05M343.0 222.9h1.05M350.0 223.0h1.05M358.4 223.4h1.05M273.9 223.6h1.05M275.7 223.5h1.05M279.3 223.6h1.05M282.5 224.4h1.05M293.4 224.4h1.05M297.4 224.0h1.05M300.0 223.8h1.05M303.7 223.8h1.05M303.8 223.7h1.05M306.7 224.2h1.05M308.0 224.1h1.05M309.3 224.2h1.05M312.4 223.5h1.05M312.9 224.0h1.05M316.4 224.0h1.05M322.0 224.0h1.05M325.3 224.4h1.05M328.1 224.2h1.05M338.7 224.2h1.05M339.6 224.3h1.05M350.8 223.7h1.05M353.0 223.9h1.05M375.4 223.8h1.05M272.2 224.6h1.05M276.2 224.5h1.05M276.9 225.0h1.05M286.0 225.2h1.05M293.7 224.8h1.05M296.2 225.4h1.05M298.3 224.9h1.05M303.1 225.4h1.05M305.2 225.0h1.05M309.4 225.5h1.05M311.6 225.1h1.05M313.9 224.7h1.05M317.7 224.5h1.05M321.0 224.9h1.05M326.4 225.4h1.05M331.4 225.4h1.05M347.8 225.2h1.05M360.7 225.4h1.05M271.3 226.4h1.05M272.0 226.1h1.05M282.1 226.2h1.05M286.4 225.8h1.05M290.6 226.4h1.05M291.2 226.3h1.05M302.2 226.3h1.05M307.2 226.5h1.05M308.3 225.8h1.05M309.6 226.2h1.05M312.9 226.3h1.05M314.6 226.1h1.05M316.6 225.9h1.05M317.0 226.5h1.05M325.1 225.8h1.05M327.1 225.6h1.05M332.2 225.9h1.05M343.5 226.5h1.05M359.8 226.4h1.05M272.7 227.1h1.05M279.5 226.5h1.05M282.1 226.5h1.05M305.3 226.5h1.05M309.9 227.3h1.05M312.4 226.8h1.05M313.7 226.8h1.05M314.3 226.8h1.05M317.3 226.7h1.05M320.9 226.5h1.05M323.3 226.5h1.05M323.9 226.9h1.05M332.2 227.4h1.05M334.6 227.2h1.05M337.8 227.3h1.05M341.0 227.2h1.05M344.8 227.4h1.05M348.7 227.2h1.05M371.6 227.5h1.05M275.5 227.7h1.05M278.1 227.7h1.05M281.6 228.3h1.05M282.0 228.4h1.05M285.6 228.1h1.05M290.8 227.8h1.05M293.7 228.2h1.05M294.2 228.1h1.05M296.0 227.8h1.05M302.9 227.6h1.05M307.3 228.5h1.05M312.4 228.5h1.05M314.4 227.6h1.05M317.0 227.7h1.05M318.4 228.1h1.05M319.6 227.7h1.05M322.1 227.8h1.05M324.4 228.0h1.05M326.3 228.4h1.05M332.9 228.2h1.05M335.4 227.8h1.05M351.0 227.8h1.05M271.3 229.1h1.05M282.3 228.8h1.05M286.0 229.2h1.05M287.6 229.4h1.05M287.9 229.3h1.05M289.2 228.6h1.05M290.1 229.4h1.05M293.1 228.5h1.05M294.8 229.1h1.05M301.5 228.9h1.05M303.5 229.0h1.05M304.4 229.2h1.05M308.9 229.4h1.05M312.7 229.3h1.05M314.0 228.7h1.05M316.1 229.0h1.05M325.3 229.2h1.05M326.7 228.9h1.05M326.9 228.5h1.05M335.4 228.8h1.05M339.6 229.4h1.05M273.7 230.3h1.05M274.1 229.6h1.05M276.6 229.7h1.05M277.5 230.3h1.05M278.4 230.1h1.05M279.4 230.1h1.05M280.0 229.6h1.05M281.4 230.1h1.05M285.0 230.3h1.05M287.8 229.9h1.05M292.6 229.9h1.05M293.0 230.3h1.05M295.7 229.7h1.05M297.3 230.0h1.05M299.4 229.9h1.05M305.8 230.0h1.05M310.6 229.6h1.05M313.7 229.9h1.05M317.0 229.7h1.05M331.9 229.8h1.05M336.1 229.9h1.05M343.7 230.0h1.05M352.4 230.3h1.05M360.5 230.0h1.05M271.4 231.3h1.05M274.2 230.8h1.05M277.1 231.0h1.05M280.5 230.6h1.05M283.4 231.2h1.05M289.1 231.1h1.05M291.9 230.6h1.05M296.7 231.0h1.05M297.4 231.1h1.05M300.5 230.9h1.05M305.4 231.3h1.05M306.5 231.2h1.05M307.5 231.0h1.05M311.2 231.1h1.05M314.1 230.7h1.05M315.6 230.5h1.05M316.0 230.8h1.05M318.5 230.8h1.05M320.5 231.2h1.05M328.6 231.3h1.05M351.6 231.3h1.05M362.8 230.9h1.05M275.1 232.0h1.05M278.5 232.4h1.05M280.0 231.7h1.05M280.8 232.0h1.05M282.9 231.6h1.05M292.7 231.8h1.05M293.0 231.6h1.05M299.0 231.9h1.05M301.4 231.9h1.05M302.4 232.0h1.05M304.1 232.3h1.05M305.1 231.5h1.05M306.2 231.5h1.05M314.4 231.5h1.05M315.7 231.8h1.05M324.2 232.0h1.05M332.6 232.0h1.05M333.3 232.0h1.05M353.4 232.3h1.05M374.1 231.5h1.05M274.5 232.9h1.05M280.7 233.2h1.05M282.0 233.4h1.05M288.8 232.8h1.05M290.6 232.6h1.05M293.2 233.2h1.05M295.4 233.0h1.05M299.6 232.6h1.05M303.7 233.3h1.05M311.0 233.4h1.05M313.5 233.1h1.05M316.7 233.2h1.05M317.6 232.9h1.05M319.3 233.3h1.05M321.5 233.4h1.05M325.1 232.6h1.05M348.9 232.8h1.05M357.7 233.3h1.05M273.5 234.2h1.05M278.6 234.4h1.05M279.1 234.4h1.05M280.9 233.8h1.05M282.3 233.9h1.05M288.7 233.6h1.05M292.7 233.6h1.05M293.1 234.4h1.05M295.2 233.7h1.05M296.4 234.4h1.05M299.3 234.3h1.05M302.1 234.1h1.05M304.2 234.0h1.05M305.5 233.5h1.05M316.3 234.3h1.05M318.2 234.3h1.05M323.0 234.1h1.05M323.9 233.8h1.05M328.6 233.7h1.05M330.2 233.8h1.05M361.2 233.8h1.05M271.2 234.9h1.05M273.8 235.1h1.05M275.5 234.9h1.05M277.0 234.9h1.05M279.5 235.2h1.05M282.2 235.4h1.05M283.0 234.9h1.05M285.3 235.4h1.05M286.0 234.9h1.05M288.8 234.8h1.05M290.0 235.2h1.05M299.7 234.5h1.05M301.1 234.9h1.05M304.3 235.3h1.05M310.4 235.1h1.05M312.9 234.7h1.05M313.9 234.8h1.05M316.7 235.0h1.05M317.5 234.9h1.05M322.5 235.1h1.05M324.1 235.1h1.05M341.1 235.3h1.05M343.4 234.8h1.05" stroke="#888888" stroke-width="1.05" stroke-opacity="1" fill="none"/>
<path d="M293.4 200.4h1.05M339.4 200.0h1.05M282.2 201.0h1.05M274.6 203.6h1.05M279.1 204.3h1.05M282.8 203.7h1.05M377.4 204.5h1.05M275.4 206.5h1.05M286.5 206.0h1.05M289.0 206.4h1.05M309.4 206.4h1.05M293.9 207.2h1.05M280.0 207.9h1.05M292.1 208.3h1.05M296.7 207.8h1.05M307.3 207.8h1.05M307.9 207.9h1.05M276.3 208.6h1.05M288.4 209.3h1.05M289.4 208.5h1.05M298.8 208.9h1.05M308.7 209.0h1.05M311.2 209.2h1.05M312.4 209.1h1.05M316.6 209.1h1.05M272.6 209.8h1.05M274.4 210.4h1.05M304.0 209.7h1.05M309.5 209.9h1.05M312.5 209.6h1.05M332.7 210.3h1.05M281.8 210.8h1.05M271.3 211.8h1.05M284.4 211.5h1.05M291.5 212.0h1.05M299.4 212.1h1.05M305.0 212.5h1.05M307.0 212.0h1.05M314.3 212.1h1.05M360.8 211.8h1.05M272.8 213.4h1.05M275.3 213.2h1.05M280.1 213.0h1.05M282.5 213.1h1.05M283.3 213.1h1.05M284.9 212.9h1.05M286.4 213.0h1.05M288.5 213.4h1.05M298.9 212.5h1.05M306.6 212.8h1.05M309.9 213.3h1.05M280.0 213.8h1.05M281.3 214.2h1.05M287.5 214.0h1.05M290.2 213.7h1.05M292.1 214.0h1.05M295.7 213.9h1.05M299.5 214.1h1.05M300.6 214.4h1.05M301.4 214.0h1.05M302.7 213.6h1.05M305.3 214.0h1.05M307.4 213.8h1.05M311.0 213.8h1.05M315.4 213.6h1.05M324.2 213.5h1.05M325.4 214.4h1.05M328.7 214.2h1.05M365.6 214.3h1.05M272.8 215.3h1.05M286.7 214.9h1.05M288.1 214.7h1.05M289.3 214.9h1.05M292.2 214.5h1.05M300.4 214.9h1.05M302.4 215.1h1.05M317.6 215.5h1.05M273.6 215.8h1.05M279.5 216.1h1.05M281.5 216.2h1.05M282.9 216.1h1.05M285.7 215.5h1.05M287.3 216.5h1.05M289.0 216.0h1.05M290.3 216.1h1.05M293.7 216.1h1.05M294.7 215.5h1.05M303.8 216.3h1.05M308.7 215.8h1.05M310.0 216.1h1.05M322.0 215.6h1.05M332.7 216.0h1.05M333.9 216.2h1.05M340.0 216.4h1.05M354.6 215.7h1.05M274.2 216.6h1.05M275.1 216.7h1.05M276.1 216.9h1.05M283.7 216.9h1.05M287.8 216.7h1.05M287.9 217.0h1.05M290.7 217.3h1.05M290.9 216.6h1.05M298.4 217.1h1.05M301.8 216.9h1.05M303.3 216.7h1.05M304.4 216.6h1.05M306.9 217.5h1.05M314.3 217.4h1.05M320.0 217.2h1.05M345.1 217.4h1.05M278.0 218.0h1.05M281.0 218.1h1.05M282.2 217.6h1.05M286.9 217.6h1.05M288.8 217.5h1.05M292.7 218.3h1.05M294.4 218.4h1.05M296.2 218.1h1.05M297.3 218.5h1.05M298.0 217.7h1.05M299.4 218.4h1.05M300.0 218.2h1.05M301.2 218.1h1.05M306.7 218.3h1.05M307.5 217.5h1.05M310.6 218.3h1.05M314.7 218.4h1.05M317.2 218.1h1.05M319.8 218.2h1.05M321.5 217.6h1.05M276.9 219.4h1.05M283.4 218.7h1.05M286.0 219.5h1.05M288.7 218.9h1.05M289.5 218.9h1.05M293.8 218.7h1.05M294.2 218.9h1.05M295.6 219.3h1.05M299.3 218.8h1.05M302.1 219.3h1.05M303.2 218.8h1.05M305.1 219.2h1.05M309.4 219.1h1.05M309.9 219.2h1.05M313.0 218.8h1.05M314.2 218.7h1.05M272.3 219.6h1.05M274.5 220.1h1.05M279.8 219.9h1.05M284.0 220.0h1.05M295.1 219.8h1.05M296.2 219.8h1.05M301.1 220.2h1.05M306.4 220.0h1.05M308.3 220.0h1.05M310.6 220.0h1.05M316.5 219.9h1.05M317.7 219.7h1.05M327.4 220.2h1.05M275.1 220.8h1.05M280.6 220.9h1.05M281.0 221.0h1.05M283.9 221.4h1.05M286.1 220.6h1.05M289.7 220.7h1.05M291.8 220.9h1.05M293.6 220.7h1.05M295.4 221.0h1.05M305.2 221.3h1.05M309.5 221.3h1.05M312.7 220.5h1.05M316.7 220.6h1.05M320.4 220.9h1.05M336.5 220.7h1.05M280.0 222.4h1.05M282.7 222.2h1.05M282.8 222.2h1.05M284.7 222.4h1.05M286.2 222.3h1.05M296.5 222.2h1.05M296.9 222.5h1.05M298.3 222.2h1.05M302.8 221.5h1.05M305.2 221.7h1.05M307.3 221.6h1.05M309.6 221.8h1.05M315.3 221.6h1.05M317.5 222.0h1.05M320.5 221.8h1.05M349.0 222.5h1.05M270.9 222.6h1.05M275.8 223.4h1.05M281.1 222.8h1.05M285.1 223.0h1.05M291.5 223.1h1.05M295.3 223.4h1.05M298.3 222.8h1.05M300.5 222.9h1.05M303.9 223.1h1.05M304.9 223.2h1.05M306.0 223.2h1.05M310.0 223.4h1.05M311.1 223.3h1.05M319.6 222.9h1.05M335.3 223.5h1.05M346.6 223.5h1.05M278.5 224.1h1.05M280.5 223.6h1.05M285.2 224.1h1.05M289.1 224.4h1.05M296.2 224.5h1.05M298.7 224.1h1.05M302.0 224.3h1.05M306.9 223.7h1.05M315.4 224.2h1.05M317.6 223.5h1.05M326.8 223.6h1.05M331.5 223.7h1.05M336.3 223.6h1.05M348.4 224.4h1.05M369.3 224.0h1.05M273.2 225.4h1.05M274.1 225.5h1.05M278.5 225.3h1.05M279.1 225.1h1.05M280.7 224.8h1.05M281.8 225.4h1.05M283.4 225.4h1.05M284.5 224.5h1.05M290.6 225.3h1.05M291.5 225.2h1.05M295.6 224.8h1.05M299.8 224.6h1.05M300.4 225.1h1.05M301.6 225.3h1.05M302.8 224.8h1.05M305.8 224.5h1.05M310.3 224.7h1.05M312.1 224.6h1.05M313.0 225.5h1.05M333.6 225.3h1.05M353.2 225.5h1.05M276.8 226.1h1.05M277.6 226.2h1.05M278.7 226.3h1.05M280.6 225.5h1.05M287.0 225.5h1.05M292.9 226.3h1.05M294.4 225.7h1.05M297.0 225.5h1.05M299.2 226.2h1.05M300.3 226.1h1.05M303.9 226.1h1.05M305.3 226.0h1.05M306.6 226.2h1.05M312.5 225.9h1.05M315.6 226.1h1.05M319.3 226.2h1.05M337.1 225.6h1.05M274.3 226.6h1.05M280.7 226.9h1.05M281.8 227.4h1.05M286.1 226.9h1.05M287.8 227.1h1.05M288.5 227.2h1.05M289.6 227.1h1.05M290.8 227.5h1.05M291.4 226.8h1.05M295.2 226.7h1.05M297.3 227.4h1.05M302.2 227.5h1.05M304.8 227.4h1.05M305.9 226.8h1.05M309.1 226.8h1.05M328.7 227.4h1.05M271.0 227.6h1.05M274.5 228.1h1.05M276.0 227.9h1.05M279.5 228.2h1.05M283.5 227.7h1.05M287.7 228.1h1.05M292.5 228.0h1.05M297.4 227.7h1.05M297.9 228.0h1.05M299.4 228.4h1.05M301.4 227.5h1.05M306.1 227.7h1.05M308.1 228.2h1.05M309.5 228.4h1.05M313.0 227.7h1.05M315.6 227.7h1.05M343.7 228.4h1.05M272.2 228.9h1.05M274.0 228.8h1.05M278.8 228.9h1.05M281.0 229.2h1.05M283.0 229.2h1.05M284.1 229.2h1.05M284.8 229.3h1.05M300.7 229.3h1.05M302.5 228.6h1.05M306.0 228.9h1.05M310.9 229.5h1.05M319.3 228.9h1.05M320.1 228.7h1.05M328.8 228.9h1.05M329.0 229.4h1.05M332.9 228.7h1.05M282.1 230.2h1.05M284.1 229.8h1.05M288.3 230.3h1.05M291.4 230.4h1.05M294.2 229.7h1.05M296.1 230.3h1.05M300.5 229.7h1.05M300.9 229.9h1.05M302.0 230.1h1.05M305.1 230.1h1.05M307.1 230.1h1.05M308.1 229.5h1.05M308.9 229.9h1.05M319.2 230.4h1.05M322.3 229.6h1.05M335.2 230.1h1.05M275.5 231.2h1.05M278.7 231.1h1.05M287.7 230.9h1.05M288.3 231.5h1.05M291.2 231.3h1.05M293.0 230.7h1.05M294.7 231.2h1.05M295.0 230.9h1.05M298.8 231.1h1.05M307.8 231.0h1.05M317.6 231.3h1.05M323.9 231.5h1.05M336.7 231.1h1.05M272.7 231.9h1.05M274.2 231.9h1.05M279.0 231.9h1.05M284.9 232.1h1.05M288.3 232.2h1.05M290.3 232.0h1.05M291.3 232.4h1.05M294.8 231.9h1.05M297.0 232.0h1.05M300.3 231.9h1.05M303.8 232.5h1.05M307.3 231.8h1.05M310.0 231.6h1.05M316.2 231.9h1.05M335.9 232.0h1.05M284.9 232.9h1.05M289.3 232.6h1.05M295.8 232.7h1.05M297.0 233.1h1.05M298.0 232.6h1.05M299.9 233.2h1.05M304.9 233.1h1.05M306.9 232.6h1.05M310.6 233.0h1.05M314.8 232.6h1.05M315.6 233.0h1.05M337.9 233.2h1.05M276.1 233.6h1.05M277.1 234.0h1.05M283.7 234.3h1.05M290.3 234.3h1.05M290.9 233.8h1.05M307.2 233.6h1.05M363.8 234.2h1.05M273.7 235.2h1.05M281.3 234.5h1.05M284.7 234.7h1.05M295.3 234.8h1.05M305.1 234.7h1.05M308.0 234.5h1.05M312.5 235.2h1.05M319.7 234.6h1.05M340.8 235.4h1.05" stroke="#acacac" stroke-width="1.05" stroke-opacity="1" fill="none"/>
<path d="M330.6 200.8h1.05M298.8 204.5h1.05M279.6 209.4h1.05M327.6 210.1h1.05M278.2 212.4h1.05M283.3 211.9h1.05M301.5 213.1h1.05M289.7 213.7h1.05M294.7 213.7h1.05M297.3 213.9h1.05M289.9 214.9h1.05M298.6 214.7h1.05M299.1 214.7h1.05M301.3 215.0h1.05M282.5 216.0h1.05M286.2 216.4h1.05M291.1 216.5h1.05M296.7 215.6h1.05M298.8 216.0h1.05M302.8 216.3h1.05M292.9 216.7h1.05M295.1 216.6h1.05M300.2 216.8h1.05M289.9 218.5h1.05M291.7 217.6h1.05M303.3 217.9h1.05M275.6 218.9h1.05M282.8 219.5h1.05M287.6 219.5h1.05M291.5 218.6h1.05M291.8 218.6h1.05M296.7 219.0h1.05M297.2 218.6h1.05M301.6 218.5h1.05M306.7 218.7h1.05M311.9 219.0h1.05M331.2 219.2h1.05M271.4 219.6h1.05M278.8 220.2h1.05M285.4 219.7h1.05M286.8 220.3h1.05M287.1 220.2h1.05M290.2 219.9h1.05M292.5 219.5h1.05M293.7 219.7h1.05M294.3 219.6h1.05M297.9 219.5h1.05M300.0 220.5h1.05M302.1 219.6h1.05M304.0 220.5h1.05M305.4 220.2h1.05M307.0 219.8h1.05M285.3 220.6h1.05M287.1 221.3h1.05M288.4 220.7h1.05M290.4 221.0h1.05M297.2 221.0h1.05M298.4 220.8h1.05M299.0 221.2h1.05M301.2 220.9h1.05M302.6 221.0h1.05M303.7 221.2h1.05M304.1 220.8h1.05M306.9 221.1h1.05M310.6 221.1h1.05M314.9 220.8h1.05M321.6 221.0h1.05M331.6 221.1h1.05M285.5 221.6h1.05M289.8 222.2h1.05M290.7 221.9h1.05M291.4 221.6h1.05M291.9 221.9h1.05M293.5 222.2h1.05M294.5 222.3h1.05M295.1 222.2h1.05M301.7 221.7h1.05M306.5 222.3h1.05M311.9 222.2h1.05M280.3 222.6h1.05M282.0 222.7h1.05M286.2 223.3h1.05M287.2 222.8h1.05M288.6 222.8h1.05M289.6 223.0h1.05M290.0 222.7h1.05M292.0 223.1h1.05M296.4 223.3h1.05M297.0 222.8h1.05M302.7 222.9h1.05M303.6 223.2h1.05M306.9 222.6h1.05M313.4 222.6h1.05M283.6 223.9h1.05M284.6 223.9h1.05M286.3 224.2h1.05M286.9 224.4h1.05M288.7 224.5h1.05M290.7 224.4h1.05M291.0 224.2h1.05M292.2 224.5h1.05M295.8 224.3h1.05M299.1 223.8h1.05M301.2 224.3h1.05M310.2 224.4h1.05M311.6 223.6h1.05M314.7 224.2h1.05M285.1 225.2h1.05M287.0 225.2h1.05M288.3 224.9h1.05M289.7 225.1h1.05M292.5 225.2h1.05M294.1 225.0h1.05M297.8 225.4h1.05M304.5 224.9h1.05M307.9 225.1h1.05M281.4 226.1h1.05M284.5 225.9h1.05M285.5 225.6h1.05M288.2 225.8h1.05M289.0 225.5h1.05M292.0 225.8h1.05M295.2 226.2h1.05M296.4 225.5h1.05M297.9 226.0h1.05M301.4 226.0h1.05M302.9 225.6h1.05M278.5 227.0h1.05M283.6 226.5h1.05M284.4 226.9h1.05M285.1 226.6h1.05M292.1 226.6h1.05M293.1 227.4h1.05M294.0 227.3h1.05M296.3 227.1h1.05M298.3 226.6h1.05M298.9 226.7h1.05M300.3 227.0h1.05M301.6 226.5h1.05M302.9 227.5h1.05M315.2 227.1h1.05M280.7 227.7h1.05M285.9 227.5h1.05M288.7 227.9h1.05M289.0 228.4h1.05M290.7 227.6h1.05M295.3 227.7h1.05M300.7 228.1h1.05M302.1 228.1h1.05M303.9 228.2h1.05M305.2 227.6h1.05M272.9 228.8h1.05M280.6 228.5h1.05M292.4 228.9h1.05M294.9 228.8h1.05M297.5 229.2h1.05M298.4 229.0h1.05M299.3 228.9h1.05M305.2 229.0h1.05M307.6 228.5h1.05M308.4 229.0h1.05M304.8 229.6h1.05M310.9 230.3h1.05M326.2 229.8h1.05M285.1 231.5h1.05M298.8 231.5h1.05M303.4 231.1h1.05M308.9 231.2h1.05M284.0 232.4h1.05M291.6 232.7h1.05M303.9 232.9h1.05M309.5 233.2h1.05M323.9 233.1h1.05M310.9 233.8h1.05M321.4 233.8h1.05" stroke="#cdcdcd" stroke-width="1.05" stroke-opacity="1" fill="none"/>
</g>
<path d="M270.6 168.2H411.3V262.8" stroke="#4a4a4a" stroke-width="1" fill="none"/>
<path d="M325.5 168.2V262.8M270.6 235.5H411.3" stroke="#4a4a4a" stroke-width="1" fill="none"/>
<path d="M270.6 168.2V262.8H411.3" stroke="#111" stroke-width="1.3" fill="none"/>
<rect x="325.5" y="193.3" width="53.80000000000001" height="42.19999999999999" stroke="#111" stroke-width="1.3" fill="none"/>
<path d="M268.6 204.6h2M268.6 197.9h2M268.6 193.2h2M268.6 189.5h2M268.6 186.6h2M268.6 184.0h2M268.6 181.9h2M268.6 179.9h2M268.6 235.6h2M268.6 230.9h2M268.6 227.2h2M268.6 224.3h2M268.6 221.7h2M268.6 219.6h2M268.6 217.6h2M267.4 178.2h3.2M267.4 215.9h3.2" stroke="#222" stroke-width="0.8" fill="none"/>
<text class="t" x="258.8" y="183.6">10</text><text class="s" x="264.0" y="180.3">5</text>
<text class="t" x="258.8" y="221.3">10</text><text class="s" x="264.0" y="218.0">4</text>
<path d="M271.0 262.8v2.6M280.1 262.8v2.6M292.1 262.8v2.6M345.4 262.8v2.6M375.7 262.8v2.6M400.4 262.8v2.6M308.1 262.8v1.7M317.5 262.8v1.7M324.2 262.8v1.7M329.4 262.8v1.7M333.6 262.8v1.7M337.1 262.8v1.7M340.2 262.8v1.7M343.0 262.8v1.7M354.5 262.8v1.7M359.9 262.8v1.7M363.6 262.8v1.7M366.6 262.8v1.7M369.0 262.8v1.7M371.0 262.8v1.7M372.8 262.8v1.7M374.3 262.8v1.7M383.1 262.8v1.7M387.5 262.8v1.7M390.6 262.8v1.7M393.0 262.8v1.7M394.9 262.8v1.7M396.6 262.8v1.7M398.0 262.8v1.7M399.3 262.8v1.7M407.9 262.8v1.7" stroke="#222" stroke-width="0.8" fill="none"/>
<path d="M271.6 263.90000000000003h20" stroke="#333" stroke-width="1" stroke-dasharray="1.2 0.7"/>
<path d="M278.6 264.2h5" stroke="#111" stroke-width="1.6"/>
<text class="t" x="262.1" y="274.8">-10</text><text class="s" x="270.4" y="271.2">2</text>
<text class="t" x="273.6" y="274.8">-10</text><text class="s" x="281.9" y="271.2">1</text>
<text class="t" x="287.8" y="274.8">10</text><text class="s" x="294.1" y="271.2">2</text>
<text class="t" x="339.9" y="274.8">10</text><text class="s" x="346.2" y="271.2">3</text>
<text class="t" x="371.0" y="274.8">10</text><text class="s" x="377.3" y="271.2">4</text>
<text class="t" x="395.9" y="274.8">10</text><text class="s" x="402.2" y="271.2">5</text>
<text class="b" font-size="9" x="381.3" y="217">10.65%</text>
<text class="b" font-size="22.2" transform="translate(0.6 342) scale(1.06 1)">B</text>
<text class="b" font-size="12.7" x="126" y="334.4">TCE3</text>
<text class="b" font-size="11.55" text-anchor="middle" transform="translate(9.6 414.2) rotate(-90)">% CD4+CD137+ cells</text>
<path d="M68.5 472.49199999999996V459.883M56.5 459.883H80.5" stroke="#000" stroke-width="1.6" fill="none"/>
<rect x="45.5" y="473.5" width="46" height="10.2" fill="#fff" stroke="#000" stroke-width="2"/>
<path d="M138 436.533V401.975M126 401.975H150" stroke="#000" stroke-width="1.6" fill="none"/>
<rect x="115" y="437.5" width="46" height="46.2" fill="#d9d9d9" stroke="#000" stroke-width="2"/>
<path d="M207.6 401.975V363.681M195.6 363.681H219.6" stroke="#000" stroke-width="1.6" fill="none"/>
<rect x="184.6" y="403.0" width="46" height="80.7" fill="#000" stroke="#000" stroke-width="2"/>
<path d="M33.3 342.6V483.7M29.299999999999997 483.7H243M29.299999999999997 483.7H33.3M29.299999999999997 437.0H33.3M29.299999999999997 390.3H33.3M29.299999999999997 343.6H33.3M68.5 483.7v4.5M138 483.7v4.5M207.6 483.7v4.5" stroke="#000" stroke-width="2" fill="none"/>
<text class="b" font-size="10.2" text-anchor="end" x="28.499999999999996" y="487.4">0</text>
<text class="b" font-size="10.2" text-anchor="end" x="28.499999999999996" y="440.7">10</text>
<text class="b" font-size="10.2" text-anchor="end" x="28.499999999999996" y="394.0">20</text>
<text class="b" font-size="10.2" text-anchor="end" x="28.499999999999996" y="347.3">30</text>
<path d="M70.7 349.9H207.8M70.7 387.2H135.3" stroke="#000" stroke-width="1.25" fill="none"/>
<text class="b" font-size="8.5" text-anchor="middle" x="141" y="347.3">***</text>
<text class="b" font-size="11" text-anchor="middle" x="102.8" y="384.8">*</text>
<text class="b" font-size="10.8" text-anchor="end" transform="translate(71.7 500.1) rotate(-45)">Permissive TCE3</text>
<text class="b" font-size="10" text-anchor="middle" transform="translate(46.7 544.3) rotate(-45)">n=15</text>
<text class="b" font-size="10.8" text-anchor="end" transform="translate(141.2 500.1) rotate(-45)">Non Permissive TCE3</text>
<text class="b" font-size="10" text-anchor="middle" transform="translate(110.5 545.4) rotate(-45)">n=9</text>
<text class="b" font-size="10.8" text-anchor="end" transform="translate(210.8 500.1) rotate(-45)">Fully Allogeneic</text>
<text class="b" font-size="10" text-anchor="middle" transform="translate(183.5 546.3) rotate(-45)">n=8</text>
<text class="b" font-size="12.7" x="402.2" y="334.4">TCE4</text>
<text class="b" font-size="11.55" text-anchor="middle" transform="translate(285.3 414.2) rotate(-90)">% CD4+CD137+ cells</text>
<path d="M344 475.5275V462.21799999999996M332 462.21799999999996H356" stroke="#000" stroke-width="1.6" fill="none"/>
<rect x="321" y="476.5" width="46" height="7.2" fill="#fff" stroke="#000" stroke-width="2"/>
<path d="M413.8 447.741V415.518M401.8 415.518H425.8" stroke="#000" stroke-width="1.6" fill="none"/>
<rect x="390.8" y="448.7" width="46" height="35.0" fill="#d9d9d9" stroke="#000" stroke-width="2"/>
<path d="M483.4 401.975V363.681M471.4 363.681H495.4" stroke="#000" stroke-width="1.6" fill="none"/>
<rect x="460.4" y="403.0" width="46" height="80.7" fill="#000" stroke="#000" stroke-width="2"/>
<path d="M308.9 342.6V483.7M304.9 483.7H518.8M304.9 483.7H308.9M304.9 437.0H308.9M304.9 390.3H308.9M304.9 343.6H308.9M344 483.7v4.5M413.8 483.7v4.5M483.4 483.7v4.5" stroke="#000" stroke-width="2" fill="none"/>
<text class="b" font-size="10.2" text-anchor="end" x="304.09999999999997" y="487.4">0</text>
<text class="b" font-size="10.2" text-anchor="end" x="304.09999999999997" y="440.7">10</text>
<text class="b" font-size="10.2" text-anchor="end" x="304.09999999999997" y="394.0">20</text>
<text class="b" font-size="10.2" text-anchor="end" x="304.09999999999997" y="347.3">30</text>
<path d="M346.7 349.9H483.4M346.7 387.2H411" stroke="#000" stroke-width="1.25" fill="none"/>
<text class="b" font-size="8.5" text-anchor="middle" x="416.5" y="347.3">***</text>
<text class="b" font-size="11" text-anchor="middle" x="378.5" y="384.8">*</text>
<text class="b" font-size="10.8" text-anchor="end" transform="translate(347.2 500.1) rotate(-45)">Permissive TCE4</text>
<text class="b" font-size="10" text-anchor="middle" transform="translate(322.2 544.3) rotate(-45)">n=10</text>
<text class="b" font-size="10.8" text-anchor="end" transform="translate(417.0 500.1) rotate(-45)">Non Permissive TCE4</text>
<text class="b" font-size="10" text-anchor="middle" transform="translate(386.3 545.4) rotate(-45)">n=14</text>
<text class="b" font-size="10.8" text-anchor="end" transform="translate(486.6 500.1) rotate(-45)">Fully Allogeneic</text>
<text class="b" font-size="10" text-anchor="middle" transform="translate(459.3 546.3) rotate(-45)">n=8</text>
</svg></body></html>
